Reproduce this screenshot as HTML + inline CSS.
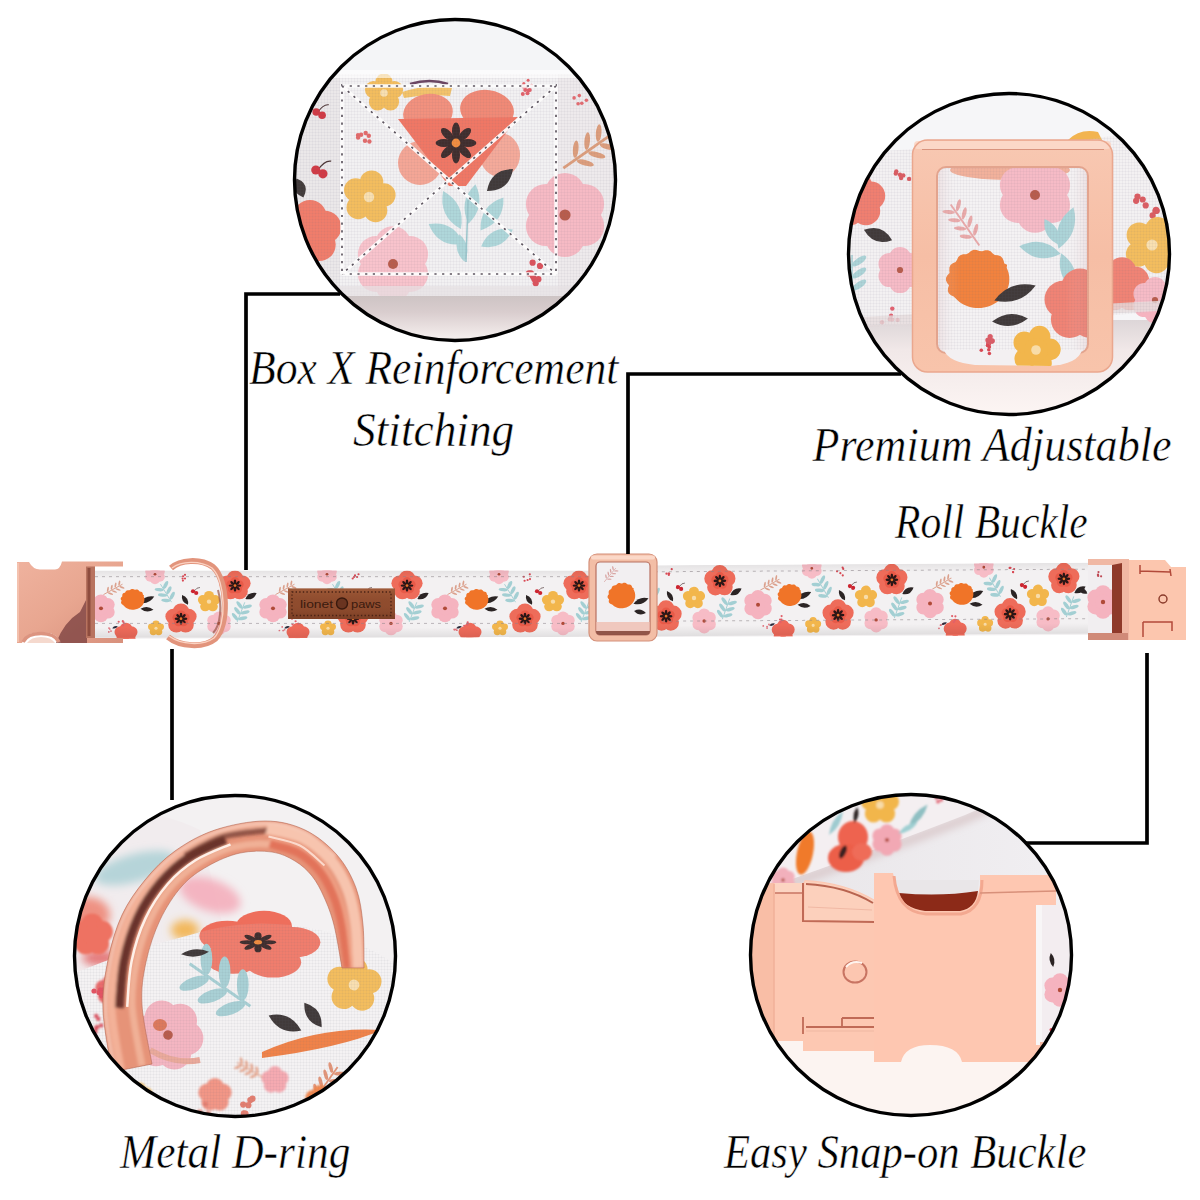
<!DOCTYPE html>
<html><head><meta charset="utf-8"><title>Collar</title>
<style>
html,body{margin:0;padding:0;background:#fff;width:1200px;height:1200px;overflow:hidden}
svg{position:absolute;left:0;top:0;display:block}
.t{font-family:"Liberation Serif",serif;font-style:italic;fill:#000;stroke:#fff;stroke-width:0.5px}
</style></head><body>
<svg width="1200" height="1200" viewBox="0 0 1200 1200">
<defs>
<clipPath id="c1"><circle cx="455" cy="180" r="160.5"/></clipPath>
<clipPath id="c2"><circle cx="1009" cy="254" r="160.5"/></clipPath>
<clipPath id="c3"><circle cx="235" cy="956" r="160.5"/></clipPath>
<clipPath id="c4"><circle cx="911" cy="955" r="160.5"/></clipPath>
<clipPath id="bandLp"><path d="M95,570.5 L624,570.5 L624,636.6 L95,639 Z"/></clipPath><clipPath id="bandRp"><path d="M623,565.6 L1110,562.6 L1110,634.8 L623,637.2 Z"/></clipPath>
<clipPath id="band"><rect x="96" y="566" width="1010" height="68.5"/></clipPath>
<linearGradient id="gold" x1="0" y1="0" x2="1" y2="1"><stop offset="0" stop-color="#f6c2ad"/><stop offset="0.55" stop-color="#eaa891"/><stop offset="1" stop-color="#b87462"/></linearGradient>
<linearGradient id="bandshade" x1="0" y1="0" x2="0" y2="1"><stop offset="0" stop-color="#000" stop-opacity="0.06"/><stop offset="0.12" stop-color="#000" stop-opacity="0"/><stop offset="0.85" stop-color="#000" stop-opacity="0"/><stop offset="1" stop-color="#000" stop-opacity="0.08"/></linearGradient>
<linearGradient id="lbk" x1="0" y1="0" x2="1" y2="1"><stop offset="0" stop-color="#efb29e"/><stop offset="0.5" stop-color="#e8a690"/><stop offset="1" stop-color="#d8907c"/></linearGradient>
<clipPath id="rb"><rect x="596" y="562" width="54" height="73" rx="4"/></clipPath>
<linearGradient id="sh1" x1="0" y1="0" x2="0" y2="1"><stop offset="0" stop-color="#ccc3c3"/><stop offset="0.3" stop-color="#d9cdce"/><stop offset="0.55" stop-color="#e9e0e0"/><stop offset="0.75" stop-color="#f5f0ef"/><stop offset="1" stop-color="#f6f2f1"/></linearGradient>
<linearGradient id="sh2" x1="0" y1="0" x2="0" y2="1"><stop offset="0" stop-color="#ddd6d8"/><stop offset="0.3" stop-color="#f1e8e8"/><stop offset="1" stop-color="#fdf6f4"/></linearGradient>
<linearGradient id="rollsh" x1="0" y1="0" x2="1" y2="0"><stop offset="0" stop-color="#c08080" stop-opacity="0.18"/><stop offset="0.15" stop-color="#fff" stop-opacity="0"/><stop offset="0.85" stop-color="#fff" stop-opacity="0"/><stop offset="1" stop-color="#c08080" stop-opacity="0.18"/></linearGradient>
<clipPath id="c2in"><rect x="937" y="167" width="151" height="186" rx="9"/></clipPath>
<filter id="blur3" x="-50%" y="-50%" width="200%" height="200%"><feGaussianBlur stdDeviation="4"/></filter>
<linearGradient id="lblsh" x1="0" y1="0" x2="0" y2="1"><stop offset="0" stop-color="#b06a44" stop-opacity="0.5"/><stop offset="0.5" stop-color="#8f4c2e" stop-opacity="0"/><stop offset="1" stop-color="#5a2a18" stop-opacity="0.4"/></linearGradient>
<filter id="blur1" x="-20%" y="-20%" width="140%" height="140%"><feGaussianBlur stdDeviation="1.3"/></filter>
<linearGradient id="gr4" x1="0" y1="0" x2="1" y2="0"><stop offset="0" stop-color="#e8e5e8"/><stop offset="1" stop-color="#f1eff2"/></linearGradient>
<clipPath id="fab1"><rect x="290" y="74" width="330" height="222"/></clipPath>
<filter id="blurR" x="-10%" y="-10%" width="120%" height="120%"><feGaussianBlur stdDeviation="1.4"/></filter>
<linearGradient id="frameg" x1="0" y1="0" x2="0" y2="1"><stop offset="0" stop-color="#f8c8b2"/><stop offset="0.5" stop-color="#f6bea5"/><stop offset="1" stop-color="#f8c4ab"/></linearGradient>
<pattern id="weave" width="3" height="3" patternUnits="userSpaceOnUse"><rect width="3" height="3" fill="#fff" fill-opacity="0.10"/><rect x="0" y="0" width="3" height="0.9" fill="#5a5870" fill-opacity="0.055"/><rect x="0" y="0" width="0.9" height="3" fill="#5a5870" fill-opacity="0.055"/></pattern>
</defs>
<rect width="1200" height="1200" fill="#fff"/>
<g clip-path="url(#bandLp)"><g transform="translate(0 570.5) scale(1 0.945) translate(0 -566)"><rect x="60" y="566" width="1100" height="74" fill="#f3f1f2"/><g transform="translate(-59.0 586.0) rotate(60)" fill="#dba08c"><path d="M0,11.0 L0,-11.0" stroke="#dba08c" stroke-width="0.9"/><ellipse cx="2.6" cy="-8.8" rx="2.8" ry="0.9" transform="rotate(-40 2.6 -8.8)" fill="#dba08c"/><ellipse cx="-2.6" cy="-8.8" rx="2.8" ry="0.9" transform="rotate(40 -2.6 -8.8)" fill="#dba08c"/><ellipse cx="2.6" cy="-4.4" rx="2.8" ry="0.9" transform="rotate(-40 2.6 -4.4)" fill="#dba08c"/><ellipse cx="-2.6" cy="-4.4" rx="2.8" ry="0.9" transform="rotate(40 -2.6 -4.4)" fill="#dba08c"/><ellipse cx="2.6" cy="0.0" rx="2.8" ry="0.9" transform="rotate(-40 2.6 0.0)" fill="#dba08c"/><ellipse cx="-2.6" cy="0.0" rx="2.8" ry="0.9" transform="rotate(40 -2.6 0.0)" fill="#dba08c"/><ellipse cx="2.6" cy="4.4" rx="2.8" ry="0.9" transform="rotate(-40 2.6 4.4)" fill="#dba08c"/><ellipse cx="-2.6" cy="4.4" rx="2.8" ry="0.9" transform="rotate(40 -2.6 4.4)" fill="#dba08c"/></g><g transform="translate(-103.0 610.0) rotate(20)"><path d="M0,11.0 L0,-11.0" stroke="#a3cfd3" stroke-width="0.9"/><ellipse cx="4.0" cy="-7.7" rx="4.6" ry="1.8" transform="rotate(-35 4.0 -7.7)" fill="#a3cfd3"/><ellipse cx="-4.0" cy="-6.6" rx="4.6" ry="1.8" transform="rotate(35 -4.0 -6.6)" fill="#a3cfd3"/><ellipse cx="4.0" cy="-1.1" rx="4.6" ry="1.8" transform="rotate(-35 4.0 -1.1)" fill="#a3cfd3"/><ellipse cx="-4.0" cy="0.0" rx="4.6" ry="1.8" transform="rotate(35 -4.0 0.0)" fill="#a3cfd3"/><ellipse cx="4.0" cy="5.5" rx="4.6" ry="1.8" transform="rotate(-35 4.0 5.5)" fill="#a3cfd3"/><ellipse cx="-4.0" cy="6.6" rx="4.6" ry="1.8" transform="rotate(35 -4.0 6.6)" fill="#a3cfd3"/></g><g transform="translate(-6.0 590.0) rotate(-30)"><path d="M0,11.0 L0,-11.0" stroke="#a3cfd3" stroke-width="0.9"/><ellipse cx="4.0" cy="-7.7" rx="4.6" ry="1.8" transform="rotate(-35 4.0 -7.7)" fill="#a3cfd3"/><ellipse cx="-4.0" cy="-6.6" rx="4.6" ry="1.8" transform="rotate(35 -4.0 -6.6)" fill="#a3cfd3"/><ellipse cx="4.0" cy="-1.1" rx="4.6" ry="1.8" transform="rotate(-35 4.0 -1.1)" fill="#a3cfd3"/><ellipse cx="-4.0" cy="0.0" rx="4.6" ry="1.8" transform="rotate(35 -4.0 0.0)" fill="#a3cfd3"/><ellipse cx="4.0" cy="5.5" rx="4.6" ry="1.8" transform="rotate(-35 4.0 5.5)" fill="#a3cfd3"/><ellipse cx="-4.0" cy="6.6" rx="4.6" ry="1.8" transform="rotate(35 -4.0 6.6)" fill="#a3cfd3"/></g><circle cx="-71.0" cy="598.3" r="7.0" fill="#f5b3bf"/><circle cx="-64.3" cy="602.1" r="7.0" fill="#f5b3bf"/><circle cx="-64.3" cy="609.9" r="7.0" fill="#f5b3bf"/><circle cx="-71.0" cy="613.7" r="7.0" fill="#f5b3bf"/><circle cx="-77.7" cy="609.9" r="7.0" fill="#f5b3bf"/><circle cx="-77.7" cy="602.1" r="7.0" fill="#f5b3bf"/><circle cx="-71.0" cy="606.0" r="7.0" fill="#f5b3bf"/><circle cx="-71" cy="606" r="2.0" fill="#b04a38"/><circle cx="47.0" cy="615.4" r="6.0" fill="#f7bcc6"/><circle cx="52.7" cy="618.7" r="6.0" fill="#f7bcc6"/><circle cx="52.7" cy="625.3" r="6.0" fill="#f7bcc6"/><circle cx="47.0" cy="628.6" r="6.0" fill="#f7bcc6"/><circle cx="41.3" cy="625.3" r="6.0" fill="#f7bcc6"/><circle cx="41.3" cy="618.7" r="6.0" fill="#f7bcc6"/><circle cx="47.0" cy="622.0" r="6.0" fill="#f7bcc6"/><circle cx="47" cy="622" r="1.7" fill="#b04a38"/><circle cx="-17.0" cy="564.5" r="5.0" fill="#f7bcc6"/><circle cx="-12.2" cy="567.2" r="5.0" fill="#f7bcc6"/><circle cx="-12.2" cy="572.8" r="5.0" fill="#f7bcc6"/><circle cx="-17.0" cy="575.5" r="5.0" fill="#f7bcc6"/><circle cx="-21.8" cy="572.8" r="5.0" fill="#f7bcc6"/><circle cx="-21.8" cy="567.2" r="5.0" fill="#f7bcc6"/><circle cx="-17.0" cy="570.0" r="5.0" fill="#f7bcc6"/><circle cx="-17" cy="570" r="1.4" fill="#b04a38"/><circle cx="37.0" cy="592.6" r="5.0" fill="#f2b64c"/><circle cx="43.1" cy="597.0" r="5.0" fill="#f2b64c"/><circle cx="40.8" cy="604.2" r="5.0" fill="#f2b64c"/><circle cx="33.2" cy="604.2" r="5.0" fill="#f2b64c"/><circle cx="30.9" cy="597.0" r="5.0" fill="#f2b64c"/><circle cx="37.0" cy="599.0" r="5.5" fill="#f2b64c"/><circle cx="37" cy="599" r="2.2" fill="#f8dca8"/><circle cx="-46.0" cy="627.3" r="6.1" fill="#ee6a5a"/><circle cx="-40.6" cy="631.2" r="6.1" fill="#ee6a5a"/><circle cx="-42.6" cy="637.6" r="6.1" fill="#ee6a5a"/><circle cx="-49.4" cy="637.6" r="6.1" fill="#ee6a5a"/><circle cx="-51.4" cy="631.2" r="6.1" fill="#ee6a5a"/><circle cx="-46.0" cy="633.0" r="5.5" fill="#ee6a5a"/><circle cx="-16.0" cy="622.4" r="3.6" fill="#f2b64c"/><circle cx="-11.6" cy="625.6" r="3.6" fill="#f2b64c"/><circle cx="-13.3" cy="630.8" r="3.6" fill="#f2b64c"/><circle cx="-18.7" cy="630.8" r="3.6" fill="#f2b64c"/><circle cx="-20.4" cy="625.6" r="3.6" fill="#f2b64c"/><circle cx="-16.0" cy="627.0" r="4.0" fill="#f2b64c"/><circle cx="-16" cy="627" r="1.6" fill="#f8dca8"/><circle cx="-62.3" cy="628.5" r="0.9" fill="#e0707a"/><circle cx="-62.2" cy="627.8" r="0.9" fill="#e0707a"/><circle cx="-63.4" cy="627.7" r="0.9" fill="#e0707a"/><circle cx="-60.1" cy="628.7" r="0.9" fill="#e0707a"/><path d="M-3.0,0 Q0,-2.4 3.0,0 Q0,2.4 -3.0,0Z" transform="translate(-57.0 626.0) rotate(-20)" fill="#2a2a3a"/><circle cx="14.1" cy="574.5" r="1.1" fill="#d84a55"/><circle cx="12.4" cy="574.2" r="1.1" fill="#d84a55"/><circle cx="8.3" cy="575.9" r="1.1" fill="#d84a55"/><circle cx="12.8" cy="574.8" r="1.1" fill="#d84a55"/><circle cx="8.7" cy="570.6" r="1.1" fill="#d84a55"/><circle cx="-50.8" cy="620.1" r="1.1" fill="#e0606a"/><circle cx="-48.8" cy="621.0" r="1.1" fill="#e0606a"/><circle cx="-48.1" cy="619.9" r="1.1" fill="#e0606a"/><circle cx="-48.6" cy="621.5" r="1.1" fill="#e0606a"/><path d="M22.0,588.0 q3.0,-4.5 6.0,-4.0" stroke="#3a2020" stroke-width="0.6" fill="none"/><circle cx="21.0" cy="588.0" r="2.1" fill="#cc2530"/><circle cx="24.2" cy="589.8" r="2.1" fill="#cc2530"/><path d="M-6.5,0 Q0,-5.6 6.5,0 Q0,5.6 -6.5,0Z" transform="translate(-93.0 593.0) rotate(-30)" fill="#2b2424"/><circle cx="-109.0" cy="574.2" r="8.2" fill="#ee6c5a"/><circle cx="-101.6" cy="579.6" r="8.2" fill="#ee6c5a"/><circle cx="-104.4" cy="588.3" r="8.2" fill="#ee6c5a"/><circle cx="-113.6" cy="588.3" r="8.2" fill="#ee6c5a"/><circle cx="-116.4" cy="579.6" r="8.2" fill="#ee6c5a"/><circle cx="-109.0" cy="582.0" r="7.5" fill="#ee6c5a"/><circle cx="-109.0" cy="577.7" r="4.5" fill="#e85a48"/><circle cx="-104.9" cy="580.7" r="4.5" fill="#e85a48"/><circle cx="-106.5" cy="585.5" r="4.5" fill="#e85a48"/><circle cx="-111.5" cy="585.5" r="4.5" fill="#e85a48"/><circle cx="-113.1" cy="580.7" r="4.5" fill="#e85a48"/><circle cx="-109.0" cy="582.0" r="4.1" fill="#e85a48"/><ellipse cx="-105.2" cy="582.0" rx="2.6" ry="1.3" transform="rotate(0 -105.2 582.0)" fill="#2a1616"/><ellipse cx="-106.3" cy="584.7" rx="2.6" ry="1.3" transform="rotate(45 -106.3 584.7)" fill="#2a1616"/><ellipse cx="-109.0" cy="585.8" rx="2.6" ry="1.3" transform="rotate(90 -109.0 585.8)" fill="#2a1616"/><ellipse cx="-111.7" cy="584.7" rx="2.6" ry="1.3" transform="rotate(135 -111.7 584.7)" fill="#2a1616"/><ellipse cx="-112.8" cy="582.0" rx="2.6" ry="1.3" transform="rotate(180 -112.8 582.0)" fill="#2a1616"/><ellipse cx="-111.7" cy="579.3" rx="2.6" ry="1.3" transform="rotate(225 -111.7 579.3)" fill="#2a1616"/><ellipse cx="-109.0" cy="578.2" rx="2.6" ry="1.3" transform="rotate(270 -109.0 578.2)" fill="#2a1616"/><ellipse cx="-106.3" cy="579.3" rx="2.6" ry="1.3" transform="rotate(315 -106.3 579.3)" fill="#2a1616"/><circle cx="-109.0" cy="582.0" r="2.2" fill="#2a1616"/><circle cx="-109.0" cy="582.0" r="1.4" fill="#e8742c"/><path d="M-8.0,0 Q0,-5.6 8.0,0 Q0,5.6 -8.0,0Z" transform="translate(-25.0 597.0) rotate(-25)" fill="#2b2424"/><path d="M-6.5,0 Q0,-4.8 6.5,0 Q0,4.8 -6.5,0Z" transform="translate(-25.0 607.0) rotate(5)" fill="#2b2424"/><path d="M11.4,0.0 L11.4,0.9 L11.2,1.8 L11.0,2.7 L10.7,3.6 L10.3,4.4 L9.9,5.2 L9.3,6.0 L8.7,6.7 L8.1,7.4 L7.3,8.0 L6.5,8.6 L5.7,9.1 L4.8,9.5 L3.9,9.9 L3.0,10.1 L2.0,10.3 L1.0,10.4 L0.0,10.5 L-1.0,10.4 L-2.0,10.3 L-3.0,10.1 L-3.9,9.9 L-4.8,9.5 L-5.7,9.1 L-6.5,8.6 L-7.3,8.0 L-8.1,7.4 L-8.7,6.7 L-9.3,6.0 L-9.9,5.2 L-10.4,4.5 L-11.4,3.8 L-12.0,3.0 L-12.2,2.0 L-12.0,1.0 L-11.4,0.0 L-12.0,-1.0 L-12.2,-2.0 L-12.0,-3.0 L-11.4,-3.8 L-10.4,-4.5 L-10.3,-5.5 L-10.1,-6.5 L-9.5,-7.4 L-8.6,-7.9 L-7.4,-8.2 L-6.8,-8.9 L-6.2,-9.8 L-5.3,-10.4 L-4.2,-10.6 L-3.0,-10.4 L-2.0,-10.7 L-1.1,-11.3 L-0.0,-11.5 L1.1,-11.3 L2.0,-10.7 L3.0,-10.4 L4.2,-10.6 L5.3,-10.4 L6.2,-9.8 L6.8,-8.9 L7.4,-8.2 L8.6,-7.9 L9.5,-7.4 L10.1,-6.5 L10.3,-5.5 L10.4,-4.5 L11.4,-3.8 L11.0,-2.7 L11.2,-1.8 L11.4,-0.9Z" transform="translate(-39.0 597.0) rotate(-5)" fill="#f07428"/><path d="M-6.0,0 Q0,-4.8 6.0,0 Q0,4.8 -6.0,0Z" transform="translate(13.0 597.0) rotate(60)" fill="#2b2424"/><circle cx="9.0" cy="609.2" r="8.2" fill="#ee6c5a"/><circle cx="16.4" cy="614.6" r="8.2" fill="#ee6c5a"/><circle cx="13.6" cy="623.3" r="8.2" fill="#ee6c5a"/><circle cx="4.4" cy="623.3" r="8.2" fill="#ee6c5a"/><circle cx="1.6" cy="614.6" r="8.2" fill="#ee6c5a"/><circle cx="9.0" cy="617.0" r="7.5" fill="#ee6c5a"/><circle cx="9.0" cy="612.7" r="4.5" fill="#e85a48"/><circle cx="13.1" cy="615.7" r="4.5" fill="#e85a48"/><circle cx="11.5" cy="620.5" r="4.5" fill="#e85a48"/><circle cx="6.5" cy="620.5" r="4.5" fill="#e85a48"/><circle cx="4.9" cy="615.7" r="4.5" fill="#e85a48"/><circle cx="9.0" cy="617.0" r="4.1" fill="#e85a48"/><ellipse cx="12.8" cy="617.0" rx="2.6" ry="1.3" transform="rotate(0 12.8 617.0)" fill="#2a1616"/><ellipse cx="11.7" cy="619.7" rx="2.6" ry="1.3" transform="rotate(45 11.7 619.7)" fill="#2a1616"/><ellipse cx="9.0" cy="620.8" rx="2.6" ry="1.3" transform="rotate(90 9.0 620.8)" fill="#2a1616"/><ellipse cx="6.3" cy="619.7" rx="2.6" ry="1.3" transform="rotate(135 6.3 619.7)" fill="#2a1616"/><ellipse cx="5.2" cy="617.0" rx="2.6" ry="1.3" transform="rotate(180 5.2 617.0)" fill="#2a1616"/><ellipse cx="6.3" cy="614.3" rx="2.6" ry="1.3" transform="rotate(225 6.3 614.3)" fill="#2a1616"/><ellipse cx="9.0" cy="613.2" rx="2.6" ry="1.3" transform="rotate(270 9.0 613.2)" fill="#2a1616"/><ellipse cx="11.7" cy="614.3" rx="2.6" ry="1.3" transform="rotate(315 11.7 614.3)" fill="#2a1616"/><circle cx="9.0" cy="617.0" r="2.2" fill="#2a1616"/><circle cx="9.0" cy="617.0" r="1.4" fill="#e8742c"/><g transform="translate(113.0 586.0) rotate(60)" fill="#dba08c"><path d="M0,11.0 L0,-11.0" stroke="#dba08c" stroke-width="0.9"/><ellipse cx="2.6" cy="-8.8" rx="2.8" ry="0.9" transform="rotate(-40 2.6 -8.8)" fill="#dba08c"/><ellipse cx="-2.6" cy="-8.8" rx="2.8" ry="0.9" transform="rotate(40 -2.6 -8.8)" fill="#dba08c"/><ellipse cx="2.6" cy="-4.4" rx="2.8" ry="0.9" transform="rotate(-40 2.6 -4.4)" fill="#dba08c"/><ellipse cx="-2.6" cy="-4.4" rx="2.8" ry="0.9" transform="rotate(40 -2.6 -4.4)" fill="#dba08c"/><ellipse cx="2.6" cy="0.0" rx="2.8" ry="0.9" transform="rotate(-40 2.6 0.0)" fill="#dba08c"/><ellipse cx="-2.6" cy="0.0" rx="2.8" ry="0.9" transform="rotate(40 -2.6 0.0)" fill="#dba08c"/><ellipse cx="2.6" cy="4.4" rx="2.8" ry="0.9" transform="rotate(-40 2.6 4.4)" fill="#dba08c"/><ellipse cx="-2.6" cy="4.4" rx="2.8" ry="0.9" transform="rotate(40 -2.6 4.4)" fill="#dba08c"/></g><g transform="translate(69.0 610.0) rotate(20)"><path d="M0,11.0 L0,-11.0" stroke="#a3cfd3" stroke-width="0.9"/><ellipse cx="4.0" cy="-7.7" rx="4.6" ry="1.8" transform="rotate(-35 4.0 -7.7)" fill="#a3cfd3"/><ellipse cx="-4.0" cy="-6.6" rx="4.6" ry="1.8" transform="rotate(35 -4.0 -6.6)" fill="#a3cfd3"/><ellipse cx="4.0" cy="-1.1" rx="4.6" ry="1.8" transform="rotate(-35 4.0 -1.1)" fill="#a3cfd3"/><ellipse cx="-4.0" cy="0.0" rx="4.6" ry="1.8" transform="rotate(35 -4.0 0.0)" fill="#a3cfd3"/><ellipse cx="4.0" cy="5.5" rx="4.6" ry="1.8" transform="rotate(-35 4.0 5.5)" fill="#a3cfd3"/><ellipse cx="-4.0" cy="6.6" rx="4.6" ry="1.8" transform="rotate(35 -4.0 6.6)" fill="#a3cfd3"/></g><g transform="translate(166.0 590.0) rotate(-30)"><path d="M0,11.0 L0,-11.0" stroke="#a3cfd3" stroke-width="0.9"/><ellipse cx="4.0" cy="-7.7" rx="4.6" ry="1.8" transform="rotate(-35 4.0 -7.7)" fill="#a3cfd3"/><ellipse cx="-4.0" cy="-6.6" rx="4.6" ry="1.8" transform="rotate(35 -4.0 -6.6)" fill="#a3cfd3"/><ellipse cx="4.0" cy="-1.1" rx="4.6" ry="1.8" transform="rotate(-35 4.0 -1.1)" fill="#a3cfd3"/><ellipse cx="-4.0" cy="0.0" rx="4.6" ry="1.8" transform="rotate(35 -4.0 0.0)" fill="#a3cfd3"/><ellipse cx="4.0" cy="5.5" rx="4.6" ry="1.8" transform="rotate(-35 4.0 5.5)" fill="#a3cfd3"/><ellipse cx="-4.0" cy="6.6" rx="4.6" ry="1.8" transform="rotate(35 -4.0 6.6)" fill="#a3cfd3"/></g><circle cx="101.0" cy="598.3" r="7.0" fill="#f5b3bf"/><circle cx="107.7" cy="602.1" r="7.0" fill="#f5b3bf"/><circle cx="107.7" cy="609.9" r="7.0" fill="#f5b3bf"/><circle cx="101.0" cy="613.7" r="7.0" fill="#f5b3bf"/><circle cx="94.3" cy="609.9" r="7.0" fill="#f5b3bf"/><circle cx="94.3" cy="602.1" r="7.0" fill="#f5b3bf"/><circle cx="101.0" cy="606.0" r="7.0" fill="#f5b3bf"/><circle cx="101" cy="606" r="2.0" fill="#b04a38"/><circle cx="219.0" cy="615.4" r="6.0" fill="#f7bcc6"/><circle cx="224.7" cy="618.7" r="6.0" fill="#f7bcc6"/><circle cx="224.7" cy="625.3" r="6.0" fill="#f7bcc6"/><circle cx="219.0" cy="628.6" r="6.0" fill="#f7bcc6"/><circle cx="213.3" cy="625.3" r="6.0" fill="#f7bcc6"/><circle cx="213.3" cy="618.7" r="6.0" fill="#f7bcc6"/><circle cx="219.0" cy="622.0" r="6.0" fill="#f7bcc6"/><circle cx="219" cy="622" r="1.7" fill="#b04a38"/><circle cx="155.0" cy="564.5" r="5.0" fill="#f7bcc6"/><circle cx="159.8" cy="567.2" r="5.0" fill="#f7bcc6"/><circle cx="159.8" cy="572.8" r="5.0" fill="#f7bcc6"/><circle cx="155.0" cy="575.5" r="5.0" fill="#f7bcc6"/><circle cx="150.2" cy="572.8" r="5.0" fill="#f7bcc6"/><circle cx="150.2" cy="567.2" r="5.0" fill="#f7bcc6"/><circle cx="155.0" cy="570.0" r="5.0" fill="#f7bcc6"/><circle cx="155" cy="570" r="1.4" fill="#b04a38"/><circle cx="209.0" cy="592.6" r="5.0" fill="#f2b64c"/><circle cx="215.1" cy="597.0" r="5.0" fill="#f2b64c"/><circle cx="212.8" cy="604.2" r="5.0" fill="#f2b64c"/><circle cx="205.2" cy="604.2" r="5.0" fill="#f2b64c"/><circle cx="202.9" cy="597.0" r="5.0" fill="#f2b64c"/><circle cx="209.0" cy="599.0" r="5.5" fill="#f2b64c"/><circle cx="209" cy="599" r="2.2" fill="#f8dca8"/><circle cx="126.0" cy="627.3" r="6.1" fill="#ee6a5a"/><circle cx="131.4" cy="631.2" r="6.1" fill="#ee6a5a"/><circle cx="129.4" cy="637.6" r="6.1" fill="#ee6a5a"/><circle cx="122.6" cy="637.6" r="6.1" fill="#ee6a5a"/><circle cx="120.6" cy="631.2" r="6.1" fill="#ee6a5a"/><circle cx="126.0" cy="633.0" r="5.5" fill="#ee6a5a"/><circle cx="156.0" cy="622.4" r="3.6" fill="#f2b64c"/><circle cx="160.4" cy="625.6" r="3.6" fill="#f2b64c"/><circle cx="158.7" cy="630.8" r="3.6" fill="#f2b64c"/><circle cx="153.3" cy="630.8" r="3.6" fill="#f2b64c"/><circle cx="151.6" cy="625.6" r="3.6" fill="#f2b64c"/><circle cx="156.0" cy="627.0" r="4.0" fill="#f2b64c"/><circle cx="156" cy="627" r="1.6" fill="#f8dca8"/><circle cx="108.8" cy="631.0" r="0.9" fill="#e0707a"/><circle cx="111.0" cy="630.1" r="0.9" fill="#e0707a"/><circle cx="109.0" cy="626.9" r="0.9" fill="#e0707a"/><circle cx="109.8" cy="627.9" r="0.9" fill="#e0707a"/><path d="M-3.0,0 Q0,-2.4 3.0,0 Q0,2.4 -3.0,0Z" transform="translate(115.0 626.0) rotate(-20)" fill="#2a2a3a"/><circle cx="185.0" cy="574.4" r="1.1" fill="#d84a55"/><circle cx="183.1" cy="572.1" r="1.1" fill="#d84a55"/><circle cx="182.9" cy="576.7" r="1.1" fill="#d84a55"/><circle cx="182.6" cy="574.4" r="1.1" fill="#d84a55"/><circle cx="185.0" cy="570.6" r="1.1" fill="#d84a55"/><circle cx="123.1" cy="623.9" r="1.1" fill="#e0606a"/><circle cx="118.7" cy="620.3" r="1.1" fill="#e0606a"/><circle cx="122.8" cy="619.6" r="1.1" fill="#e0606a"/><circle cx="123.6" cy="620.9" r="1.1" fill="#e0606a"/><path d="M194.0,588.0 q3.0,-4.5 6.0,-4.0" stroke="#3a2020" stroke-width="0.6" fill="none"/><circle cx="193.0" cy="588.0" r="2.1" fill="#cc2530"/><circle cx="196.2" cy="589.8" r="2.1" fill="#cc2530"/><path d="M-6.5,0 Q0,-5.6 6.5,0 Q0,5.6 -6.5,0Z" transform="translate(79.0 593.0) rotate(-30)" fill="#2b2424"/><circle cx="63.0" cy="574.2" r="8.2" fill="#ee6c5a"/><circle cx="70.4" cy="579.6" r="8.2" fill="#ee6c5a"/><circle cx="67.6" cy="588.3" r="8.2" fill="#ee6c5a"/><circle cx="58.4" cy="588.3" r="8.2" fill="#ee6c5a"/><circle cx="55.6" cy="579.6" r="8.2" fill="#ee6c5a"/><circle cx="63.0" cy="582.0" r="7.5" fill="#ee6c5a"/><circle cx="63.0" cy="577.7" r="4.5" fill="#e85a48"/><circle cx="67.1" cy="580.7" r="4.5" fill="#e85a48"/><circle cx="65.5" cy="585.5" r="4.5" fill="#e85a48"/><circle cx="60.5" cy="585.5" r="4.5" fill="#e85a48"/><circle cx="58.9" cy="580.7" r="4.5" fill="#e85a48"/><circle cx="63.0" cy="582.0" r="4.1" fill="#e85a48"/><ellipse cx="66.8" cy="582.0" rx="2.6" ry="1.3" transform="rotate(0 66.8 582.0)" fill="#2a1616"/><ellipse cx="65.7" cy="584.7" rx="2.6" ry="1.3" transform="rotate(45 65.7 584.7)" fill="#2a1616"/><ellipse cx="63.0" cy="585.8" rx="2.6" ry="1.3" transform="rotate(90 63.0 585.8)" fill="#2a1616"/><ellipse cx="60.3" cy="584.7" rx="2.6" ry="1.3" transform="rotate(135 60.3 584.7)" fill="#2a1616"/><ellipse cx="59.2" cy="582.0" rx="2.6" ry="1.3" transform="rotate(180 59.2 582.0)" fill="#2a1616"/><ellipse cx="60.3" cy="579.3" rx="2.6" ry="1.3" transform="rotate(225 60.3 579.3)" fill="#2a1616"/><ellipse cx="63.0" cy="578.2" rx="2.6" ry="1.3" transform="rotate(270 63.0 578.2)" fill="#2a1616"/><ellipse cx="65.7" cy="579.3" rx="2.6" ry="1.3" transform="rotate(315 65.7 579.3)" fill="#2a1616"/><circle cx="63.0" cy="582.0" r="2.2" fill="#2a1616"/><circle cx="63.0" cy="582.0" r="1.4" fill="#e8742c"/><path d="M-8.0,0 Q0,-5.6 8.0,0 Q0,5.6 -8.0,0Z" transform="translate(147.0 597.0) rotate(-25)" fill="#2b2424"/><path d="M-6.5,0 Q0,-4.8 6.5,0 Q0,4.8 -6.5,0Z" transform="translate(147.0 607.0) rotate(5)" fill="#2b2424"/><path d="M11.4,0.0 L11.4,0.9 L11.2,1.8 L11.0,2.7 L10.7,3.6 L10.3,4.4 L9.9,5.2 L9.3,6.0 L8.7,6.7 L8.1,7.4 L7.3,8.0 L6.5,8.6 L5.7,9.1 L4.8,9.5 L3.9,9.9 L3.0,10.1 L2.0,10.3 L1.0,10.4 L0.0,10.5 L-1.0,10.4 L-2.0,10.3 L-3.0,10.1 L-3.9,9.9 L-4.8,9.5 L-5.7,9.1 L-6.5,8.6 L-7.3,8.0 L-8.1,7.4 L-8.7,6.7 L-9.3,6.0 L-9.9,5.2 L-10.4,4.5 L-11.4,3.8 L-12.0,3.0 L-12.2,2.0 L-12.0,1.0 L-11.4,0.0 L-12.0,-1.0 L-12.2,-2.0 L-12.0,-3.0 L-11.4,-3.8 L-10.4,-4.5 L-10.3,-5.5 L-10.1,-6.5 L-9.5,-7.4 L-8.6,-7.9 L-7.4,-8.2 L-6.8,-8.9 L-6.2,-9.8 L-5.3,-10.4 L-4.2,-10.6 L-3.0,-10.4 L-2.0,-10.7 L-1.1,-11.3 L-0.0,-11.5 L1.1,-11.3 L2.0,-10.7 L3.0,-10.4 L4.2,-10.6 L5.3,-10.4 L6.2,-9.8 L6.8,-8.9 L7.4,-8.2 L8.6,-7.9 L9.5,-7.4 L10.1,-6.5 L10.3,-5.5 L10.4,-4.5 L11.4,-3.8 L11.0,-2.7 L11.2,-1.8 L11.4,-0.9Z" transform="translate(133.0 597.0) rotate(-5)" fill="#f07428"/><path d="M-6.0,0 Q0,-4.8 6.0,0 Q0,4.8 -6.0,0Z" transform="translate(185.0 597.0) rotate(60)" fill="#2b2424"/><circle cx="181.0" cy="609.2" r="8.2" fill="#ee6c5a"/><circle cx="188.4" cy="614.6" r="8.2" fill="#ee6c5a"/><circle cx="185.6" cy="623.3" r="8.2" fill="#ee6c5a"/><circle cx="176.4" cy="623.3" r="8.2" fill="#ee6c5a"/><circle cx="173.6" cy="614.6" r="8.2" fill="#ee6c5a"/><circle cx="181.0" cy="617.0" r="7.5" fill="#ee6c5a"/><circle cx="181.0" cy="612.7" r="4.5" fill="#e85a48"/><circle cx="185.1" cy="615.7" r="4.5" fill="#e85a48"/><circle cx="183.5" cy="620.5" r="4.5" fill="#e85a48"/><circle cx="178.5" cy="620.5" r="4.5" fill="#e85a48"/><circle cx="176.9" cy="615.7" r="4.5" fill="#e85a48"/><circle cx="181.0" cy="617.0" r="4.1" fill="#e85a48"/><ellipse cx="184.8" cy="617.0" rx="2.6" ry="1.3" transform="rotate(0 184.8 617.0)" fill="#2a1616"/><ellipse cx="183.7" cy="619.7" rx="2.6" ry="1.3" transform="rotate(45 183.7 619.7)" fill="#2a1616"/><ellipse cx="181.0" cy="620.8" rx="2.6" ry="1.3" transform="rotate(90 181.0 620.8)" fill="#2a1616"/><ellipse cx="178.3" cy="619.7" rx="2.6" ry="1.3" transform="rotate(135 178.3 619.7)" fill="#2a1616"/><ellipse cx="177.2" cy="617.0" rx="2.6" ry="1.3" transform="rotate(180 177.2 617.0)" fill="#2a1616"/><ellipse cx="178.3" cy="614.3" rx="2.6" ry="1.3" transform="rotate(225 178.3 614.3)" fill="#2a1616"/><ellipse cx="181.0" cy="613.2" rx="2.6" ry="1.3" transform="rotate(270 181.0 613.2)" fill="#2a1616"/><ellipse cx="183.7" cy="614.3" rx="2.6" ry="1.3" transform="rotate(315 183.7 614.3)" fill="#2a1616"/><circle cx="181.0" cy="617.0" r="2.2" fill="#2a1616"/><circle cx="181.0" cy="617.0" r="1.4" fill="#e8742c"/><g transform="translate(285.0 586.0) rotate(60)" fill="#dba08c"><path d="M0,11.0 L0,-11.0" stroke="#dba08c" stroke-width="0.9"/><ellipse cx="2.6" cy="-8.8" rx="2.8" ry="0.9" transform="rotate(-40 2.6 -8.8)" fill="#dba08c"/><ellipse cx="-2.6" cy="-8.8" rx="2.8" ry="0.9" transform="rotate(40 -2.6 -8.8)" fill="#dba08c"/><ellipse cx="2.6" cy="-4.4" rx="2.8" ry="0.9" transform="rotate(-40 2.6 -4.4)" fill="#dba08c"/><ellipse cx="-2.6" cy="-4.4" rx="2.8" ry="0.9" transform="rotate(40 -2.6 -4.4)" fill="#dba08c"/><ellipse cx="2.6" cy="0.0" rx="2.8" ry="0.9" transform="rotate(-40 2.6 0.0)" fill="#dba08c"/><ellipse cx="-2.6" cy="0.0" rx="2.8" ry="0.9" transform="rotate(40 -2.6 0.0)" fill="#dba08c"/><ellipse cx="2.6" cy="4.4" rx="2.8" ry="0.9" transform="rotate(-40 2.6 4.4)" fill="#dba08c"/><ellipse cx="-2.6" cy="4.4" rx="2.8" ry="0.9" transform="rotate(40 -2.6 4.4)" fill="#dba08c"/></g><g transform="translate(241.0 610.0) rotate(20)"><path d="M0,11.0 L0,-11.0" stroke="#a3cfd3" stroke-width="0.9"/><ellipse cx="4.0" cy="-7.7" rx="4.6" ry="1.8" transform="rotate(-35 4.0 -7.7)" fill="#a3cfd3"/><ellipse cx="-4.0" cy="-6.6" rx="4.6" ry="1.8" transform="rotate(35 -4.0 -6.6)" fill="#a3cfd3"/><ellipse cx="4.0" cy="-1.1" rx="4.6" ry="1.8" transform="rotate(-35 4.0 -1.1)" fill="#a3cfd3"/><ellipse cx="-4.0" cy="0.0" rx="4.6" ry="1.8" transform="rotate(35 -4.0 0.0)" fill="#a3cfd3"/><ellipse cx="4.0" cy="5.5" rx="4.6" ry="1.8" transform="rotate(-35 4.0 5.5)" fill="#a3cfd3"/><ellipse cx="-4.0" cy="6.6" rx="4.6" ry="1.8" transform="rotate(35 -4.0 6.6)" fill="#a3cfd3"/></g><g transform="translate(338.0 590.0) rotate(-30)"><path d="M0,11.0 L0,-11.0" stroke="#a3cfd3" stroke-width="0.9"/><ellipse cx="4.0" cy="-7.7" rx="4.6" ry="1.8" transform="rotate(-35 4.0 -7.7)" fill="#a3cfd3"/><ellipse cx="-4.0" cy="-6.6" rx="4.6" ry="1.8" transform="rotate(35 -4.0 -6.6)" fill="#a3cfd3"/><ellipse cx="4.0" cy="-1.1" rx="4.6" ry="1.8" transform="rotate(-35 4.0 -1.1)" fill="#a3cfd3"/><ellipse cx="-4.0" cy="0.0" rx="4.6" ry="1.8" transform="rotate(35 -4.0 0.0)" fill="#a3cfd3"/><ellipse cx="4.0" cy="5.5" rx="4.6" ry="1.8" transform="rotate(-35 4.0 5.5)" fill="#a3cfd3"/><ellipse cx="-4.0" cy="6.6" rx="4.6" ry="1.8" transform="rotate(35 -4.0 6.6)" fill="#a3cfd3"/></g><circle cx="273.0" cy="598.3" r="7.0" fill="#f5b3bf"/><circle cx="279.7" cy="602.1" r="7.0" fill="#f5b3bf"/><circle cx="279.7" cy="609.9" r="7.0" fill="#f5b3bf"/><circle cx="273.0" cy="613.7" r="7.0" fill="#f5b3bf"/><circle cx="266.3" cy="609.9" r="7.0" fill="#f5b3bf"/><circle cx="266.3" cy="602.1" r="7.0" fill="#f5b3bf"/><circle cx="273.0" cy="606.0" r="7.0" fill="#f5b3bf"/><circle cx="273" cy="606" r="2.0" fill="#b04a38"/><circle cx="391.0" cy="615.4" r="6.0" fill="#f7bcc6"/><circle cx="396.7" cy="618.7" r="6.0" fill="#f7bcc6"/><circle cx="396.7" cy="625.3" r="6.0" fill="#f7bcc6"/><circle cx="391.0" cy="628.6" r="6.0" fill="#f7bcc6"/><circle cx="385.3" cy="625.3" r="6.0" fill="#f7bcc6"/><circle cx="385.3" cy="618.7" r="6.0" fill="#f7bcc6"/><circle cx="391.0" cy="622.0" r="6.0" fill="#f7bcc6"/><circle cx="391" cy="622" r="1.7" fill="#b04a38"/><circle cx="327.0" cy="564.5" r="5.0" fill="#f7bcc6"/><circle cx="331.8" cy="567.2" r="5.0" fill="#f7bcc6"/><circle cx="331.8" cy="572.8" r="5.0" fill="#f7bcc6"/><circle cx="327.0" cy="575.5" r="5.0" fill="#f7bcc6"/><circle cx="322.2" cy="572.8" r="5.0" fill="#f7bcc6"/><circle cx="322.2" cy="567.2" r="5.0" fill="#f7bcc6"/><circle cx="327.0" cy="570.0" r="5.0" fill="#f7bcc6"/><circle cx="327" cy="570" r="1.4" fill="#b04a38"/><circle cx="381.0" cy="592.6" r="5.0" fill="#f2b64c"/><circle cx="387.1" cy="597.0" r="5.0" fill="#f2b64c"/><circle cx="384.8" cy="604.2" r="5.0" fill="#f2b64c"/><circle cx="377.2" cy="604.2" r="5.0" fill="#f2b64c"/><circle cx="374.9" cy="597.0" r="5.0" fill="#f2b64c"/><circle cx="381.0" cy="599.0" r="5.5" fill="#f2b64c"/><circle cx="381" cy="599" r="2.2" fill="#f8dca8"/><circle cx="298.0" cy="627.3" r="6.1" fill="#ee6a5a"/><circle cx="303.4" cy="631.2" r="6.1" fill="#ee6a5a"/><circle cx="301.4" cy="637.6" r="6.1" fill="#ee6a5a"/><circle cx="294.6" cy="637.6" r="6.1" fill="#ee6a5a"/><circle cx="292.6" cy="631.2" r="6.1" fill="#ee6a5a"/><circle cx="298.0" cy="633.0" r="5.5" fill="#ee6a5a"/><circle cx="328.0" cy="622.4" r="3.6" fill="#f2b64c"/><circle cx="332.4" cy="625.6" r="3.6" fill="#f2b64c"/><circle cx="330.7" cy="630.8" r="3.6" fill="#f2b64c"/><circle cx="325.3" cy="630.8" r="3.6" fill="#f2b64c"/><circle cx="323.6" cy="625.6" r="3.6" fill="#f2b64c"/><circle cx="328.0" cy="627.0" r="4.0" fill="#f2b64c"/><circle cx="328" cy="627" r="1.6" fill="#f8dca8"/><circle cx="279.4" cy="629.5" r="0.9" fill="#e0707a"/><circle cx="283.1" cy="629.6" r="0.9" fill="#e0707a"/><circle cx="284.6" cy="628.7" r="0.9" fill="#e0707a"/><circle cx="282.2" cy="625.7" r="0.9" fill="#e0707a"/><path d="M-3.0,0 Q0,-2.4 3.0,0 Q0,2.4 -3.0,0Z" transform="translate(287.0 626.0) rotate(-20)" fill="#2a2a3a"/><circle cx="357.1" cy="572.9" r="1.1" fill="#d84a55"/><circle cx="355.0" cy="571.2" r="1.1" fill="#d84a55"/><circle cx="354.0" cy="572.9" r="1.1" fill="#d84a55"/><circle cx="358.5" cy="570.0" r="1.1" fill="#d84a55"/><circle cx="352.7" cy="574.5" r="1.1" fill="#d84a55"/><circle cx="298.3" cy="622.3" r="1.1" fill="#e0606a"/><circle cx="292.0" cy="617.0" r="1.1" fill="#e0606a"/><circle cx="295.6" cy="619.7" r="1.1" fill="#e0606a"/><circle cx="292.5" cy="623.2" r="1.1" fill="#e0606a"/><path d="M366.0,588.0 q3.0,-4.5 6.0,-4.0" stroke="#3a2020" stroke-width="0.6" fill="none"/><circle cx="365.0" cy="588.0" r="2.1" fill="#cc2530"/><circle cx="368.2" cy="589.8" r="2.1" fill="#cc2530"/><path d="M-6.5,0 Q0,-5.6 6.5,0 Q0,5.6 -6.5,0Z" transform="translate(251.0 593.0) rotate(-30)" fill="#2b2424"/><circle cx="235.0" cy="574.2" r="8.2" fill="#ee6c5a"/><circle cx="242.4" cy="579.6" r="8.2" fill="#ee6c5a"/><circle cx="239.6" cy="588.3" r="8.2" fill="#ee6c5a"/><circle cx="230.4" cy="588.3" r="8.2" fill="#ee6c5a"/><circle cx="227.6" cy="579.6" r="8.2" fill="#ee6c5a"/><circle cx="235.0" cy="582.0" r="7.5" fill="#ee6c5a"/><circle cx="235.0" cy="577.7" r="4.5" fill="#e85a48"/><circle cx="239.1" cy="580.7" r="4.5" fill="#e85a48"/><circle cx="237.5" cy="585.5" r="4.5" fill="#e85a48"/><circle cx="232.5" cy="585.5" r="4.5" fill="#e85a48"/><circle cx="230.9" cy="580.7" r="4.5" fill="#e85a48"/><circle cx="235.0" cy="582.0" r="4.1" fill="#e85a48"/><ellipse cx="238.8" cy="582.0" rx="2.6" ry="1.3" transform="rotate(0 238.8 582.0)" fill="#2a1616"/><ellipse cx="237.7" cy="584.7" rx="2.6" ry="1.3" transform="rotate(45 237.7 584.7)" fill="#2a1616"/><ellipse cx="235.0" cy="585.8" rx="2.6" ry="1.3" transform="rotate(90 235.0 585.8)" fill="#2a1616"/><ellipse cx="232.3" cy="584.7" rx="2.6" ry="1.3" transform="rotate(135 232.3 584.7)" fill="#2a1616"/><ellipse cx="231.2" cy="582.0" rx="2.6" ry="1.3" transform="rotate(180 231.2 582.0)" fill="#2a1616"/><ellipse cx="232.3" cy="579.3" rx="2.6" ry="1.3" transform="rotate(225 232.3 579.3)" fill="#2a1616"/><ellipse cx="235.0" cy="578.2" rx="2.6" ry="1.3" transform="rotate(270 235.0 578.2)" fill="#2a1616"/><ellipse cx="237.7" cy="579.3" rx="2.6" ry="1.3" transform="rotate(315 237.7 579.3)" fill="#2a1616"/><circle cx="235.0" cy="582.0" r="2.2" fill="#2a1616"/><circle cx="235.0" cy="582.0" r="1.4" fill="#e8742c"/><path d="M-8.0,0 Q0,-5.6 8.0,0 Q0,5.6 -8.0,0Z" transform="translate(319.0 597.0) rotate(-25)" fill="#2b2424"/><path d="M-6.5,0 Q0,-4.8 6.5,0 Q0,4.8 -6.5,0Z" transform="translate(319.0 607.0) rotate(5)" fill="#2b2424"/><path d="M11.4,0.0 L11.4,0.9 L11.2,1.8 L11.0,2.7 L10.7,3.6 L10.3,4.4 L9.9,5.2 L9.3,6.0 L8.7,6.7 L8.1,7.4 L7.3,8.0 L6.5,8.6 L5.7,9.1 L4.8,9.5 L3.9,9.9 L3.0,10.1 L2.0,10.3 L1.0,10.4 L0.0,10.5 L-1.0,10.4 L-2.0,10.3 L-3.0,10.1 L-3.9,9.9 L-4.8,9.5 L-5.7,9.1 L-6.5,8.6 L-7.3,8.0 L-8.1,7.4 L-8.7,6.7 L-9.3,6.0 L-9.9,5.2 L-10.4,4.5 L-11.4,3.8 L-12.0,3.0 L-12.2,2.0 L-12.0,1.0 L-11.4,0.0 L-12.0,-1.0 L-12.2,-2.0 L-12.0,-3.0 L-11.4,-3.8 L-10.4,-4.5 L-10.3,-5.5 L-10.1,-6.5 L-9.5,-7.4 L-8.6,-7.9 L-7.4,-8.2 L-6.8,-8.9 L-6.2,-9.8 L-5.3,-10.4 L-4.2,-10.6 L-3.0,-10.4 L-2.0,-10.7 L-1.1,-11.3 L-0.0,-11.5 L1.1,-11.3 L2.0,-10.7 L3.0,-10.4 L4.2,-10.6 L5.3,-10.4 L6.2,-9.8 L6.8,-8.9 L7.4,-8.2 L8.6,-7.9 L9.5,-7.4 L10.1,-6.5 L10.3,-5.5 L10.4,-4.5 L11.4,-3.8 L11.0,-2.7 L11.2,-1.8 L11.4,-0.9Z" transform="translate(305.0 597.0) rotate(-5)" fill="#f07428"/><path d="M-6.0,0 Q0,-4.8 6.0,0 Q0,4.8 -6.0,0Z" transform="translate(357.0 597.0) rotate(60)" fill="#2b2424"/><circle cx="353.0" cy="609.2" r="8.2" fill="#ee6c5a"/><circle cx="360.4" cy="614.6" r="8.2" fill="#ee6c5a"/><circle cx="357.6" cy="623.3" r="8.2" fill="#ee6c5a"/><circle cx="348.4" cy="623.3" r="8.2" fill="#ee6c5a"/><circle cx="345.6" cy="614.6" r="8.2" fill="#ee6c5a"/><circle cx="353.0" cy="617.0" r="7.5" fill="#ee6c5a"/><circle cx="353.0" cy="612.7" r="4.5" fill="#e85a48"/><circle cx="357.1" cy="615.7" r="4.5" fill="#e85a48"/><circle cx="355.5" cy="620.5" r="4.5" fill="#e85a48"/><circle cx="350.5" cy="620.5" r="4.5" fill="#e85a48"/><circle cx="348.9" cy="615.7" r="4.5" fill="#e85a48"/><circle cx="353.0" cy="617.0" r="4.1" fill="#e85a48"/><ellipse cx="356.8" cy="617.0" rx="2.6" ry="1.3" transform="rotate(0 356.8 617.0)" fill="#2a1616"/><ellipse cx="355.7" cy="619.7" rx="2.6" ry="1.3" transform="rotate(45 355.7 619.7)" fill="#2a1616"/><ellipse cx="353.0" cy="620.8" rx="2.6" ry="1.3" transform="rotate(90 353.0 620.8)" fill="#2a1616"/><ellipse cx="350.3" cy="619.7" rx="2.6" ry="1.3" transform="rotate(135 350.3 619.7)" fill="#2a1616"/><ellipse cx="349.2" cy="617.0" rx="2.6" ry="1.3" transform="rotate(180 349.2 617.0)" fill="#2a1616"/><ellipse cx="350.3" cy="614.3" rx="2.6" ry="1.3" transform="rotate(225 350.3 614.3)" fill="#2a1616"/><ellipse cx="353.0" cy="613.2" rx="2.6" ry="1.3" transform="rotate(270 353.0 613.2)" fill="#2a1616"/><ellipse cx="355.7" cy="614.3" rx="2.6" ry="1.3" transform="rotate(315 355.7 614.3)" fill="#2a1616"/><circle cx="353.0" cy="617.0" r="2.2" fill="#2a1616"/><circle cx="353.0" cy="617.0" r="1.4" fill="#e8742c"/><g transform="translate(457.0 586.0) rotate(60)" fill="#dba08c"><path d="M0,11.0 L0,-11.0" stroke="#dba08c" stroke-width="0.9"/><ellipse cx="2.6" cy="-8.8" rx="2.8" ry="0.9" transform="rotate(-40 2.6 -8.8)" fill="#dba08c"/><ellipse cx="-2.6" cy="-8.8" rx="2.8" ry="0.9" transform="rotate(40 -2.6 -8.8)" fill="#dba08c"/><ellipse cx="2.6" cy="-4.4" rx="2.8" ry="0.9" transform="rotate(-40 2.6 -4.4)" fill="#dba08c"/><ellipse cx="-2.6" cy="-4.4" rx="2.8" ry="0.9" transform="rotate(40 -2.6 -4.4)" fill="#dba08c"/><ellipse cx="2.6" cy="0.0" rx="2.8" ry="0.9" transform="rotate(-40 2.6 0.0)" fill="#dba08c"/><ellipse cx="-2.6" cy="0.0" rx="2.8" ry="0.9" transform="rotate(40 -2.6 0.0)" fill="#dba08c"/><ellipse cx="2.6" cy="4.4" rx="2.8" ry="0.9" transform="rotate(-40 2.6 4.4)" fill="#dba08c"/><ellipse cx="-2.6" cy="4.4" rx="2.8" ry="0.9" transform="rotate(40 -2.6 4.4)" fill="#dba08c"/></g><g transform="translate(413.0 610.0) rotate(20)"><path d="M0,11.0 L0,-11.0" stroke="#a3cfd3" stroke-width="0.9"/><ellipse cx="4.0" cy="-7.7" rx="4.6" ry="1.8" transform="rotate(-35 4.0 -7.7)" fill="#a3cfd3"/><ellipse cx="-4.0" cy="-6.6" rx="4.6" ry="1.8" transform="rotate(35 -4.0 -6.6)" fill="#a3cfd3"/><ellipse cx="4.0" cy="-1.1" rx="4.6" ry="1.8" transform="rotate(-35 4.0 -1.1)" fill="#a3cfd3"/><ellipse cx="-4.0" cy="0.0" rx="4.6" ry="1.8" transform="rotate(35 -4.0 0.0)" fill="#a3cfd3"/><ellipse cx="4.0" cy="5.5" rx="4.6" ry="1.8" transform="rotate(-35 4.0 5.5)" fill="#a3cfd3"/><ellipse cx="-4.0" cy="6.6" rx="4.6" ry="1.8" transform="rotate(35 -4.0 6.6)" fill="#a3cfd3"/></g><g transform="translate(510.0 590.0) rotate(-30)"><path d="M0,11.0 L0,-11.0" stroke="#a3cfd3" stroke-width="0.9"/><ellipse cx="4.0" cy="-7.7" rx="4.6" ry="1.8" transform="rotate(-35 4.0 -7.7)" fill="#a3cfd3"/><ellipse cx="-4.0" cy="-6.6" rx="4.6" ry="1.8" transform="rotate(35 -4.0 -6.6)" fill="#a3cfd3"/><ellipse cx="4.0" cy="-1.1" rx="4.6" ry="1.8" transform="rotate(-35 4.0 -1.1)" fill="#a3cfd3"/><ellipse cx="-4.0" cy="0.0" rx="4.6" ry="1.8" transform="rotate(35 -4.0 0.0)" fill="#a3cfd3"/><ellipse cx="4.0" cy="5.5" rx="4.6" ry="1.8" transform="rotate(-35 4.0 5.5)" fill="#a3cfd3"/><ellipse cx="-4.0" cy="6.6" rx="4.6" ry="1.8" transform="rotate(35 -4.0 6.6)" fill="#a3cfd3"/></g><circle cx="445.0" cy="598.3" r="7.0" fill="#f5b3bf"/><circle cx="451.7" cy="602.1" r="7.0" fill="#f5b3bf"/><circle cx="451.7" cy="609.9" r="7.0" fill="#f5b3bf"/><circle cx="445.0" cy="613.7" r="7.0" fill="#f5b3bf"/><circle cx="438.3" cy="609.9" r="7.0" fill="#f5b3bf"/><circle cx="438.3" cy="602.1" r="7.0" fill="#f5b3bf"/><circle cx="445.0" cy="606.0" r="7.0" fill="#f5b3bf"/><circle cx="445" cy="606" r="2.0" fill="#b04a38"/><circle cx="563.0" cy="615.4" r="6.0" fill="#f7bcc6"/><circle cx="568.7" cy="618.7" r="6.0" fill="#f7bcc6"/><circle cx="568.7" cy="625.3" r="6.0" fill="#f7bcc6"/><circle cx="563.0" cy="628.6" r="6.0" fill="#f7bcc6"/><circle cx="557.3" cy="625.3" r="6.0" fill="#f7bcc6"/><circle cx="557.3" cy="618.7" r="6.0" fill="#f7bcc6"/><circle cx="563.0" cy="622.0" r="6.0" fill="#f7bcc6"/><circle cx="563" cy="622" r="1.7" fill="#b04a38"/><circle cx="499.0" cy="564.5" r="5.0" fill="#f7bcc6"/><circle cx="503.8" cy="567.2" r="5.0" fill="#f7bcc6"/><circle cx="503.8" cy="572.8" r="5.0" fill="#f7bcc6"/><circle cx="499.0" cy="575.5" r="5.0" fill="#f7bcc6"/><circle cx="494.2" cy="572.8" r="5.0" fill="#f7bcc6"/><circle cx="494.2" cy="567.2" r="5.0" fill="#f7bcc6"/><circle cx="499.0" cy="570.0" r="5.0" fill="#f7bcc6"/><circle cx="499" cy="570" r="1.4" fill="#b04a38"/><circle cx="553.0" cy="592.6" r="5.0" fill="#f2b64c"/><circle cx="559.1" cy="597.0" r="5.0" fill="#f2b64c"/><circle cx="556.8" cy="604.2" r="5.0" fill="#f2b64c"/><circle cx="549.2" cy="604.2" r="5.0" fill="#f2b64c"/><circle cx="546.9" cy="597.0" r="5.0" fill="#f2b64c"/><circle cx="553.0" cy="599.0" r="5.5" fill="#f2b64c"/><circle cx="553" cy="599" r="2.2" fill="#f8dca8"/><circle cx="470.0" cy="627.3" r="6.1" fill="#ee6a5a"/><circle cx="475.4" cy="631.2" r="6.1" fill="#ee6a5a"/><circle cx="473.4" cy="637.6" r="6.1" fill="#ee6a5a"/><circle cx="466.6" cy="637.6" r="6.1" fill="#ee6a5a"/><circle cx="464.6" cy="631.2" r="6.1" fill="#ee6a5a"/><circle cx="470.0" cy="633.0" r="5.5" fill="#ee6a5a"/><circle cx="500.0" cy="622.4" r="3.6" fill="#f2b64c"/><circle cx="504.4" cy="625.6" r="3.6" fill="#f2b64c"/><circle cx="502.7" cy="630.8" r="3.6" fill="#f2b64c"/><circle cx="497.3" cy="630.8" r="3.6" fill="#f2b64c"/><circle cx="495.6" cy="625.6" r="3.6" fill="#f2b64c"/><circle cx="500.0" cy="627.0" r="4.0" fill="#f2b64c"/><circle cx="500" cy="627" r="1.6" fill="#f8dca8"/><circle cx="455.8" cy="628.3" r="0.9" fill="#e0707a"/><circle cx="454.2" cy="628.4" r="0.9" fill="#e0707a"/><circle cx="456.9" cy="629.1" r="0.9" fill="#e0707a"/><circle cx="454.7" cy="628.7" r="0.9" fill="#e0707a"/><path d="M-3.0,0 Q0,-2.4 3.0,0 Q0,2.4 -3.0,0Z" transform="translate(459.0 626.0) rotate(-20)" fill="#2a2a3a"/><circle cx="524.6" cy="576.8" r="1.1" fill="#d84a55"/><circle cx="530.0" cy="575.1" r="1.1" fill="#d84a55"/><circle cx="523.8" cy="572.7" r="1.1" fill="#d84a55"/><circle cx="529.8" cy="570.1" r="1.1" fill="#d84a55"/><circle cx="527.6" cy="576.0" r="1.1" fill="#d84a55"/><circle cx="464.2" cy="624.4" r="1.1" fill="#e0606a"/><circle cx="467.7" cy="620.8" r="1.1" fill="#e0606a"/><circle cx="467.5" cy="622.0" r="1.1" fill="#e0606a"/><circle cx="467.3" cy="623.4" r="1.1" fill="#e0606a"/><path d="M538.0,588.0 q3.0,-4.5 6.0,-4.0" stroke="#3a2020" stroke-width="0.6" fill="none"/><circle cx="537.0" cy="588.0" r="2.1" fill="#cc2530"/><circle cx="540.2" cy="589.8" r="2.1" fill="#cc2530"/><path d="M-6.5,0 Q0,-5.6 6.5,0 Q0,5.6 -6.5,0Z" transform="translate(423.0 593.0) rotate(-30)" fill="#2b2424"/><circle cx="407.0" cy="574.2" r="8.2" fill="#ee6c5a"/><circle cx="414.4" cy="579.6" r="8.2" fill="#ee6c5a"/><circle cx="411.6" cy="588.3" r="8.2" fill="#ee6c5a"/><circle cx="402.4" cy="588.3" r="8.2" fill="#ee6c5a"/><circle cx="399.6" cy="579.6" r="8.2" fill="#ee6c5a"/><circle cx="407.0" cy="582.0" r="7.5" fill="#ee6c5a"/><circle cx="407.0" cy="577.7" r="4.5" fill="#e85a48"/><circle cx="411.1" cy="580.7" r="4.5" fill="#e85a48"/><circle cx="409.5" cy="585.5" r="4.5" fill="#e85a48"/><circle cx="404.5" cy="585.5" r="4.5" fill="#e85a48"/><circle cx="402.9" cy="580.7" r="4.5" fill="#e85a48"/><circle cx="407.0" cy="582.0" r="4.1" fill="#e85a48"/><ellipse cx="410.8" cy="582.0" rx="2.6" ry="1.3" transform="rotate(0 410.8 582.0)" fill="#2a1616"/><ellipse cx="409.7" cy="584.7" rx="2.6" ry="1.3" transform="rotate(45 409.7 584.7)" fill="#2a1616"/><ellipse cx="407.0" cy="585.8" rx="2.6" ry="1.3" transform="rotate(90 407.0 585.8)" fill="#2a1616"/><ellipse cx="404.3" cy="584.7" rx="2.6" ry="1.3" transform="rotate(135 404.3 584.7)" fill="#2a1616"/><ellipse cx="403.2" cy="582.0" rx="2.6" ry="1.3" transform="rotate(180 403.2 582.0)" fill="#2a1616"/><ellipse cx="404.3" cy="579.3" rx="2.6" ry="1.3" transform="rotate(225 404.3 579.3)" fill="#2a1616"/><ellipse cx="407.0" cy="578.2" rx="2.6" ry="1.3" transform="rotate(270 407.0 578.2)" fill="#2a1616"/><ellipse cx="409.7" cy="579.3" rx="2.6" ry="1.3" transform="rotate(315 409.7 579.3)" fill="#2a1616"/><circle cx="407.0" cy="582.0" r="2.2" fill="#2a1616"/><circle cx="407.0" cy="582.0" r="1.4" fill="#e8742c"/><path d="M-8.0,0 Q0,-5.6 8.0,0 Q0,5.6 -8.0,0Z" transform="translate(491.0 597.0) rotate(-25)" fill="#2b2424"/><path d="M-6.5,0 Q0,-4.8 6.5,0 Q0,4.8 -6.5,0Z" transform="translate(491.0 607.0) rotate(5)" fill="#2b2424"/><path d="M11.4,0.0 L11.4,0.9 L11.2,1.8 L11.0,2.7 L10.7,3.6 L10.3,4.4 L9.9,5.2 L9.3,6.0 L8.7,6.7 L8.1,7.4 L7.3,8.0 L6.5,8.6 L5.7,9.1 L4.8,9.5 L3.9,9.9 L3.0,10.1 L2.0,10.3 L1.0,10.4 L0.0,10.5 L-1.0,10.4 L-2.0,10.3 L-3.0,10.1 L-3.9,9.9 L-4.8,9.5 L-5.7,9.1 L-6.5,8.6 L-7.3,8.0 L-8.1,7.4 L-8.7,6.7 L-9.3,6.0 L-9.9,5.2 L-10.4,4.5 L-11.4,3.8 L-12.0,3.0 L-12.2,2.0 L-12.0,1.0 L-11.4,0.0 L-12.0,-1.0 L-12.2,-2.0 L-12.0,-3.0 L-11.4,-3.8 L-10.4,-4.5 L-10.3,-5.5 L-10.1,-6.5 L-9.5,-7.4 L-8.6,-7.9 L-7.4,-8.2 L-6.8,-8.9 L-6.2,-9.8 L-5.3,-10.4 L-4.2,-10.6 L-3.0,-10.4 L-2.0,-10.7 L-1.1,-11.3 L-0.0,-11.5 L1.1,-11.3 L2.0,-10.7 L3.0,-10.4 L4.2,-10.6 L5.3,-10.4 L6.2,-9.8 L6.8,-8.9 L7.4,-8.2 L8.6,-7.9 L9.5,-7.4 L10.1,-6.5 L10.3,-5.5 L10.4,-4.5 L11.4,-3.8 L11.0,-2.7 L11.2,-1.8 L11.4,-0.9Z" transform="translate(477.0 597.0) rotate(-5)" fill="#f07428"/><path d="M-6.0,0 Q0,-4.8 6.0,0 Q0,4.8 -6.0,0Z" transform="translate(529.0 597.0) rotate(60)" fill="#2b2424"/><circle cx="525.0" cy="609.2" r="8.2" fill="#ee6c5a"/><circle cx="532.4" cy="614.6" r="8.2" fill="#ee6c5a"/><circle cx="529.6" cy="623.3" r="8.2" fill="#ee6c5a"/><circle cx="520.4" cy="623.3" r="8.2" fill="#ee6c5a"/><circle cx="517.6" cy="614.6" r="8.2" fill="#ee6c5a"/><circle cx="525.0" cy="617.0" r="7.5" fill="#ee6c5a"/><circle cx="525.0" cy="612.7" r="4.5" fill="#e85a48"/><circle cx="529.1" cy="615.7" r="4.5" fill="#e85a48"/><circle cx="527.5" cy="620.5" r="4.5" fill="#e85a48"/><circle cx="522.5" cy="620.5" r="4.5" fill="#e85a48"/><circle cx="520.9" cy="615.7" r="4.5" fill="#e85a48"/><circle cx="525.0" cy="617.0" r="4.1" fill="#e85a48"/><ellipse cx="528.8" cy="617.0" rx="2.6" ry="1.3" transform="rotate(0 528.8 617.0)" fill="#2a1616"/><ellipse cx="527.7" cy="619.7" rx="2.6" ry="1.3" transform="rotate(45 527.7 619.7)" fill="#2a1616"/><ellipse cx="525.0" cy="620.8" rx="2.6" ry="1.3" transform="rotate(90 525.0 620.8)" fill="#2a1616"/><ellipse cx="522.3" cy="619.7" rx="2.6" ry="1.3" transform="rotate(135 522.3 619.7)" fill="#2a1616"/><ellipse cx="521.2" cy="617.0" rx="2.6" ry="1.3" transform="rotate(180 521.2 617.0)" fill="#2a1616"/><ellipse cx="522.3" cy="614.3" rx="2.6" ry="1.3" transform="rotate(225 522.3 614.3)" fill="#2a1616"/><ellipse cx="525.0" cy="613.2" rx="2.6" ry="1.3" transform="rotate(270 525.0 613.2)" fill="#2a1616"/><ellipse cx="527.7" cy="614.3" rx="2.6" ry="1.3" transform="rotate(315 527.7 614.3)" fill="#2a1616"/><circle cx="525.0" cy="617.0" r="2.2" fill="#2a1616"/><circle cx="525.0" cy="617.0" r="1.4" fill="#e8742c"/><g transform="translate(629.0 586.0) rotate(60)" fill="#dba08c"><path d="M0,11.0 L0,-11.0" stroke="#dba08c" stroke-width="0.9"/><ellipse cx="2.6" cy="-8.8" rx="2.8" ry="0.9" transform="rotate(-40 2.6 -8.8)" fill="#dba08c"/><ellipse cx="-2.6" cy="-8.8" rx="2.8" ry="0.9" transform="rotate(40 -2.6 -8.8)" fill="#dba08c"/><ellipse cx="2.6" cy="-4.4" rx="2.8" ry="0.9" transform="rotate(-40 2.6 -4.4)" fill="#dba08c"/><ellipse cx="-2.6" cy="-4.4" rx="2.8" ry="0.9" transform="rotate(40 -2.6 -4.4)" fill="#dba08c"/><ellipse cx="2.6" cy="0.0" rx="2.8" ry="0.9" transform="rotate(-40 2.6 0.0)" fill="#dba08c"/><ellipse cx="-2.6" cy="0.0" rx="2.8" ry="0.9" transform="rotate(40 -2.6 0.0)" fill="#dba08c"/><ellipse cx="2.6" cy="4.4" rx="2.8" ry="0.9" transform="rotate(-40 2.6 4.4)" fill="#dba08c"/><ellipse cx="-2.6" cy="4.4" rx="2.8" ry="0.9" transform="rotate(40 -2.6 4.4)" fill="#dba08c"/></g><g transform="translate(585.0 610.0) rotate(20)"><path d="M0,11.0 L0,-11.0" stroke="#a3cfd3" stroke-width="0.9"/><ellipse cx="4.0" cy="-7.7" rx="4.6" ry="1.8" transform="rotate(-35 4.0 -7.7)" fill="#a3cfd3"/><ellipse cx="-4.0" cy="-6.6" rx="4.6" ry="1.8" transform="rotate(35 -4.0 -6.6)" fill="#a3cfd3"/><ellipse cx="4.0" cy="-1.1" rx="4.6" ry="1.8" transform="rotate(-35 4.0 -1.1)" fill="#a3cfd3"/><ellipse cx="-4.0" cy="0.0" rx="4.6" ry="1.8" transform="rotate(35 -4.0 0.0)" fill="#a3cfd3"/><ellipse cx="4.0" cy="5.5" rx="4.6" ry="1.8" transform="rotate(-35 4.0 5.5)" fill="#a3cfd3"/><ellipse cx="-4.0" cy="6.6" rx="4.6" ry="1.8" transform="rotate(35 -4.0 6.6)" fill="#a3cfd3"/></g><g transform="translate(682.0 590.0) rotate(-30)"><path d="M0,11.0 L0,-11.0" stroke="#a3cfd3" stroke-width="0.9"/><ellipse cx="4.0" cy="-7.7" rx="4.6" ry="1.8" transform="rotate(-35 4.0 -7.7)" fill="#a3cfd3"/><ellipse cx="-4.0" cy="-6.6" rx="4.6" ry="1.8" transform="rotate(35 -4.0 -6.6)" fill="#a3cfd3"/><ellipse cx="4.0" cy="-1.1" rx="4.6" ry="1.8" transform="rotate(-35 4.0 -1.1)" fill="#a3cfd3"/><ellipse cx="-4.0" cy="0.0" rx="4.6" ry="1.8" transform="rotate(35 -4.0 0.0)" fill="#a3cfd3"/><ellipse cx="4.0" cy="5.5" rx="4.6" ry="1.8" transform="rotate(-35 4.0 5.5)" fill="#a3cfd3"/><ellipse cx="-4.0" cy="6.6" rx="4.6" ry="1.8" transform="rotate(35 -4.0 6.6)" fill="#a3cfd3"/></g><circle cx="617.0" cy="598.3" r="7.0" fill="#f5b3bf"/><circle cx="623.7" cy="602.1" r="7.0" fill="#f5b3bf"/><circle cx="623.7" cy="609.9" r="7.0" fill="#f5b3bf"/><circle cx="617.0" cy="613.7" r="7.0" fill="#f5b3bf"/><circle cx="610.3" cy="609.9" r="7.0" fill="#f5b3bf"/><circle cx="610.3" cy="602.1" r="7.0" fill="#f5b3bf"/><circle cx="617.0" cy="606.0" r="7.0" fill="#f5b3bf"/><circle cx="617" cy="606" r="2.0" fill="#b04a38"/><circle cx="735.0" cy="615.4" r="6.0" fill="#f7bcc6"/><circle cx="740.7" cy="618.7" r="6.0" fill="#f7bcc6"/><circle cx="740.7" cy="625.3" r="6.0" fill="#f7bcc6"/><circle cx="735.0" cy="628.6" r="6.0" fill="#f7bcc6"/><circle cx="729.3" cy="625.3" r="6.0" fill="#f7bcc6"/><circle cx="729.3" cy="618.7" r="6.0" fill="#f7bcc6"/><circle cx="735.0" cy="622.0" r="6.0" fill="#f7bcc6"/><circle cx="735" cy="622" r="1.7" fill="#b04a38"/><circle cx="671.0" cy="564.5" r="5.0" fill="#f7bcc6"/><circle cx="675.8" cy="567.2" r="5.0" fill="#f7bcc6"/><circle cx="675.8" cy="572.8" r="5.0" fill="#f7bcc6"/><circle cx="671.0" cy="575.5" r="5.0" fill="#f7bcc6"/><circle cx="666.2" cy="572.8" r="5.0" fill="#f7bcc6"/><circle cx="666.2" cy="567.2" r="5.0" fill="#f7bcc6"/><circle cx="671.0" cy="570.0" r="5.0" fill="#f7bcc6"/><circle cx="671" cy="570" r="1.4" fill="#b04a38"/><circle cx="725.0" cy="592.6" r="5.0" fill="#f2b64c"/><circle cx="731.1" cy="597.0" r="5.0" fill="#f2b64c"/><circle cx="728.8" cy="604.2" r="5.0" fill="#f2b64c"/><circle cx="721.2" cy="604.2" r="5.0" fill="#f2b64c"/><circle cx="718.9" cy="597.0" r="5.0" fill="#f2b64c"/><circle cx="725.0" cy="599.0" r="5.5" fill="#f2b64c"/><circle cx="725" cy="599" r="2.2" fill="#f8dca8"/><circle cx="642.0" cy="627.3" r="6.1" fill="#ee6a5a"/><circle cx="647.4" cy="631.2" r="6.1" fill="#ee6a5a"/><circle cx="645.4" cy="637.6" r="6.1" fill="#ee6a5a"/><circle cx="638.6" cy="637.6" r="6.1" fill="#ee6a5a"/><circle cx="636.6" cy="631.2" r="6.1" fill="#ee6a5a"/><circle cx="642.0" cy="633.0" r="5.5" fill="#ee6a5a"/><circle cx="672.0" cy="622.4" r="3.6" fill="#f2b64c"/><circle cx="676.4" cy="625.6" r="3.6" fill="#f2b64c"/><circle cx="674.7" cy="630.8" r="3.6" fill="#f2b64c"/><circle cx="669.3" cy="630.8" r="3.6" fill="#f2b64c"/><circle cx="667.6" cy="625.6" r="3.6" fill="#f2b64c"/><circle cx="672.0" cy="627.0" r="4.0" fill="#f2b64c"/><circle cx="672" cy="627" r="1.6" fill="#f8dca8"/><circle cx="625.1" cy="627.4" r="0.9" fill="#e0707a"/><circle cx="627.7" cy="628.0" r="0.9" fill="#e0707a"/><circle cx="624.5" cy="629.7" r="0.9" fill="#e0707a"/><circle cx="628.6" cy="627.2" r="0.9" fill="#e0707a"/><path d="M-3.0,0 Q0,-2.4 3.0,0 Q0,2.4 -3.0,0Z" transform="translate(631.0 626.0) rotate(-20)" fill="#2a2a3a"/><circle cx="696.9" cy="573.7" r="1.1" fill="#d84a55"/><circle cx="699.9" cy="573.8" r="1.1" fill="#d84a55"/><circle cx="703.1" cy="571.7" r="1.1" fill="#d84a55"/><circle cx="702.8" cy="571.2" r="1.1" fill="#d84a55"/><circle cx="698.4" cy="575.3" r="1.1" fill="#d84a55"/><circle cx="641.5" cy="622.9" r="1.1" fill="#e0606a"/><circle cx="639.3" cy="621.1" r="1.1" fill="#e0606a"/><circle cx="639.2" cy="621.8" r="1.1" fill="#e0606a"/><circle cx="638.9" cy="621.2" r="1.1" fill="#e0606a"/><path d="M710.0,588.0 q3.0,-4.5 6.0,-4.0" stroke="#3a2020" stroke-width="0.6" fill="none"/><circle cx="709.0" cy="588.0" r="2.1" fill="#cc2530"/><circle cx="712.2" cy="589.8" r="2.1" fill="#cc2530"/><path d="M-6.5,0 Q0,-5.6 6.5,0 Q0,5.6 -6.5,0Z" transform="translate(595.0 593.0) rotate(-30)" fill="#2b2424"/><circle cx="579.0" cy="574.2" r="8.2" fill="#ee6c5a"/><circle cx="586.4" cy="579.6" r="8.2" fill="#ee6c5a"/><circle cx="583.6" cy="588.3" r="8.2" fill="#ee6c5a"/><circle cx="574.4" cy="588.3" r="8.2" fill="#ee6c5a"/><circle cx="571.6" cy="579.6" r="8.2" fill="#ee6c5a"/><circle cx="579.0" cy="582.0" r="7.5" fill="#ee6c5a"/><circle cx="579.0" cy="577.7" r="4.5" fill="#e85a48"/><circle cx="583.1" cy="580.7" r="4.5" fill="#e85a48"/><circle cx="581.5" cy="585.5" r="4.5" fill="#e85a48"/><circle cx="576.5" cy="585.5" r="4.5" fill="#e85a48"/><circle cx="574.9" cy="580.7" r="4.5" fill="#e85a48"/><circle cx="579.0" cy="582.0" r="4.1" fill="#e85a48"/><ellipse cx="582.8" cy="582.0" rx="2.6" ry="1.3" transform="rotate(0 582.8 582.0)" fill="#2a1616"/><ellipse cx="581.7" cy="584.7" rx="2.6" ry="1.3" transform="rotate(45 581.7 584.7)" fill="#2a1616"/><ellipse cx="579.0" cy="585.8" rx="2.6" ry="1.3" transform="rotate(90 579.0 585.8)" fill="#2a1616"/><ellipse cx="576.3" cy="584.7" rx="2.6" ry="1.3" transform="rotate(135 576.3 584.7)" fill="#2a1616"/><ellipse cx="575.2" cy="582.0" rx="2.6" ry="1.3" transform="rotate(180 575.2 582.0)" fill="#2a1616"/><ellipse cx="576.3" cy="579.3" rx="2.6" ry="1.3" transform="rotate(225 576.3 579.3)" fill="#2a1616"/><ellipse cx="579.0" cy="578.2" rx="2.6" ry="1.3" transform="rotate(270 579.0 578.2)" fill="#2a1616"/><ellipse cx="581.7" cy="579.3" rx="2.6" ry="1.3" transform="rotate(315 581.7 579.3)" fill="#2a1616"/><circle cx="579.0" cy="582.0" r="2.2" fill="#2a1616"/><circle cx="579.0" cy="582.0" r="1.4" fill="#e8742c"/><path d="M-8.0,0 Q0,-5.6 8.0,0 Q0,5.6 -8.0,0Z" transform="translate(663.0 597.0) rotate(-25)" fill="#2b2424"/><path d="M-6.5,0 Q0,-4.8 6.5,0 Q0,4.8 -6.5,0Z" transform="translate(663.0 607.0) rotate(5)" fill="#2b2424"/><path d="M11.4,0.0 L11.4,0.9 L11.2,1.8 L11.0,2.7 L10.7,3.6 L10.3,4.4 L9.9,5.2 L9.3,6.0 L8.7,6.7 L8.1,7.4 L7.3,8.0 L6.5,8.6 L5.7,9.1 L4.8,9.5 L3.9,9.9 L3.0,10.1 L2.0,10.3 L1.0,10.4 L0.0,10.5 L-1.0,10.4 L-2.0,10.3 L-3.0,10.1 L-3.9,9.9 L-4.8,9.5 L-5.7,9.1 L-6.5,8.6 L-7.3,8.0 L-8.1,7.4 L-8.7,6.7 L-9.3,6.0 L-9.9,5.2 L-10.4,4.5 L-11.4,3.8 L-12.0,3.0 L-12.2,2.0 L-12.0,1.0 L-11.4,0.0 L-12.0,-1.0 L-12.2,-2.0 L-12.0,-3.0 L-11.4,-3.8 L-10.4,-4.5 L-10.3,-5.5 L-10.1,-6.5 L-9.5,-7.4 L-8.6,-7.9 L-7.4,-8.2 L-6.8,-8.9 L-6.2,-9.8 L-5.3,-10.4 L-4.2,-10.6 L-3.0,-10.4 L-2.0,-10.7 L-1.1,-11.3 L-0.0,-11.5 L1.1,-11.3 L2.0,-10.7 L3.0,-10.4 L4.2,-10.6 L5.3,-10.4 L6.2,-9.8 L6.8,-8.9 L7.4,-8.2 L8.6,-7.9 L9.5,-7.4 L10.1,-6.5 L10.3,-5.5 L10.4,-4.5 L11.4,-3.8 L11.0,-2.7 L11.2,-1.8 L11.4,-0.9Z" transform="translate(649.0 597.0) rotate(-5)" fill="#f07428"/><path d="M-6.0,0 Q0,-4.8 6.0,0 Q0,4.8 -6.0,0Z" transform="translate(701.0 597.0) rotate(60)" fill="#2b2424"/><circle cx="697.0" cy="609.2" r="8.2" fill="#ee6c5a"/><circle cx="704.4" cy="614.6" r="8.2" fill="#ee6c5a"/><circle cx="701.6" cy="623.3" r="8.2" fill="#ee6c5a"/><circle cx="692.4" cy="623.3" r="8.2" fill="#ee6c5a"/><circle cx="689.6" cy="614.6" r="8.2" fill="#ee6c5a"/><circle cx="697.0" cy="617.0" r="7.5" fill="#ee6c5a"/><circle cx="697.0" cy="612.7" r="4.5" fill="#e85a48"/><circle cx="701.1" cy="615.7" r="4.5" fill="#e85a48"/><circle cx="699.5" cy="620.5" r="4.5" fill="#e85a48"/><circle cx="694.5" cy="620.5" r="4.5" fill="#e85a48"/><circle cx="692.9" cy="615.7" r="4.5" fill="#e85a48"/><circle cx="697.0" cy="617.0" r="4.1" fill="#e85a48"/><ellipse cx="700.8" cy="617.0" rx="2.6" ry="1.3" transform="rotate(0 700.8 617.0)" fill="#2a1616"/><ellipse cx="699.7" cy="619.7" rx="2.6" ry="1.3" transform="rotate(45 699.7 619.7)" fill="#2a1616"/><ellipse cx="697.0" cy="620.8" rx="2.6" ry="1.3" transform="rotate(90 697.0 620.8)" fill="#2a1616"/><ellipse cx="694.3" cy="619.7" rx="2.6" ry="1.3" transform="rotate(135 694.3 619.7)" fill="#2a1616"/><ellipse cx="693.2" cy="617.0" rx="2.6" ry="1.3" transform="rotate(180 693.2 617.0)" fill="#2a1616"/><ellipse cx="694.3" cy="614.3" rx="2.6" ry="1.3" transform="rotate(225 694.3 614.3)" fill="#2a1616"/><ellipse cx="697.0" cy="613.2" rx="2.6" ry="1.3" transform="rotate(270 697.0 613.2)" fill="#2a1616"/><ellipse cx="699.7" cy="614.3" rx="2.6" ry="1.3" transform="rotate(315 699.7 614.3)" fill="#2a1616"/><circle cx="697.0" cy="617.0" r="2.2" fill="#2a1616"/><circle cx="697.0" cy="617.0" r="1.4" fill="#e8742c"/><path d="M60,572.5 L1160,572.5 M60,622 L1160,622" stroke="#8a8288" stroke-width="1" stroke-dasharray="3 4" opacity="0.55"/><rect x="60" y="566" width="1100" height="71" fill="url(#bandshade)"/></g></g>
<g clip-path="url(#bandRp)"><g transform="translate(0 -1) rotate(-0.35 700 600)"><rect x="60" y="566" width="1100" height="74" fill="#f3f1f2"/><g transform="translate(598.0 586.0) rotate(60)" fill="#dba08c"><path d="M0,11.0 L0,-11.0" stroke="#dba08c" stroke-width="0.9"/><ellipse cx="2.6" cy="-8.8" rx="2.8" ry="0.9" transform="rotate(-40 2.6 -8.8)" fill="#dba08c"/><ellipse cx="-2.6" cy="-8.8" rx="2.8" ry="0.9" transform="rotate(40 -2.6 -8.8)" fill="#dba08c"/><ellipse cx="2.6" cy="-4.4" rx="2.8" ry="0.9" transform="rotate(-40 2.6 -4.4)" fill="#dba08c"/><ellipse cx="-2.6" cy="-4.4" rx="2.8" ry="0.9" transform="rotate(40 -2.6 -4.4)" fill="#dba08c"/><ellipse cx="2.6" cy="0.0" rx="2.8" ry="0.9" transform="rotate(-40 2.6 0.0)" fill="#dba08c"/><ellipse cx="-2.6" cy="0.0" rx="2.8" ry="0.9" transform="rotate(40 -2.6 0.0)" fill="#dba08c"/><ellipse cx="2.6" cy="4.4" rx="2.8" ry="0.9" transform="rotate(-40 2.6 4.4)" fill="#dba08c"/><ellipse cx="-2.6" cy="4.4" rx="2.8" ry="0.9" transform="rotate(40 -2.6 4.4)" fill="#dba08c"/></g><g transform="translate(554.0 610.0) rotate(20)"><path d="M0,11.0 L0,-11.0" stroke="#a3cfd3" stroke-width="0.9"/><ellipse cx="4.0" cy="-7.7" rx="4.6" ry="1.8" transform="rotate(-35 4.0 -7.7)" fill="#a3cfd3"/><ellipse cx="-4.0" cy="-6.6" rx="4.6" ry="1.8" transform="rotate(35 -4.0 -6.6)" fill="#a3cfd3"/><ellipse cx="4.0" cy="-1.1" rx="4.6" ry="1.8" transform="rotate(-35 4.0 -1.1)" fill="#a3cfd3"/><ellipse cx="-4.0" cy="0.0" rx="4.6" ry="1.8" transform="rotate(35 -4.0 0.0)" fill="#a3cfd3"/><ellipse cx="4.0" cy="5.5" rx="4.6" ry="1.8" transform="rotate(-35 4.0 5.5)" fill="#a3cfd3"/><ellipse cx="-4.0" cy="6.6" rx="4.6" ry="1.8" transform="rotate(35 -4.0 6.6)" fill="#a3cfd3"/></g><g transform="translate(651.0 590.0) rotate(-30)"><path d="M0,11.0 L0,-11.0" stroke="#a3cfd3" stroke-width="0.9"/><ellipse cx="4.0" cy="-7.7" rx="4.6" ry="1.8" transform="rotate(-35 4.0 -7.7)" fill="#a3cfd3"/><ellipse cx="-4.0" cy="-6.6" rx="4.6" ry="1.8" transform="rotate(35 -4.0 -6.6)" fill="#a3cfd3"/><ellipse cx="4.0" cy="-1.1" rx="4.6" ry="1.8" transform="rotate(-35 4.0 -1.1)" fill="#a3cfd3"/><ellipse cx="-4.0" cy="0.0" rx="4.6" ry="1.8" transform="rotate(35 -4.0 0.0)" fill="#a3cfd3"/><ellipse cx="4.0" cy="5.5" rx="4.6" ry="1.8" transform="rotate(-35 4.0 5.5)" fill="#a3cfd3"/><ellipse cx="-4.0" cy="6.6" rx="4.6" ry="1.8" transform="rotate(35 -4.0 6.6)" fill="#a3cfd3"/></g><circle cx="586.0" cy="598.3" r="7.0" fill="#f5b3bf"/><circle cx="592.7" cy="602.1" r="7.0" fill="#f5b3bf"/><circle cx="592.7" cy="609.9" r="7.0" fill="#f5b3bf"/><circle cx="586.0" cy="613.7" r="7.0" fill="#f5b3bf"/><circle cx="579.3" cy="609.9" r="7.0" fill="#f5b3bf"/><circle cx="579.3" cy="602.1" r="7.0" fill="#f5b3bf"/><circle cx="586.0" cy="606.0" r="7.0" fill="#f5b3bf"/><circle cx="586" cy="606" r="2.0" fill="#b04a38"/><circle cx="704.0" cy="615.4" r="6.0" fill="#f7bcc6"/><circle cx="709.7" cy="618.7" r="6.0" fill="#f7bcc6"/><circle cx="709.7" cy="625.3" r="6.0" fill="#f7bcc6"/><circle cx="704.0" cy="628.6" r="6.0" fill="#f7bcc6"/><circle cx="698.3" cy="625.3" r="6.0" fill="#f7bcc6"/><circle cx="698.3" cy="618.7" r="6.0" fill="#f7bcc6"/><circle cx="704.0" cy="622.0" r="6.0" fill="#f7bcc6"/><circle cx="704" cy="622" r="1.7" fill="#b04a38"/><circle cx="640.0" cy="564.5" r="5.0" fill="#f7bcc6"/><circle cx="644.8" cy="567.2" r="5.0" fill="#f7bcc6"/><circle cx="644.8" cy="572.8" r="5.0" fill="#f7bcc6"/><circle cx="640.0" cy="575.5" r="5.0" fill="#f7bcc6"/><circle cx="635.2" cy="572.8" r="5.0" fill="#f7bcc6"/><circle cx="635.2" cy="567.2" r="5.0" fill="#f7bcc6"/><circle cx="640.0" cy="570.0" r="5.0" fill="#f7bcc6"/><circle cx="640" cy="570" r="1.4" fill="#b04a38"/><circle cx="694.0" cy="592.6" r="5.0" fill="#f2b64c"/><circle cx="700.1" cy="597.0" r="5.0" fill="#f2b64c"/><circle cx="697.8" cy="604.2" r="5.0" fill="#f2b64c"/><circle cx="690.2" cy="604.2" r="5.0" fill="#f2b64c"/><circle cx="687.9" cy="597.0" r="5.0" fill="#f2b64c"/><circle cx="694.0" cy="599.0" r="5.5" fill="#f2b64c"/><circle cx="694" cy="599" r="2.2" fill="#f8dca8"/><circle cx="611.0" cy="627.3" r="6.1" fill="#ee6a5a"/><circle cx="616.4" cy="631.2" r="6.1" fill="#ee6a5a"/><circle cx="614.4" cy="637.6" r="6.1" fill="#ee6a5a"/><circle cx="607.6" cy="637.6" r="6.1" fill="#ee6a5a"/><circle cx="605.6" cy="631.2" r="6.1" fill="#ee6a5a"/><circle cx="611.0" cy="633.0" r="5.5" fill="#ee6a5a"/><circle cx="641.0" cy="622.4" r="3.6" fill="#f2b64c"/><circle cx="645.4" cy="625.6" r="3.6" fill="#f2b64c"/><circle cx="643.7" cy="630.8" r="3.6" fill="#f2b64c"/><circle cx="638.3" cy="630.8" r="3.6" fill="#f2b64c"/><circle cx="636.6" cy="625.6" r="3.6" fill="#f2b64c"/><circle cx="641.0" cy="627.0" r="4.0" fill="#f2b64c"/><circle cx="641" cy="627" r="1.6" fill="#f8dca8"/><circle cx="595.6" cy="628.0" r="0.9" fill="#e0707a"/><circle cx="596.2" cy="628.9" r="0.9" fill="#e0707a"/><circle cx="598.5" cy="628.6" r="0.9" fill="#e0707a"/><circle cx="594.6" cy="627.6" r="0.9" fill="#e0707a"/><path d="M-3.0,0 Q0,-2.4 3.0,0 Q0,2.4 -3.0,0Z" transform="translate(600.0 626.0) rotate(-20)" fill="#2a2a3a"/><circle cx="669.0" cy="575.7" r="1.1" fill="#d84a55"/><circle cx="668.6" cy="574.5" r="1.1" fill="#d84a55"/><circle cx="671.9" cy="570.0" r="1.1" fill="#d84a55"/><circle cx="666.6" cy="574.5" r="1.1" fill="#d84a55"/><circle cx="669.4" cy="574.3" r="1.1" fill="#d84a55"/><circle cx="607.3" cy="622.1" r="1.1" fill="#e0606a"/><circle cx="608.4" cy="620.3" r="1.1" fill="#e0606a"/><circle cx="612.7" cy="621.7" r="1.1" fill="#e0606a"/><circle cx="607.3" cy="620.9" r="1.1" fill="#e0606a"/><path d="M679.0,588.0 q3.0,-4.5 6.0,-4.0" stroke="#3a2020" stroke-width="0.6" fill="none"/><circle cx="678.0" cy="588.0" r="2.1" fill="#cc2530"/><circle cx="681.2" cy="589.8" r="2.1" fill="#cc2530"/><path d="M-6.5,0 Q0,-5.6 6.5,0 Q0,5.6 -6.5,0Z" transform="translate(564.0 593.0) rotate(-30)" fill="#2b2424"/><circle cx="548.0" cy="574.2" r="8.2" fill="#ee6c5a"/><circle cx="555.4" cy="579.6" r="8.2" fill="#ee6c5a"/><circle cx="552.6" cy="588.3" r="8.2" fill="#ee6c5a"/><circle cx="543.4" cy="588.3" r="8.2" fill="#ee6c5a"/><circle cx="540.6" cy="579.6" r="8.2" fill="#ee6c5a"/><circle cx="548.0" cy="582.0" r="7.5" fill="#ee6c5a"/><circle cx="548.0" cy="577.7" r="4.5" fill="#e85a48"/><circle cx="552.1" cy="580.7" r="4.5" fill="#e85a48"/><circle cx="550.5" cy="585.5" r="4.5" fill="#e85a48"/><circle cx="545.5" cy="585.5" r="4.5" fill="#e85a48"/><circle cx="543.9" cy="580.7" r="4.5" fill="#e85a48"/><circle cx="548.0" cy="582.0" r="4.1" fill="#e85a48"/><ellipse cx="551.8" cy="582.0" rx="2.6" ry="1.3" transform="rotate(0 551.8 582.0)" fill="#2a1616"/><ellipse cx="550.7" cy="584.7" rx="2.6" ry="1.3" transform="rotate(45 550.7 584.7)" fill="#2a1616"/><ellipse cx="548.0" cy="585.8" rx="2.6" ry="1.3" transform="rotate(90 548.0 585.8)" fill="#2a1616"/><ellipse cx="545.3" cy="584.7" rx="2.6" ry="1.3" transform="rotate(135 545.3 584.7)" fill="#2a1616"/><ellipse cx="544.2" cy="582.0" rx="2.6" ry="1.3" transform="rotate(180 544.2 582.0)" fill="#2a1616"/><ellipse cx="545.3" cy="579.3" rx="2.6" ry="1.3" transform="rotate(225 545.3 579.3)" fill="#2a1616"/><ellipse cx="548.0" cy="578.2" rx="2.6" ry="1.3" transform="rotate(270 548.0 578.2)" fill="#2a1616"/><ellipse cx="550.7" cy="579.3" rx="2.6" ry="1.3" transform="rotate(315 550.7 579.3)" fill="#2a1616"/><circle cx="548.0" cy="582.0" r="2.2" fill="#2a1616"/><circle cx="548.0" cy="582.0" r="1.4" fill="#e8742c"/><path d="M-8.0,0 Q0,-5.6 8.0,0 Q0,5.6 -8.0,0Z" transform="translate(632.0 597.0) rotate(-25)" fill="#2b2424"/><path d="M-6.5,0 Q0,-4.8 6.5,0 Q0,4.8 -6.5,0Z" transform="translate(632.0 607.0) rotate(5)" fill="#2b2424"/><path d="M11.4,0.0 L11.4,0.9 L11.2,1.8 L11.0,2.7 L10.7,3.6 L10.3,4.4 L9.9,5.2 L9.3,6.0 L8.7,6.7 L8.1,7.4 L7.3,8.0 L6.5,8.6 L5.7,9.1 L4.8,9.5 L3.9,9.9 L3.0,10.1 L2.0,10.3 L1.0,10.4 L0.0,10.5 L-1.0,10.4 L-2.0,10.3 L-3.0,10.1 L-3.9,9.9 L-4.8,9.5 L-5.7,9.1 L-6.5,8.6 L-7.3,8.0 L-8.1,7.4 L-8.7,6.7 L-9.3,6.0 L-9.9,5.2 L-10.4,4.5 L-11.4,3.8 L-12.0,3.0 L-12.2,2.0 L-12.0,1.0 L-11.4,0.0 L-12.0,-1.0 L-12.2,-2.0 L-12.0,-3.0 L-11.4,-3.8 L-10.4,-4.5 L-10.3,-5.5 L-10.1,-6.5 L-9.5,-7.4 L-8.6,-7.9 L-7.4,-8.2 L-6.8,-8.9 L-6.2,-9.8 L-5.3,-10.4 L-4.2,-10.6 L-3.0,-10.4 L-2.0,-10.7 L-1.1,-11.3 L-0.0,-11.5 L1.1,-11.3 L2.0,-10.7 L3.0,-10.4 L4.2,-10.6 L5.3,-10.4 L6.2,-9.8 L6.8,-8.9 L7.4,-8.2 L8.6,-7.9 L9.5,-7.4 L10.1,-6.5 L10.3,-5.5 L10.4,-4.5 L11.4,-3.8 L11.0,-2.7 L11.2,-1.8 L11.4,-0.9Z" transform="translate(618.0 597.0) rotate(-5)" fill="#f07428"/><path d="M-6.0,0 Q0,-4.8 6.0,0 Q0,4.8 -6.0,0Z" transform="translate(670.0 597.0) rotate(60)" fill="#2b2424"/><circle cx="666.0" cy="609.2" r="8.2" fill="#ee6c5a"/><circle cx="673.4" cy="614.6" r="8.2" fill="#ee6c5a"/><circle cx="670.6" cy="623.3" r="8.2" fill="#ee6c5a"/><circle cx="661.4" cy="623.3" r="8.2" fill="#ee6c5a"/><circle cx="658.6" cy="614.6" r="8.2" fill="#ee6c5a"/><circle cx="666.0" cy="617.0" r="7.5" fill="#ee6c5a"/><circle cx="666.0" cy="612.7" r="4.5" fill="#e85a48"/><circle cx="670.1" cy="615.7" r="4.5" fill="#e85a48"/><circle cx="668.5" cy="620.5" r="4.5" fill="#e85a48"/><circle cx="663.5" cy="620.5" r="4.5" fill="#e85a48"/><circle cx="661.9" cy="615.7" r="4.5" fill="#e85a48"/><circle cx="666.0" cy="617.0" r="4.1" fill="#e85a48"/><ellipse cx="669.8" cy="617.0" rx="2.6" ry="1.3" transform="rotate(0 669.8 617.0)" fill="#2a1616"/><ellipse cx="668.7" cy="619.7" rx="2.6" ry="1.3" transform="rotate(45 668.7 619.7)" fill="#2a1616"/><ellipse cx="666.0" cy="620.8" rx="2.6" ry="1.3" transform="rotate(90 666.0 620.8)" fill="#2a1616"/><ellipse cx="663.3" cy="619.7" rx="2.6" ry="1.3" transform="rotate(135 663.3 619.7)" fill="#2a1616"/><ellipse cx="662.2" cy="617.0" rx="2.6" ry="1.3" transform="rotate(180 662.2 617.0)" fill="#2a1616"/><ellipse cx="663.3" cy="614.3" rx="2.6" ry="1.3" transform="rotate(225 663.3 614.3)" fill="#2a1616"/><ellipse cx="666.0" cy="613.2" rx="2.6" ry="1.3" transform="rotate(270 666.0 613.2)" fill="#2a1616"/><ellipse cx="668.7" cy="614.3" rx="2.6" ry="1.3" transform="rotate(315 668.7 614.3)" fill="#2a1616"/><circle cx="666.0" cy="617.0" r="2.2" fill="#2a1616"/><circle cx="666.0" cy="617.0" r="1.4" fill="#e8742c"/><g transform="translate(770.0 586.0) rotate(60)" fill="#dba08c"><path d="M0,11.0 L0,-11.0" stroke="#dba08c" stroke-width="0.9"/><ellipse cx="2.6" cy="-8.8" rx="2.8" ry="0.9" transform="rotate(-40 2.6 -8.8)" fill="#dba08c"/><ellipse cx="-2.6" cy="-8.8" rx="2.8" ry="0.9" transform="rotate(40 -2.6 -8.8)" fill="#dba08c"/><ellipse cx="2.6" cy="-4.4" rx="2.8" ry="0.9" transform="rotate(-40 2.6 -4.4)" fill="#dba08c"/><ellipse cx="-2.6" cy="-4.4" rx="2.8" ry="0.9" transform="rotate(40 -2.6 -4.4)" fill="#dba08c"/><ellipse cx="2.6" cy="0.0" rx="2.8" ry="0.9" transform="rotate(-40 2.6 0.0)" fill="#dba08c"/><ellipse cx="-2.6" cy="0.0" rx="2.8" ry="0.9" transform="rotate(40 -2.6 0.0)" fill="#dba08c"/><ellipse cx="2.6" cy="4.4" rx="2.8" ry="0.9" transform="rotate(-40 2.6 4.4)" fill="#dba08c"/><ellipse cx="-2.6" cy="4.4" rx="2.8" ry="0.9" transform="rotate(40 -2.6 4.4)" fill="#dba08c"/></g><g transform="translate(726.0 610.0) rotate(20)"><path d="M0,11.0 L0,-11.0" stroke="#a3cfd3" stroke-width="0.9"/><ellipse cx="4.0" cy="-7.7" rx="4.6" ry="1.8" transform="rotate(-35 4.0 -7.7)" fill="#a3cfd3"/><ellipse cx="-4.0" cy="-6.6" rx="4.6" ry="1.8" transform="rotate(35 -4.0 -6.6)" fill="#a3cfd3"/><ellipse cx="4.0" cy="-1.1" rx="4.6" ry="1.8" transform="rotate(-35 4.0 -1.1)" fill="#a3cfd3"/><ellipse cx="-4.0" cy="0.0" rx="4.6" ry="1.8" transform="rotate(35 -4.0 0.0)" fill="#a3cfd3"/><ellipse cx="4.0" cy="5.5" rx="4.6" ry="1.8" transform="rotate(-35 4.0 5.5)" fill="#a3cfd3"/><ellipse cx="-4.0" cy="6.6" rx="4.6" ry="1.8" transform="rotate(35 -4.0 6.6)" fill="#a3cfd3"/></g><g transform="translate(823.0 590.0) rotate(-30)"><path d="M0,11.0 L0,-11.0" stroke="#a3cfd3" stroke-width="0.9"/><ellipse cx="4.0" cy="-7.7" rx="4.6" ry="1.8" transform="rotate(-35 4.0 -7.7)" fill="#a3cfd3"/><ellipse cx="-4.0" cy="-6.6" rx="4.6" ry="1.8" transform="rotate(35 -4.0 -6.6)" fill="#a3cfd3"/><ellipse cx="4.0" cy="-1.1" rx="4.6" ry="1.8" transform="rotate(-35 4.0 -1.1)" fill="#a3cfd3"/><ellipse cx="-4.0" cy="0.0" rx="4.6" ry="1.8" transform="rotate(35 -4.0 0.0)" fill="#a3cfd3"/><ellipse cx="4.0" cy="5.5" rx="4.6" ry="1.8" transform="rotate(-35 4.0 5.5)" fill="#a3cfd3"/><ellipse cx="-4.0" cy="6.6" rx="4.6" ry="1.8" transform="rotate(35 -4.0 6.6)" fill="#a3cfd3"/></g><circle cx="758.0" cy="598.3" r="7.0" fill="#f5b3bf"/><circle cx="764.7" cy="602.1" r="7.0" fill="#f5b3bf"/><circle cx="764.7" cy="609.9" r="7.0" fill="#f5b3bf"/><circle cx="758.0" cy="613.7" r="7.0" fill="#f5b3bf"/><circle cx="751.3" cy="609.9" r="7.0" fill="#f5b3bf"/><circle cx="751.3" cy="602.1" r="7.0" fill="#f5b3bf"/><circle cx="758.0" cy="606.0" r="7.0" fill="#f5b3bf"/><circle cx="758" cy="606" r="2.0" fill="#b04a38"/><circle cx="876.0" cy="615.4" r="6.0" fill="#f7bcc6"/><circle cx="881.7" cy="618.7" r="6.0" fill="#f7bcc6"/><circle cx="881.7" cy="625.3" r="6.0" fill="#f7bcc6"/><circle cx="876.0" cy="628.6" r="6.0" fill="#f7bcc6"/><circle cx="870.3" cy="625.3" r="6.0" fill="#f7bcc6"/><circle cx="870.3" cy="618.7" r="6.0" fill="#f7bcc6"/><circle cx="876.0" cy="622.0" r="6.0" fill="#f7bcc6"/><circle cx="876" cy="622" r="1.7" fill="#b04a38"/><circle cx="812.0" cy="564.5" r="5.0" fill="#f7bcc6"/><circle cx="816.8" cy="567.2" r="5.0" fill="#f7bcc6"/><circle cx="816.8" cy="572.8" r="5.0" fill="#f7bcc6"/><circle cx="812.0" cy="575.5" r="5.0" fill="#f7bcc6"/><circle cx="807.2" cy="572.8" r="5.0" fill="#f7bcc6"/><circle cx="807.2" cy="567.2" r="5.0" fill="#f7bcc6"/><circle cx="812.0" cy="570.0" r="5.0" fill="#f7bcc6"/><circle cx="812" cy="570" r="1.4" fill="#b04a38"/><circle cx="866.0" cy="592.6" r="5.0" fill="#f2b64c"/><circle cx="872.1" cy="597.0" r="5.0" fill="#f2b64c"/><circle cx="869.8" cy="604.2" r="5.0" fill="#f2b64c"/><circle cx="862.2" cy="604.2" r="5.0" fill="#f2b64c"/><circle cx="859.9" cy="597.0" r="5.0" fill="#f2b64c"/><circle cx="866.0" cy="599.0" r="5.5" fill="#f2b64c"/><circle cx="866" cy="599" r="2.2" fill="#f8dca8"/><circle cx="783.0" cy="627.3" r="6.1" fill="#ee6a5a"/><circle cx="788.4" cy="631.2" r="6.1" fill="#ee6a5a"/><circle cx="786.4" cy="637.6" r="6.1" fill="#ee6a5a"/><circle cx="779.6" cy="637.6" r="6.1" fill="#ee6a5a"/><circle cx="777.6" cy="631.2" r="6.1" fill="#ee6a5a"/><circle cx="783.0" cy="633.0" r="5.5" fill="#ee6a5a"/><circle cx="813.0" cy="622.4" r="3.6" fill="#f2b64c"/><circle cx="817.4" cy="625.6" r="3.6" fill="#f2b64c"/><circle cx="815.7" cy="630.8" r="3.6" fill="#f2b64c"/><circle cx="810.3" cy="630.8" r="3.6" fill="#f2b64c"/><circle cx="808.6" cy="625.6" r="3.6" fill="#f2b64c"/><circle cx="813.0" cy="627.0" r="4.0" fill="#f2b64c"/><circle cx="813" cy="627" r="1.6" fill="#f8dca8"/><circle cx="766.9" cy="628.0" r="0.9" fill="#e0707a"/><circle cx="763.1" cy="627.3" r="0.9" fill="#e0707a"/><circle cx="768.8" cy="625.9" r="0.9" fill="#e0707a"/><circle cx="766.9" cy="629.5" r="0.9" fill="#e0707a"/><path d="M-3.0,0 Q0,-2.4 3.0,0 Q0,2.4 -3.0,0Z" transform="translate(772.0 626.0) rotate(-20)" fill="#2a2a3a"/><circle cx="842.9" cy="577.3" r="1.1" fill="#d84a55"/><circle cx="837.2" cy="573.2" r="1.1" fill="#d84a55"/><circle cx="840.5" cy="575.0" r="1.1" fill="#d84a55"/><circle cx="842.8" cy="569.4" r="1.1" fill="#d84a55"/><circle cx="843.4" cy="570.8" r="1.1" fill="#d84a55"/><circle cx="781.5" cy="617.6" r="1.1" fill="#e0606a"/><circle cx="780.4" cy="623.6" r="1.1" fill="#e0606a"/><circle cx="779.9" cy="621.1" r="1.1" fill="#e0606a"/><circle cx="781.4" cy="621.2" r="1.1" fill="#e0606a"/><path d="M851.0,588.0 q3.0,-4.5 6.0,-4.0" stroke="#3a2020" stroke-width="0.6" fill="none"/><circle cx="850.0" cy="588.0" r="2.1" fill="#cc2530"/><circle cx="853.2" cy="589.8" r="2.1" fill="#cc2530"/><path d="M-6.5,0 Q0,-5.6 6.5,0 Q0,5.6 -6.5,0Z" transform="translate(736.0 593.0) rotate(-30)" fill="#2b2424"/><circle cx="720.0" cy="574.2" r="8.2" fill="#ee6c5a"/><circle cx="727.4" cy="579.6" r="8.2" fill="#ee6c5a"/><circle cx="724.6" cy="588.3" r="8.2" fill="#ee6c5a"/><circle cx="715.4" cy="588.3" r="8.2" fill="#ee6c5a"/><circle cx="712.6" cy="579.6" r="8.2" fill="#ee6c5a"/><circle cx="720.0" cy="582.0" r="7.5" fill="#ee6c5a"/><circle cx="720.0" cy="577.7" r="4.5" fill="#e85a48"/><circle cx="724.1" cy="580.7" r="4.5" fill="#e85a48"/><circle cx="722.5" cy="585.5" r="4.5" fill="#e85a48"/><circle cx="717.5" cy="585.5" r="4.5" fill="#e85a48"/><circle cx="715.9" cy="580.7" r="4.5" fill="#e85a48"/><circle cx="720.0" cy="582.0" r="4.1" fill="#e85a48"/><ellipse cx="723.8" cy="582.0" rx="2.6" ry="1.3" transform="rotate(0 723.8 582.0)" fill="#2a1616"/><ellipse cx="722.7" cy="584.7" rx="2.6" ry="1.3" transform="rotate(45 722.7 584.7)" fill="#2a1616"/><ellipse cx="720.0" cy="585.8" rx="2.6" ry="1.3" transform="rotate(90 720.0 585.8)" fill="#2a1616"/><ellipse cx="717.3" cy="584.7" rx="2.6" ry="1.3" transform="rotate(135 717.3 584.7)" fill="#2a1616"/><ellipse cx="716.2" cy="582.0" rx="2.6" ry="1.3" transform="rotate(180 716.2 582.0)" fill="#2a1616"/><ellipse cx="717.3" cy="579.3" rx="2.6" ry="1.3" transform="rotate(225 717.3 579.3)" fill="#2a1616"/><ellipse cx="720.0" cy="578.2" rx="2.6" ry="1.3" transform="rotate(270 720.0 578.2)" fill="#2a1616"/><ellipse cx="722.7" cy="579.3" rx="2.6" ry="1.3" transform="rotate(315 722.7 579.3)" fill="#2a1616"/><circle cx="720.0" cy="582.0" r="2.2" fill="#2a1616"/><circle cx="720.0" cy="582.0" r="1.4" fill="#e8742c"/><path d="M-8.0,0 Q0,-5.6 8.0,0 Q0,5.6 -8.0,0Z" transform="translate(804.0 597.0) rotate(-25)" fill="#2b2424"/><path d="M-6.5,0 Q0,-4.8 6.5,0 Q0,4.8 -6.5,0Z" transform="translate(804.0 607.0) rotate(5)" fill="#2b2424"/><path d="M11.4,0.0 L11.4,0.9 L11.2,1.8 L11.0,2.7 L10.7,3.6 L10.3,4.4 L9.9,5.2 L9.3,6.0 L8.7,6.7 L8.1,7.4 L7.3,8.0 L6.5,8.6 L5.7,9.1 L4.8,9.5 L3.9,9.9 L3.0,10.1 L2.0,10.3 L1.0,10.4 L0.0,10.5 L-1.0,10.4 L-2.0,10.3 L-3.0,10.1 L-3.9,9.9 L-4.8,9.5 L-5.7,9.1 L-6.5,8.6 L-7.3,8.0 L-8.1,7.4 L-8.7,6.7 L-9.3,6.0 L-9.9,5.2 L-10.4,4.5 L-11.4,3.8 L-12.0,3.0 L-12.2,2.0 L-12.0,1.0 L-11.4,0.0 L-12.0,-1.0 L-12.2,-2.0 L-12.0,-3.0 L-11.4,-3.8 L-10.4,-4.5 L-10.3,-5.5 L-10.1,-6.5 L-9.5,-7.4 L-8.6,-7.9 L-7.4,-8.2 L-6.8,-8.9 L-6.2,-9.8 L-5.3,-10.4 L-4.2,-10.6 L-3.0,-10.4 L-2.0,-10.7 L-1.1,-11.3 L-0.0,-11.5 L1.1,-11.3 L2.0,-10.7 L3.0,-10.4 L4.2,-10.6 L5.3,-10.4 L6.2,-9.8 L6.8,-8.9 L7.4,-8.2 L8.6,-7.9 L9.5,-7.4 L10.1,-6.5 L10.3,-5.5 L10.4,-4.5 L11.4,-3.8 L11.0,-2.7 L11.2,-1.8 L11.4,-0.9Z" transform="translate(790.0 597.0) rotate(-5)" fill="#f07428"/><path d="M-6.0,0 Q0,-4.8 6.0,0 Q0,4.8 -6.0,0Z" transform="translate(842.0 597.0) rotate(60)" fill="#2b2424"/><circle cx="838.0" cy="609.2" r="8.2" fill="#ee6c5a"/><circle cx="845.4" cy="614.6" r="8.2" fill="#ee6c5a"/><circle cx="842.6" cy="623.3" r="8.2" fill="#ee6c5a"/><circle cx="833.4" cy="623.3" r="8.2" fill="#ee6c5a"/><circle cx="830.6" cy="614.6" r="8.2" fill="#ee6c5a"/><circle cx="838.0" cy="617.0" r="7.5" fill="#ee6c5a"/><circle cx="838.0" cy="612.7" r="4.5" fill="#e85a48"/><circle cx="842.1" cy="615.7" r="4.5" fill="#e85a48"/><circle cx="840.5" cy="620.5" r="4.5" fill="#e85a48"/><circle cx="835.5" cy="620.5" r="4.5" fill="#e85a48"/><circle cx="833.9" cy="615.7" r="4.5" fill="#e85a48"/><circle cx="838.0" cy="617.0" r="4.1" fill="#e85a48"/><ellipse cx="841.8" cy="617.0" rx="2.6" ry="1.3" transform="rotate(0 841.8 617.0)" fill="#2a1616"/><ellipse cx="840.7" cy="619.7" rx="2.6" ry="1.3" transform="rotate(45 840.7 619.7)" fill="#2a1616"/><ellipse cx="838.0" cy="620.8" rx="2.6" ry="1.3" transform="rotate(90 838.0 620.8)" fill="#2a1616"/><ellipse cx="835.3" cy="619.7" rx="2.6" ry="1.3" transform="rotate(135 835.3 619.7)" fill="#2a1616"/><ellipse cx="834.2" cy="617.0" rx="2.6" ry="1.3" transform="rotate(180 834.2 617.0)" fill="#2a1616"/><ellipse cx="835.3" cy="614.3" rx="2.6" ry="1.3" transform="rotate(225 835.3 614.3)" fill="#2a1616"/><ellipse cx="838.0" cy="613.2" rx="2.6" ry="1.3" transform="rotate(270 838.0 613.2)" fill="#2a1616"/><ellipse cx="840.7" cy="614.3" rx="2.6" ry="1.3" transform="rotate(315 840.7 614.3)" fill="#2a1616"/><circle cx="838.0" cy="617.0" r="2.2" fill="#2a1616"/><circle cx="838.0" cy="617.0" r="1.4" fill="#e8742c"/><g transform="translate(942.0 586.0) rotate(60)" fill="#dba08c"><path d="M0,11.0 L0,-11.0" stroke="#dba08c" stroke-width="0.9"/><ellipse cx="2.6" cy="-8.8" rx="2.8" ry="0.9" transform="rotate(-40 2.6 -8.8)" fill="#dba08c"/><ellipse cx="-2.6" cy="-8.8" rx="2.8" ry="0.9" transform="rotate(40 -2.6 -8.8)" fill="#dba08c"/><ellipse cx="2.6" cy="-4.4" rx="2.8" ry="0.9" transform="rotate(-40 2.6 -4.4)" fill="#dba08c"/><ellipse cx="-2.6" cy="-4.4" rx="2.8" ry="0.9" transform="rotate(40 -2.6 -4.4)" fill="#dba08c"/><ellipse cx="2.6" cy="0.0" rx="2.8" ry="0.9" transform="rotate(-40 2.6 0.0)" fill="#dba08c"/><ellipse cx="-2.6" cy="0.0" rx="2.8" ry="0.9" transform="rotate(40 -2.6 0.0)" fill="#dba08c"/><ellipse cx="2.6" cy="4.4" rx="2.8" ry="0.9" transform="rotate(-40 2.6 4.4)" fill="#dba08c"/><ellipse cx="-2.6" cy="4.4" rx="2.8" ry="0.9" transform="rotate(40 -2.6 4.4)" fill="#dba08c"/></g><g transform="translate(898.0 610.0) rotate(20)"><path d="M0,11.0 L0,-11.0" stroke="#a3cfd3" stroke-width="0.9"/><ellipse cx="4.0" cy="-7.7" rx="4.6" ry="1.8" transform="rotate(-35 4.0 -7.7)" fill="#a3cfd3"/><ellipse cx="-4.0" cy="-6.6" rx="4.6" ry="1.8" transform="rotate(35 -4.0 -6.6)" fill="#a3cfd3"/><ellipse cx="4.0" cy="-1.1" rx="4.6" ry="1.8" transform="rotate(-35 4.0 -1.1)" fill="#a3cfd3"/><ellipse cx="-4.0" cy="0.0" rx="4.6" ry="1.8" transform="rotate(35 -4.0 0.0)" fill="#a3cfd3"/><ellipse cx="4.0" cy="5.5" rx="4.6" ry="1.8" transform="rotate(-35 4.0 5.5)" fill="#a3cfd3"/><ellipse cx="-4.0" cy="6.6" rx="4.6" ry="1.8" transform="rotate(35 -4.0 6.6)" fill="#a3cfd3"/></g><g transform="translate(995.0 590.0) rotate(-30)"><path d="M0,11.0 L0,-11.0" stroke="#a3cfd3" stroke-width="0.9"/><ellipse cx="4.0" cy="-7.7" rx="4.6" ry="1.8" transform="rotate(-35 4.0 -7.7)" fill="#a3cfd3"/><ellipse cx="-4.0" cy="-6.6" rx="4.6" ry="1.8" transform="rotate(35 -4.0 -6.6)" fill="#a3cfd3"/><ellipse cx="4.0" cy="-1.1" rx="4.6" ry="1.8" transform="rotate(-35 4.0 -1.1)" fill="#a3cfd3"/><ellipse cx="-4.0" cy="0.0" rx="4.6" ry="1.8" transform="rotate(35 -4.0 0.0)" fill="#a3cfd3"/><ellipse cx="4.0" cy="5.5" rx="4.6" ry="1.8" transform="rotate(-35 4.0 5.5)" fill="#a3cfd3"/><ellipse cx="-4.0" cy="6.6" rx="4.6" ry="1.8" transform="rotate(35 -4.0 6.6)" fill="#a3cfd3"/></g><circle cx="930.0" cy="598.3" r="7.0" fill="#f5b3bf"/><circle cx="936.7" cy="602.1" r="7.0" fill="#f5b3bf"/><circle cx="936.7" cy="609.9" r="7.0" fill="#f5b3bf"/><circle cx="930.0" cy="613.7" r="7.0" fill="#f5b3bf"/><circle cx="923.3" cy="609.9" r="7.0" fill="#f5b3bf"/><circle cx="923.3" cy="602.1" r="7.0" fill="#f5b3bf"/><circle cx="930.0" cy="606.0" r="7.0" fill="#f5b3bf"/><circle cx="930" cy="606" r="2.0" fill="#b04a38"/><circle cx="1048.0" cy="615.4" r="6.0" fill="#f7bcc6"/><circle cx="1053.7" cy="618.7" r="6.0" fill="#f7bcc6"/><circle cx="1053.7" cy="625.3" r="6.0" fill="#f7bcc6"/><circle cx="1048.0" cy="628.6" r="6.0" fill="#f7bcc6"/><circle cx="1042.3" cy="625.3" r="6.0" fill="#f7bcc6"/><circle cx="1042.3" cy="618.7" r="6.0" fill="#f7bcc6"/><circle cx="1048.0" cy="622.0" r="6.0" fill="#f7bcc6"/><circle cx="1048" cy="622" r="1.7" fill="#b04a38"/><circle cx="984.0" cy="564.5" r="5.0" fill="#f7bcc6"/><circle cx="988.8" cy="567.2" r="5.0" fill="#f7bcc6"/><circle cx="988.8" cy="572.8" r="5.0" fill="#f7bcc6"/><circle cx="984.0" cy="575.5" r="5.0" fill="#f7bcc6"/><circle cx="979.2" cy="572.8" r="5.0" fill="#f7bcc6"/><circle cx="979.2" cy="567.2" r="5.0" fill="#f7bcc6"/><circle cx="984.0" cy="570.0" r="5.0" fill="#f7bcc6"/><circle cx="984" cy="570" r="1.4" fill="#b04a38"/><circle cx="1038.0" cy="592.6" r="5.0" fill="#f2b64c"/><circle cx="1044.1" cy="597.0" r="5.0" fill="#f2b64c"/><circle cx="1041.8" cy="604.2" r="5.0" fill="#f2b64c"/><circle cx="1034.2" cy="604.2" r="5.0" fill="#f2b64c"/><circle cx="1031.9" cy="597.0" r="5.0" fill="#f2b64c"/><circle cx="1038.0" cy="599.0" r="5.5" fill="#f2b64c"/><circle cx="1038" cy="599" r="2.2" fill="#f8dca8"/><circle cx="955.0" cy="627.3" r="6.1" fill="#ee6a5a"/><circle cx="960.4" cy="631.2" r="6.1" fill="#ee6a5a"/><circle cx="958.4" cy="637.6" r="6.1" fill="#ee6a5a"/><circle cx="951.6" cy="637.6" r="6.1" fill="#ee6a5a"/><circle cx="949.6" cy="631.2" r="6.1" fill="#ee6a5a"/><circle cx="955.0" cy="633.0" r="5.5" fill="#ee6a5a"/><circle cx="985.0" cy="622.4" r="3.6" fill="#f2b64c"/><circle cx="989.4" cy="625.6" r="3.6" fill="#f2b64c"/><circle cx="987.7" cy="630.8" r="3.6" fill="#f2b64c"/><circle cx="982.3" cy="630.8" r="3.6" fill="#f2b64c"/><circle cx="980.6" cy="625.6" r="3.6" fill="#f2b64c"/><circle cx="985.0" cy="627.0" r="4.0" fill="#f2b64c"/><circle cx="985" cy="627" r="1.6" fill="#f8dca8"/><circle cx="938.8" cy="630.8" r="0.9" fill="#e0707a"/><circle cx="940.7" cy="627.5" r="0.9" fill="#e0707a"/><circle cx="942.6" cy="626.5" r="0.9" fill="#e0707a"/><circle cx="940.4" cy="627.6" r="0.9" fill="#e0707a"/><path d="M-3.0,0 Q0,-2.4 3.0,0 Q0,2.4 -3.0,0Z" transform="translate(944.0 626.0) rotate(-20)" fill="#2a2a3a"/><circle cx="1013.2" cy="575.1" r="1.1" fill="#d84a55"/><circle cx="1013.3" cy="575.0" r="1.1" fill="#d84a55"/><circle cx="1009.8" cy="570.8" r="1.1" fill="#d84a55"/><circle cx="1014.3" cy="572.0" r="1.1" fill="#d84a55"/><circle cx="1010.7" cy="570.7" r="1.1" fill="#d84a55"/><circle cx="954.8" cy="622.7" r="1.1" fill="#e0606a"/><circle cx="955.3" cy="618.9" r="1.1" fill="#e0606a"/><circle cx="952.0" cy="618.6" r="1.1" fill="#e0606a"/><circle cx="953.7" cy="624.6" r="1.1" fill="#e0606a"/><path d="M1023.0,588.0 q3.0,-4.5 6.0,-4.0" stroke="#3a2020" stroke-width="0.6" fill="none"/><circle cx="1022.0" cy="588.0" r="2.1" fill="#cc2530"/><circle cx="1025.2" cy="589.8" r="2.1" fill="#cc2530"/><path d="M-6.5,0 Q0,-5.6 6.5,0 Q0,5.6 -6.5,0Z" transform="translate(908.0 593.0) rotate(-30)" fill="#2b2424"/><circle cx="892.0" cy="574.2" r="8.2" fill="#ee6c5a"/><circle cx="899.4" cy="579.6" r="8.2" fill="#ee6c5a"/><circle cx="896.6" cy="588.3" r="8.2" fill="#ee6c5a"/><circle cx="887.4" cy="588.3" r="8.2" fill="#ee6c5a"/><circle cx="884.6" cy="579.6" r="8.2" fill="#ee6c5a"/><circle cx="892.0" cy="582.0" r="7.5" fill="#ee6c5a"/><circle cx="892.0" cy="577.7" r="4.5" fill="#e85a48"/><circle cx="896.1" cy="580.7" r="4.5" fill="#e85a48"/><circle cx="894.5" cy="585.5" r="4.5" fill="#e85a48"/><circle cx="889.5" cy="585.5" r="4.5" fill="#e85a48"/><circle cx="887.9" cy="580.7" r="4.5" fill="#e85a48"/><circle cx="892.0" cy="582.0" r="4.1" fill="#e85a48"/><ellipse cx="895.8" cy="582.0" rx="2.6" ry="1.3" transform="rotate(0 895.8 582.0)" fill="#2a1616"/><ellipse cx="894.7" cy="584.7" rx="2.6" ry="1.3" transform="rotate(45 894.7 584.7)" fill="#2a1616"/><ellipse cx="892.0" cy="585.8" rx="2.6" ry="1.3" transform="rotate(90 892.0 585.8)" fill="#2a1616"/><ellipse cx="889.3" cy="584.7" rx="2.6" ry="1.3" transform="rotate(135 889.3 584.7)" fill="#2a1616"/><ellipse cx="888.2" cy="582.0" rx="2.6" ry="1.3" transform="rotate(180 888.2 582.0)" fill="#2a1616"/><ellipse cx="889.3" cy="579.3" rx="2.6" ry="1.3" transform="rotate(225 889.3 579.3)" fill="#2a1616"/><ellipse cx="892.0" cy="578.2" rx="2.6" ry="1.3" transform="rotate(270 892.0 578.2)" fill="#2a1616"/><ellipse cx="894.7" cy="579.3" rx="2.6" ry="1.3" transform="rotate(315 894.7 579.3)" fill="#2a1616"/><circle cx="892.0" cy="582.0" r="2.2" fill="#2a1616"/><circle cx="892.0" cy="582.0" r="1.4" fill="#e8742c"/><path d="M-8.0,0 Q0,-5.6 8.0,0 Q0,5.6 -8.0,0Z" transform="translate(976.0 597.0) rotate(-25)" fill="#2b2424"/><path d="M-6.5,0 Q0,-4.8 6.5,0 Q0,4.8 -6.5,0Z" transform="translate(976.0 607.0) rotate(5)" fill="#2b2424"/><path d="M11.4,0.0 L11.4,0.9 L11.2,1.8 L11.0,2.7 L10.7,3.6 L10.3,4.4 L9.9,5.2 L9.3,6.0 L8.7,6.7 L8.1,7.4 L7.3,8.0 L6.5,8.6 L5.7,9.1 L4.8,9.5 L3.9,9.9 L3.0,10.1 L2.0,10.3 L1.0,10.4 L0.0,10.5 L-1.0,10.4 L-2.0,10.3 L-3.0,10.1 L-3.9,9.9 L-4.8,9.5 L-5.7,9.1 L-6.5,8.6 L-7.3,8.0 L-8.1,7.4 L-8.7,6.7 L-9.3,6.0 L-9.9,5.2 L-10.4,4.5 L-11.4,3.8 L-12.0,3.0 L-12.2,2.0 L-12.0,1.0 L-11.4,0.0 L-12.0,-1.0 L-12.2,-2.0 L-12.0,-3.0 L-11.4,-3.8 L-10.4,-4.5 L-10.3,-5.5 L-10.1,-6.5 L-9.5,-7.4 L-8.6,-7.9 L-7.4,-8.2 L-6.8,-8.9 L-6.2,-9.8 L-5.3,-10.4 L-4.2,-10.6 L-3.0,-10.4 L-2.0,-10.7 L-1.1,-11.3 L-0.0,-11.5 L1.1,-11.3 L2.0,-10.7 L3.0,-10.4 L4.2,-10.6 L5.3,-10.4 L6.2,-9.8 L6.8,-8.9 L7.4,-8.2 L8.6,-7.9 L9.5,-7.4 L10.1,-6.5 L10.3,-5.5 L10.4,-4.5 L11.4,-3.8 L11.0,-2.7 L11.2,-1.8 L11.4,-0.9Z" transform="translate(962.0 597.0) rotate(-5)" fill="#f07428"/><path d="M-6.0,0 Q0,-4.8 6.0,0 Q0,4.8 -6.0,0Z" transform="translate(1014.0 597.0) rotate(60)" fill="#2b2424"/><circle cx="1010.0" cy="609.2" r="8.2" fill="#ee6c5a"/><circle cx="1017.4" cy="614.6" r="8.2" fill="#ee6c5a"/><circle cx="1014.6" cy="623.3" r="8.2" fill="#ee6c5a"/><circle cx="1005.4" cy="623.3" r="8.2" fill="#ee6c5a"/><circle cx="1002.6" cy="614.6" r="8.2" fill="#ee6c5a"/><circle cx="1010.0" cy="617.0" r="7.5" fill="#ee6c5a"/><circle cx="1010.0" cy="612.7" r="4.5" fill="#e85a48"/><circle cx="1014.1" cy="615.7" r="4.5" fill="#e85a48"/><circle cx="1012.5" cy="620.5" r="4.5" fill="#e85a48"/><circle cx="1007.5" cy="620.5" r="4.5" fill="#e85a48"/><circle cx="1005.9" cy="615.7" r="4.5" fill="#e85a48"/><circle cx="1010.0" cy="617.0" r="4.1" fill="#e85a48"/><ellipse cx="1013.8" cy="617.0" rx="2.6" ry="1.3" transform="rotate(0 1013.8 617.0)" fill="#2a1616"/><ellipse cx="1012.7" cy="619.7" rx="2.6" ry="1.3" transform="rotate(45 1012.7 619.7)" fill="#2a1616"/><ellipse cx="1010.0" cy="620.8" rx="2.6" ry="1.3" transform="rotate(90 1010.0 620.8)" fill="#2a1616"/><ellipse cx="1007.3" cy="619.7" rx="2.6" ry="1.3" transform="rotate(135 1007.3 619.7)" fill="#2a1616"/><ellipse cx="1006.2" cy="617.0" rx="2.6" ry="1.3" transform="rotate(180 1006.2 617.0)" fill="#2a1616"/><ellipse cx="1007.3" cy="614.3" rx="2.6" ry="1.3" transform="rotate(225 1007.3 614.3)" fill="#2a1616"/><ellipse cx="1010.0" cy="613.2" rx="2.6" ry="1.3" transform="rotate(270 1010.0 613.2)" fill="#2a1616"/><ellipse cx="1012.7" cy="614.3" rx="2.6" ry="1.3" transform="rotate(315 1012.7 614.3)" fill="#2a1616"/><circle cx="1010.0" cy="617.0" r="2.2" fill="#2a1616"/><circle cx="1010.0" cy="617.0" r="1.4" fill="#e8742c"/><g transform="translate(1114.0 586.0) rotate(60)" fill="#dba08c"><path d="M0,11.0 L0,-11.0" stroke="#dba08c" stroke-width="0.9"/><ellipse cx="2.6" cy="-8.8" rx="2.8" ry="0.9" transform="rotate(-40 2.6 -8.8)" fill="#dba08c"/><ellipse cx="-2.6" cy="-8.8" rx="2.8" ry="0.9" transform="rotate(40 -2.6 -8.8)" fill="#dba08c"/><ellipse cx="2.6" cy="-4.4" rx="2.8" ry="0.9" transform="rotate(-40 2.6 -4.4)" fill="#dba08c"/><ellipse cx="-2.6" cy="-4.4" rx="2.8" ry="0.9" transform="rotate(40 -2.6 -4.4)" fill="#dba08c"/><ellipse cx="2.6" cy="0.0" rx="2.8" ry="0.9" transform="rotate(-40 2.6 0.0)" fill="#dba08c"/><ellipse cx="-2.6" cy="0.0" rx="2.8" ry="0.9" transform="rotate(40 -2.6 0.0)" fill="#dba08c"/><ellipse cx="2.6" cy="4.4" rx="2.8" ry="0.9" transform="rotate(-40 2.6 4.4)" fill="#dba08c"/><ellipse cx="-2.6" cy="4.4" rx="2.8" ry="0.9" transform="rotate(40 -2.6 4.4)" fill="#dba08c"/></g><g transform="translate(1070.0 610.0) rotate(20)"><path d="M0,11.0 L0,-11.0" stroke="#a3cfd3" stroke-width="0.9"/><ellipse cx="4.0" cy="-7.7" rx="4.6" ry="1.8" transform="rotate(-35 4.0 -7.7)" fill="#a3cfd3"/><ellipse cx="-4.0" cy="-6.6" rx="4.6" ry="1.8" transform="rotate(35 -4.0 -6.6)" fill="#a3cfd3"/><ellipse cx="4.0" cy="-1.1" rx="4.6" ry="1.8" transform="rotate(-35 4.0 -1.1)" fill="#a3cfd3"/><ellipse cx="-4.0" cy="0.0" rx="4.6" ry="1.8" transform="rotate(35 -4.0 0.0)" fill="#a3cfd3"/><ellipse cx="4.0" cy="5.5" rx="4.6" ry="1.8" transform="rotate(-35 4.0 5.5)" fill="#a3cfd3"/><ellipse cx="-4.0" cy="6.6" rx="4.6" ry="1.8" transform="rotate(35 -4.0 6.6)" fill="#a3cfd3"/></g><g transform="translate(1167.0 590.0) rotate(-30)"><path d="M0,11.0 L0,-11.0" stroke="#a3cfd3" stroke-width="0.9"/><ellipse cx="4.0" cy="-7.7" rx="4.6" ry="1.8" transform="rotate(-35 4.0 -7.7)" fill="#a3cfd3"/><ellipse cx="-4.0" cy="-6.6" rx="4.6" ry="1.8" transform="rotate(35 -4.0 -6.6)" fill="#a3cfd3"/><ellipse cx="4.0" cy="-1.1" rx="4.6" ry="1.8" transform="rotate(-35 4.0 -1.1)" fill="#a3cfd3"/><ellipse cx="-4.0" cy="0.0" rx="4.6" ry="1.8" transform="rotate(35 -4.0 0.0)" fill="#a3cfd3"/><ellipse cx="4.0" cy="5.5" rx="4.6" ry="1.8" transform="rotate(-35 4.0 5.5)" fill="#a3cfd3"/><ellipse cx="-4.0" cy="6.6" rx="4.6" ry="1.8" transform="rotate(35 -4.0 6.6)" fill="#a3cfd3"/></g><circle cx="1102.0" cy="598.3" r="7.0" fill="#f5b3bf"/><circle cx="1108.7" cy="602.1" r="7.0" fill="#f5b3bf"/><circle cx="1108.7" cy="609.9" r="7.0" fill="#f5b3bf"/><circle cx="1102.0" cy="613.7" r="7.0" fill="#f5b3bf"/><circle cx="1095.3" cy="609.9" r="7.0" fill="#f5b3bf"/><circle cx="1095.3" cy="602.1" r="7.0" fill="#f5b3bf"/><circle cx="1102.0" cy="606.0" r="7.0" fill="#f5b3bf"/><circle cx="1102" cy="606" r="2.0" fill="#b04a38"/><circle cx="1220.0" cy="615.4" r="6.0" fill="#f7bcc6"/><circle cx="1225.7" cy="618.7" r="6.0" fill="#f7bcc6"/><circle cx="1225.7" cy="625.3" r="6.0" fill="#f7bcc6"/><circle cx="1220.0" cy="628.6" r="6.0" fill="#f7bcc6"/><circle cx="1214.3" cy="625.3" r="6.0" fill="#f7bcc6"/><circle cx="1214.3" cy="618.7" r="6.0" fill="#f7bcc6"/><circle cx="1220.0" cy="622.0" r="6.0" fill="#f7bcc6"/><circle cx="1220" cy="622" r="1.7" fill="#b04a38"/><circle cx="1156.0" cy="564.5" r="5.0" fill="#f7bcc6"/><circle cx="1160.8" cy="567.2" r="5.0" fill="#f7bcc6"/><circle cx="1160.8" cy="572.8" r="5.0" fill="#f7bcc6"/><circle cx="1156.0" cy="575.5" r="5.0" fill="#f7bcc6"/><circle cx="1151.2" cy="572.8" r="5.0" fill="#f7bcc6"/><circle cx="1151.2" cy="567.2" r="5.0" fill="#f7bcc6"/><circle cx="1156.0" cy="570.0" r="5.0" fill="#f7bcc6"/><circle cx="1156" cy="570" r="1.4" fill="#b04a38"/><circle cx="1210.0" cy="592.6" r="5.0" fill="#f2b64c"/><circle cx="1216.1" cy="597.0" r="5.0" fill="#f2b64c"/><circle cx="1213.8" cy="604.2" r="5.0" fill="#f2b64c"/><circle cx="1206.2" cy="604.2" r="5.0" fill="#f2b64c"/><circle cx="1203.9" cy="597.0" r="5.0" fill="#f2b64c"/><circle cx="1210.0" cy="599.0" r="5.5" fill="#f2b64c"/><circle cx="1210" cy="599" r="2.2" fill="#f8dca8"/><circle cx="1127.0" cy="627.3" r="6.1" fill="#ee6a5a"/><circle cx="1132.4" cy="631.2" r="6.1" fill="#ee6a5a"/><circle cx="1130.4" cy="637.6" r="6.1" fill="#ee6a5a"/><circle cx="1123.6" cy="637.6" r="6.1" fill="#ee6a5a"/><circle cx="1121.6" cy="631.2" r="6.1" fill="#ee6a5a"/><circle cx="1127.0" cy="633.0" r="5.5" fill="#ee6a5a"/><circle cx="1157.0" cy="622.4" r="3.6" fill="#f2b64c"/><circle cx="1161.4" cy="625.6" r="3.6" fill="#f2b64c"/><circle cx="1159.7" cy="630.8" r="3.6" fill="#f2b64c"/><circle cx="1154.3" cy="630.8" r="3.6" fill="#f2b64c"/><circle cx="1152.6" cy="625.6" r="3.6" fill="#f2b64c"/><circle cx="1157.0" cy="627.0" r="4.0" fill="#f2b64c"/><circle cx="1157" cy="627" r="1.6" fill="#f8dca8"/><circle cx="1109.4" cy="630.8" r="0.9" fill="#e0707a"/><circle cx="1112.6" cy="627.7" r="0.9" fill="#e0707a"/><circle cx="1107.9" cy="630.2" r="0.9" fill="#e0707a"/><circle cx="1110.9" cy="627.3" r="0.9" fill="#e0707a"/><path d="M-3.0,0 Q0,-2.4 3.0,0 Q0,2.4 -3.0,0Z" transform="translate(1116.0 626.0) rotate(-20)" fill="#2a2a3a"/><circle cx="1185.5" cy="574.5" r="1.1" fill="#d84a55"/><circle cx="1188.3" cy="571.7" r="1.1" fill="#d84a55"/><circle cx="1187.5" cy="577.3" r="1.1" fill="#d84a55"/><circle cx="1188.3" cy="573.6" r="1.1" fill="#d84a55"/><circle cx="1183.4" cy="576.2" r="1.1" fill="#d84a55"/><circle cx="1124.0" cy="621.1" r="1.1" fill="#e0606a"/><circle cx="1127.2" cy="620.4" r="1.1" fill="#e0606a"/><circle cx="1119.4" cy="620.2" r="1.1" fill="#e0606a"/><circle cx="1120.0" cy="622.8" r="1.1" fill="#e0606a"/><path d="M1195.0,588.0 q3.0,-4.5 6.0,-4.0" stroke="#3a2020" stroke-width="0.6" fill="none"/><circle cx="1194.0" cy="588.0" r="2.1" fill="#cc2530"/><circle cx="1197.2" cy="589.8" r="2.1" fill="#cc2530"/><path d="M-6.5,0 Q0,-5.6 6.5,0 Q0,5.6 -6.5,0Z" transform="translate(1080.0 593.0) rotate(-30)" fill="#2b2424"/><circle cx="1064.0" cy="574.2" r="8.2" fill="#ee6c5a"/><circle cx="1071.4" cy="579.6" r="8.2" fill="#ee6c5a"/><circle cx="1068.6" cy="588.3" r="8.2" fill="#ee6c5a"/><circle cx="1059.4" cy="588.3" r="8.2" fill="#ee6c5a"/><circle cx="1056.6" cy="579.6" r="8.2" fill="#ee6c5a"/><circle cx="1064.0" cy="582.0" r="7.5" fill="#ee6c5a"/><circle cx="1064.0" cy="577.7" r="4.5" fill="#e85a48"/><circle cx="1068.1" cy="580.7" r="4.5" fill="#e85a48"/><circle cx="1066.5" cy="585.5" r="4.5" fill="#e85a48"/><circle cx="1061.5" cy="585.5" r="4.5" fill="#e85a48"/><circle cx="1059.9" cy="580.7" r="4.5" fill="#e85a48"/><circle cx="1064.0" cy="582.0" r="4.1" fill="#e85a48"/><ellipse cx="1067.8" cy="582.0" rx="2.6" ry="1.3" transform="rotate(0 1067.8 582.0)" fill="#2a1616"/><ellipse cx="1066.7" cy="584.7" rx="2.6" ry="1.3" transform="rotate(45 1066.7 584.7)" fill="#2a1616"/><ellipse cx="1064.0" cy="585.8" rx="2.6" ry="1.3" transform="rotate(90 1064.0 585.8)" fill="#2a1616"/><ellipse cx="1061.3" cy="584.7" rx="2.6" ry="1.3" transform="rotate(135 1061.3 584.7)" fill="#2a1616"/><ellipse cx="1060.2" cy="582.0" rx="2.6" ry="1.3" transform="rotate(180 1060.2 582.0)" fill="#2a1616"/><ellipse cx="1061.3" cy="579.3" rx="2.6" ry="1.3" transform="rotate(225 1061.3 579.3)" fill="#2a1616"/><ellipse cx="1064.0" cy="578.2" rx="2.6" ry="1.3" transform="rotate(270 1064.0 578.2)" fill="#2a1616"/><ellipse cx="1066.7" cy="579.3" rx="2.6" ry="1.3" transform="rotate(315 1066.7 579.3)" fill="#2a1616"/><circle cx="1064.0" cy="582.0" r="2.2" fill="#2a1616"/><circle cx="1064.0" cy="582.0" r="1.4" fill="#e8742c"/><path d="M-8.0,0 Q0,-5.6 8.0,0 Q0,5.6 -8.0,0Z" transform="translate(1148.0 597.0) rotate(-25)" fill="#2b2424"/><path d="M-6.5,0 Q0,-4.8 6.5,0 Q0,4.8 -6.5,0Z" transform="translate(1148.0 607.0) rotate(5)" fill="#2b2424"/><path d="M11.4,0.0 L11.4,0.9 L11.2,1.8 L11.0,2.7 L10.7,3.6 L10.3,4.4 L9.9,5.2 L9.3,6.0 L8.7,6.7 L8.1,7.4 L7.3,8.0 L6.5,8.6 L5.7,9.1 L4.8,9.5 L3.9,9.9 L3.0,10.1 L2.0,10.3 L1.0,10.4 L0.0,10.5 L-1.0,10.4 L-2.0,10.3 L-3.0,10.1 L-3.9,9.9 L-4.8,9.5 L-5.7,9.1 L-6.5,8.6 L-7.3,8.0 L-8.1,7.4 L-8.7,6.7 L-9.3,6.0 L-9.9,5.2 L-10.4,4.5 L-11.4,3.8 L-12.0,3.0 L-12.2,2.0 L-12.0,1.0 L-11.4,0.0 L-12.0,-1.0 L-12.2,-2.0 L-12.0,-3.0 L-11.4,-3.8 L-10.4,-4.5 L-10.3,-5.5 L-10.1,-6.5 L-9.5,-7.4 L-8.6,-7.9 L-7.4,-8.2 L-6.8,-8.9 L-6.2,-9.8 L-5.3,-10.4 L-4.2,-10.6 L-3.0,-10.4 L-2.0,-10.7 L-1.1,-11.3 L-0.0,-11.5 L1.1,-11.3 L2.0,-10.7 L3.0,-10.4 L4.2,-10.6 L5.3,-10.4 L6.2,-9.8 L6.8,-8.9 L7.4,-8.2 L8.6,-7.9 L9.5,-7.4 L10.1,-6.5 L10.3,-5.5 L10.4,-4.5 L11.4,-3.8 L11.0,-2.7 L11.2,-1.8 L11.4,-0.9Z" transform="translate(1134.0 597.0) rotate(-5)" fill="#f07428"/><path d="M-6.0,0 Q0,-4.8 6.0,0 Q0,4.8 -6.0,0Z" transform="translate(1186.0 597.0) rotate(60)" fill="#2b2424"/><circle cx="1182.0" cy="609.2" r="8.2" fill="#ee6c5a"/><circle cx="1189.4" cy="614.6" r="8.2" fill="#ee6c5a"/><circle cx="1186.6" cy="623.3" r="8.2" fill="#ee6c5a"/><circle cx="1177.4" cy="623.3" r="8.2" fill="#ee6c5a"/><circle cx="1174.6" cy="614.6" r="8.2" fill="#ee6c5a"/><circle cx="1182.0" cy="617.0" r="7.5" fill="#ee6c5a"/><circle cx="1182.0" cy="612.7" r="4.5" fill="#e85a48"/><circle cx="1186.1" cy="615.7" r="4.5" fill="#e85a48"/><circle cx="1184.5" cy="620.5" r="4.5" fill="#e85a48"/><circle cx="1179.5" cy="620.5" r="4.5" fill="#e85a48"/><circle cx="1177.9" cy="615.7" r="4.5" fill="#e85a48"/><circle cx="1182.0" cy="617.0" r="4.1" fill="#e85a48"/><ellipse cx="1185.8" cy="617.0" rx="2.6" ry="1.3" transform="rotate(0 1185.8 617.0)" fill="#2a1616"/><ellipse cx="1184.7" cy="619.7" rx="2.6" ry="1.3" transform="rotate(45 1184.7 619.7)" fill="#2a1616"/><ellipse cx="1182.0" cy="620.8" rx="2.6" ry="1.3" transform="rotate(90 1182.0 620.8)" fill="#2a1616"/><ellipse cx="1179.3" cy="619.7" rx="2.6" ry="1.3" transform="rotate(135 1179.3 619.7)" fill="#2a1616"/><ellipse cx="1178.2" cy="617.0" rx="2.6" ry="1.3" transform="rotate(180 1178.2 617.0)" fill="#2a1616"/><ellipse cx="1179.3" cy="614.3" rx="2.6" ry="1.3" transform="rotate(225 1179.3 614.3)" fill="#2a1616"/><ellipse cx="1182.0" cy="613.2" rx="2.6" ry="1.3" transform="rotate(270 1182.0 613.2)" fill="#2a1616"/><ellipse cx="1184.7" cy="614.3" rx="2.6" ry="1.3" transform="rotate(315 1184.7 614.3)" fill="#2a1616"/><circle cx="1182.0" cy="617.0" r="2.2" fill="#2a1616"/><circle cx="1182.0" cy="617.0" r="1.4" fill="#e8742c"/><path d="M60,572.5 L1160,572.5 M60,622 L1160,622" stroke="#8a8288" stroke-width="1" stroke-dasharray="3 4" opacity="0.55"/><rect x="60" y="566" width="1100" height="71" fill="url(#bandshade)"/></g></g>
<path d="M17,562 L29,562 Q33,569.5 40,569.5 L55,569.5 Q60,569.5 62,561.5 L123,561.5 L123,566.5 L95,566.5 L95,638 L123,638 L123,643 L61,643 Q57,632 41,632 Q26,632 22,643 L17,643 Z" fill="url(#lbk)"/><path d="M56,643 Q64,622 80,612 L87,598 L87,643 Z" fill="#7e4442" opacity="0.8"/><rect x="86" y="566.5" width="9" height="71.5" fill="#b8735f"/><rect x="87.5" y="568" width="3" height="68" fill="#8e4c3e"/><path d="M23,642 Q27,633.5 41,633.5 Q55,633.5 59,642" stroke="#dc9480" stroke-width="3.5" fill="none"/><path d="M27,643 Q31,637 41,637 Q51,637 55,643 Z" fill="#f3cfc2" opacity="0.8"/><path d="M18,563 L18,642" stroke="#f6c8b6" stroke-width="1.5"/><path d="M171,568 C180,560 200,558 213,567 C228,580 229,626 215,639 C204,648 180,647 168,637" fill="none" stroke="#e2947c" stroke-width="6"/><path d="M172,568 C181,561 200,560 212,568 C226,581 227,625 214,638 C203,646 181,645 169,636" fill="none" stroke="#fbd2c2" stroke-width="1.4"/><path d="M218,590 C222,605 221,625 213,633" fill="none" stroke="#9a5444" stroke-width="2" opacity="0.7"/><rect x="288" y="588.5" width="107" height="30.5" fill="#8f4c2e"/><rect x="288" y="588.5" width="107" height="30.5" fill="url(#lblsh)"/><rect x="292" y="592" width="99" height="23.5" fill="none" stroke="#4a2214" stroke-width="1.3" stroke-dasharray="1.4 2.2"/><text x="300" y="607.5" font-family="Liberation Sans, sans-serif" font-size="11.5" fill="#3a1a0e" textLength="33" lengthAdjust="spacingAndGlyphs">lionet</text><circle cx="342" cy="603.5" r="5.5" fill="#6a3420" stroke="#3a1a0e" stroke-width="1.4"/><text x="351" y="607.5" font-family="Liberation Sans, sans-serif" font-size="11.5" fill="#3a1a0e" textLength="30" lengthAdjust="spacingAndGlyphs">paws</text><rect x="589" y="554" width="68" height="87" rx="8" fill="#f3bea6" stroke="#d4907a" stroke-width="1.2"/><rect x="591" y="555.5" width="64" height="4" rx="2" fill="#fbd8c8"/><rect x="596" y="562" width="54" height="73" rx="4" fill="#f2eff1" stroke="#b87060" stroke-width="1.2"/><g clip-path="url(#rb)"><path d="M13.3,0.0 L13.2,1.1 L13.1,2.1 L12.8,3.2 L12.5,4.2 L12.1,5.2 L11.5,6.1 L10.9,7.0 L10.2,7.9 L9.4,8.7 L8.5,9.4 L7.6,10.0 L6.7,10.6 L5.6,11.1 L4.5,11.5 L3.4,11.8 L2.3,12.1 L1.2,12.2 L0.0,12.2 L-1.2,12.2 L-2.3,12.1 L-3.4,11.8 L-4.5,11.5 L-5.6,11.1 L-6.6,10.6 L-7.6,10.0 L-8.5,9.4 L-9.4,8.7 L-10.2,7.9 L-10.9,7.0 L-11.5,6.1 L-12.2,5.2 L-13.3,4.4 L-14.0,3.5 L-14.3,2.3 L-14.0,1.1 L-13.3,0.0 L-14.0,-1.1 L-14.3,-2.3 L-14.0,-3.5 L-13.3,-4.4 L-12.2,-5.2 L-12.1,-6.4 L-11.8,-7.6 L-11.1,-8.6 L-10.0,-9.2 L-8.7,-9.5 L-7.9,-10.4 L-7.2,-11.5 L-6.2,-12.1 L-4.9,-12.3 L-3.5,-12.1 L-2.4,-12.4 L-1.2,-13.1 L-0.0,-13.4 L1.2,-13.1 L2.4,-12.4 L3.5,-12.1 L4.9,-12.3 L6.2,-12.1 L7.2,-11.5 L7.9,-10.4 L8.7,-9.5 L10.0,-9.2 L11.1,-8.6 L11.8,-7.6 L12.1,-6.4 L12.2,-5.2 L13.3,-4.4 L12.8,-3.2 L13.1,-2.1 L13.2,-1.1Z" transform="translate(622.0 596.0) rotate(-15)" fill="#f07428"/><path d="M-8.0,0 Q0,-5.6 8.0,0 Q0,5.6 -8.0,0Z" transform="translate(641.0 601.0) rotate(-20)" fill="#2b2424"/><path d="M-6.0,0 Q0,-4.8 6.0,0 Q0,4.8 -6.0,0Z" transform="translate(640.0 612.0) rotate(10)" fill="#2b2424"/><g transform="translate(610.0 575.0) rotate(40)" fill="#d7a2a0"><path d="M0,9.0 L0,-9.0" stroke="#d7a2a0" stroke-width="0.7"/><ellipse cx="2.2" cy="-7.2" rx="2.2" ry="0.7" transform="rotate(-40 2.2 -7.2)" fill="#d7a2a0"/><ellipse cx="-2.2" cy="-7.2" rx="2.2" ry="0.7" transform="rotate(40 -2.2 -7.2)" fill="#d7a2a0"/><ellipse cx="2.2" cy="-3.6" rx="2.2" ry="0.7" transform="rotate(-40 2.2 -3.6)" fill="#d7a2a0"/><ellipse cx="-2.2" cy="-3.6" rx="2.2" ry="0.7" transform="rotate(40 -2.2 -3.6)" fill="#d7a2a0"/><ellipse cx="2.2" cy="0.0" rx="2.2" ry="0.7" transform="rotate(-40 2.2 0.0)" fill="#d7a2a0"/><ellipse cx="-2.2" cy="0.0" rx="2.2" ry="0.7" transform="rotate(40 -2.2 0.0)" fill="#d7a2a0"/><ellipse cx="2.2" cy="3.6" rx="2.2" ry="0.7" transform="rotate(-40 2.2 3.6)" fill="#d7a2a0"/><ellipse cx="-2.2" cy="3.6" rx="2.2" ry="0.7" transform="rotate(40 -2.2 3.6)" fill="#d7a2a0"/></g><rect x="596" y="622" width="54" height="13" fill="#f0b8a8" opacity="0.7"/><rect x="596" y="631" width="54" height="4" fill="#7a3a2c" opacity="0.8"/></g><rect x="1088" y="559" width="41" height="81" fill="#f0b8a4"/><rect x="1088" y="565" width="27" height="68" fill="#f1eef0"/><circle cx="1103.0" cy="593.2" r="8.0" fill="#f5b3bf"/><circle cx="1110.6" cy="597.6" r="8.0" fill="#f5b3bf"/><circle cx="1110.6" cy="606.4" r="8.0" fill="#f5b3bf"/><circle cx="1103.0" cy="610.8" r="8.0" fill="#f5b3bf"/><circle cx="1095.4" cy="606.4" r="8.0" fill="#f5b3bf"/><circle cx="1095.4" cy="597.6" r="8.0" fill="#f5b3bf"/><circle cx="1103.0" cy="602.0" r="8.0" fill="#f5b3bf"/><circle cx="1103" cy="602" r="2.2" fill="#b04a38"/><circle cx="1098.5" cy="572.1" r="1.1" fill="#c04a55"/><circle cx="1098.0" cy="574.5" r="1.1" fill="#c04a55"/><circle cx="1098.2" cy="575.9" r="1.1" fill="#c04a55"/><circle cx="1097.9" cy="575.1" r="1.1" fill="#c04a55"/><circle cx="1101.1" cy="576.3" r="1.1" fill="#c04a55"/><path d="M-5.0,0 Q0,-4.8 5.0,0 Q0,4.8 -5.0,0Z" transform="translate(1083.0 591.0) rotate(30)" fill="#2b2424"/><path d="M1112,565 L1122,563 L1122,636 L1112,634 Z" fill="#8e3a2a"/><rect x="1088" y="633" width="40" height="7" fill="#d08a78"/><path d="M1129,560 L1165,560 L1171,567 L1186,567 L1186,640 L1129,640 Z" fill="#fcc6ae"/><path d="M1140,565 L1140,574 M1140,571 L1170,572 M1170,569 L1171,576" stroke="#b24a3a" stroke-width="1.5" fill="none"/><path d="M1143,622 L1172,622 L1172,631 M1143,622 L1143,637" stroke="#b24a3a" stroke-width="1.5" fill="none"/><circle cx="1163" cy="599" r="4" fill="none" stroke="#8a3a2a" stroke-width="1.4"/><g clip-path="url(#c1)"><rect x="290" y="15" width="330" height="330" fill="#f4f5f7"/><rect x="290" y="294" width="330" height="60" fill="url(#sh1)"/><rect x="290" y="74" width="330" height="222" fill="#f1eff1"/><g clip-path="url(#fab1)"><rect x="290" y="74" width="50" height="222" fill="#e9e5e7"/><rect x="558" y="74" width="62" height="222" fill="#ece8ea"/><circle cx="527.5" cy="93.3" r="2.0" fill="#e0505a"/><circle cx="522.9" cy="85.9" r="2.0" fill="#e0505a"/><circle cx="522.8" cy="94.0" r="2.0" fill="#e0505a"/><circle cx="525.2" cy="90.0" r="2.0" fill="#e0505a"/><circle cx="529.8" cy="90.0" r="2.0" fill="#e0505a"/><circle cx="528.5" cy="90.6" r="2.0" fill="#e0505a"/><circle cx="586.4" cy="100.2" r="1.8" fill="#e05a60"/><circle cx="581.8" cy="103.3" r="1.8" fill="#e05a60"/><circle cx="579.3" cy="95.6" r="1.8" fill="#e05a60"/><circle cx="578.1" cy="103.7" r="1.8" fill="#e05a60"/><circle cx="574.1" cy="97.9" r="1.8" fill="#e05a60"/><g transform="translate(592.0 148.0) rotate(55)" fill="#d9936e"><path d="M0,35.0 L0,-35.0" stroke="#d9936e" stroke-width="2.8"/><ellipse cx="8.4" cy="-28.0" rx="8.8" ry="2.8" transform="rotate(-40 8.4 -28.0)" fill="#d9936e"/><ellipse cx="-8.4" cy="-28.0" rx="8.8" ry="2.8" transform="rotate(40 -8.4 -28.0)" fill="#d9936e"/><ellipse cx="8.4" cy="-14.0" rx="8.8" ry="2.8" transform="rotate(-40 8.4 -14.0)" fill="#d9936e"/><ellipse cx="-8.4" cy="-14.0" rx="8.8" ry="2.8" transform="rotate(40 -8.4 -14.0)" fill="#d9936e"/><ellipse cx="8.4" cy="0.0" rx="8.8" ry="2.8" transform="rotate(-40 8.4 0.0)" fill="#d9936e"/><ellipse cx="-8.4" cy="0.0" rx="8.8" ry="2.8" transform="rotate(40 -8.4 0.0)" fill="#d9936e"/><ellipse cx="8.4" cy="14.0" rx="8.8" ry="2.8" transform="rotate(-40 8.4 14.0)" fill="#d9936e"/><ellipse cx="-8.4" cy="14.0" rx="8.8" ry="2.8" transform="rotate(40 -8.4 14.0)" fill="#d9936e"/></g><path d="M318.0,170.0 q6.6,-9.9 13.2,-8.8" stroke="#3a2020" stroke-width="1.3" fill="none"/><circle cx="315.8" cy="170.0" r="4.6" fill="#cc2530"/><circle cx="322.9" cy="173.8" r="4.6" fill="#cc2530"/><path d="M318.0,112.0 q5.4,-8.1 10.8,-7.2" stroke="#3a2020" stroke-width="1.1" fill="none"/><circle cx="316.2" cy="112.0" r="3.8" fill="#cc2530"/><circle cx="322.1" cy="115.2" r="3.8" fill="#cc2530"/><circle cx="369.4" cy="141.5" r="2.2" fill="#e05a5a"/><circle cx="365.0" cy="140.8" r="2.2" fill="#e05a5a"/><circle cx="365.7" cy="133.0" r="2.2" fill="#e05a5a"/><circle cx="358.0" cy="135.1" r="2.2" fill="#e05a5a"/><circle cx="368.8" cy="135.7" r="2.2" fill="#e05a5a"/><circle cx="361.1" cy="134.7" r="2.2" fill="#e05a5a"/><circle cx="358.1" cy="137.5" r="2.2" fill="#e05a5a"/><circle cx="384.0" cy="82.0" r="8.6" fill="#f2b64c"/><circle cx="394.5" cy="89.6" r="8.6" fill="#f2b64c"/><circle cx="390.5" cy="101.9" r="8.6" fill="#f2b64c"/><circle cx="377.5" cy="101.9" r="8.6" fill="#f2b64c"/><circle cx="373.5" cy="89.6" r="8.6" fill="#f2b64c"/><circle cx="384.0" cy="93.0" r="9.5" fill="#f2b64c"/><circle cx="384" cy="93" r="3.8" fill="#f8dca8"/><path d="M402,92 Q425,84 452,88 L450,96 Q425,94 404,98 Z" fill="#f2bc5a"/><path d="M410,84 Q430,78 448,84" stroke="#5a3050" stroke-width="2.5" fill="none"/><circle cx="526.4" cy="87.1" r="1.5" fill="#e05058"/><circle cx="523.5" cy="86.9" r="1.5" fill="#e05058"/><circle cx="528.1" cy="80.2" r="1.5" fill="#e05058"/><circle cx="531.7" cy="85.3" r="1.5" fill="#e05058"/><circle cx="523.8" cy="83.6" r="1.5" fill="#e05058"/><ellipse cx="420" cy="163" rx="22" ry="22" fill="#f39c8a"/><ellipse cx="500" cy="155" rx="20" ry="22" fill="#f3a08e"/><ellipse cx="428" cy="113" rx="25" ry="19" fill="#f0846f" transform="rotate(-10 428 113)"/><ellipse cx="487" cy="110" rx="27" ry="20" fill="#ef7c66" transform="rotate(8 487 110)"/><path d="M398,119 L518,117 L466,186 L449,186 Z" fill="#ee6854"/><path d="M-17.0,0 Q0,-14.4 17.0,0 Q0,14.4 -17.0,0Z" transform="translate(500.0 180.0) rotate(-40)" fill="#2b2424"/><ellipse cx="468.0" cy="143.0" rx="8.4" ry="4.0" transform="rotate(0 468.0 143.0)" fill="#2a1616"/><ellipse cx="464.5" cy="151.5" rx="8.4" ry="4.0" transform="rotate(45 464.5 151.5)" fill="#2a1616"/><ellipse cx="456.0" cy="155.0" rx="8.4" ry="4.0" transform="rotate(90 456.0 155.0)" fill="#2a1616"/><ellipse cx="447.5" cy="151.5" rx="8.4" ry="4.0" transform="rotate(135 447.5 151.5)" fill="#2a1616"/><ellipse cx="444.0" cy="143.0" rx="8.4" ry="4.0" transform="rotate(180 444.0 143.0)" fill="#2a1616"/><ellipse cx="447.5" cy="134.5" rx="8.4" ry="4.0" transform="rotate(225 447.5 134.5)" fill="#2a1616"/><ellipse cx="456.0" cy="131.0" rx="8.4" ry="4.0" transform="rotate(270 456.0 131.0)" fill="#2a1616"/><ellipse cx="464.5" cy="134.5" rx="8.4" ry="4.0" transform="rotate(315 464.5 134.5)" fill="#2a1616"/><circle cx="456.0" cy="143.0" r="7.0" fill="#2a1616"/><circle cx="456.0" cy="143.0" r="4.4" fill="#f0802a"/><circle cx="371.6" cy="182.1" r="11.7" fill="#f2b64c"/><circle cx="383.9" cy="194.9" r="11.7" fill="#f2b64c"/><circle cx="375.6" cy="210.6" r="11.7" fill="#f2b64c"/><circle cx="358.2" cy="207.5" r="11.7" fill="#f2b64c"/><circle cx="355.7" cy="189.9" r="11.7" fill="#f2b64c"/><circle cx="369.0" cy="197.0" r="13.0" fill="#f2b64c"/><circle cx="369" cy="197" r="5.2" fill="#f8dca8"/><circle cx="565.0" cy="193.0" r="20.0" fill="#f5b2bd"/><circle cx="584.1" cy="204.0" r="20.0" fill="#f5b2bd"/><circle cx="584.1" cy="226.0" r="20.0" fill="#f5b2bd"/><circle cx="565.0" cy="237.0" r="20.0" fill="#f5b2bd"/><circle cx="545.9" cy="226.0" r="20.0" fill="#f5b2bd"/><circle cx="545.9" cy="204.0" r="20.0" fill="#f5b2bd"/><circle cx="565.0" cy="215.0" r="20.0" fill="#f5b2bd"/><circle cx="565" cy="215" r="5.6" fill="#b04a38"/><circle cx="393.0" cy="244.2" r="18.0" fill="#f7bcc6"/><circle cx="410.1" cy="254.1" r="18.0" fill="#f7bcc6"/><circle cx="410.1" cy="273.9" r="18.0" fill="#f7bcc6"/><circle cx="393.0" cy="283.8" r="18.0" fill="#f7bcc6"/><circle cx="375.9" cy="273.9" r="18.0" fill="#f7bcc6"/><circle cx="375.9" cy="254.1" r="18.0" fill="#f7bcc6"/><circle cx="393.0" cy="264.0" r="18.0" fill="#f7bcc6"/><circle cx="393" cy="264" r="5.0" fill="#b04a38"/><path d="M-20.0,0 Q0,-16.0 20.0,0 Q0,16.0 -20.0,0Z" transform="translate(446.0 234.0) rotate(-150)" fill="#a6d2d6"/><path d="M-21.0,0 Q0,-15.2 21.0,0 Q0,15.2 -21.0,0Z" transform="translate(452.0 210.0) rotate(-115)" fill="#a6d2d6"/><path d="M-20.0,0 Q0,-14.4 20.0,0 Q0,14.4 -20.0,0Z" transform="translate(472.0 204.0) rotate(-80)" fill="#a6d2d6"/><path d="M-20.0,0 Q0,-15.2 20.0,0 Q0,15.2 -20.0,0Z" transform="translate(492.0 214.0) rotate(-55)" fill="#a6d2d6"/><path d="M-18.0,0 Q0,-14.4 18.0,0 Q0,14.4 -18.0,0Z" transform="translate(497.0 238.0) rotate(-28)" fill="#a6d2d6"/><path d="M-14.0,0 Q0,-10.4 14.0,0 Q0,10.4 -14.0,0Z" transform="translate(462.0 248.0) rotate(-100)" fill="#a6d2d6"/><path d="M466,262 L468,200" stroke="#8fc0c6" stroke-width="1.5"/><circle cx="310.0" cy="216.4" r="16.5" fill="#ee6e5a"/><circle cx="324.8" cy="227.2" r="16.5" fill="#ee6e5a"/><circle cx="319.2" cy="244.6" r="16.5" fill="#ee6e5a"/><circle cx="300.8" cy="244.6" r="16.5" fill="#ee6e5a"/><circle cx="295.2" cy="227.2" r="16.5" fill="#ee6e5a"/><circle cx="310.0" cy="232.0" r="15.0" fill="#ee6e5a"/><path d="M-10.0,0 Q0,-11.2 10.0,0 Q0,11.2 -10.0,0Z" transform="translate(300.0 188.0) rotate(70)" fill="#2b2424"/><circle cx="531.0" cy="273.4" r="3.1" fill="#d8404a"/><circle cx="534.5" cy="279.3" r="3.1" fill="#d8404a"/><circle cx="533.0" cy="276.5" r="3.1" fill="#d8404a"/><circle cx="538.4" cy="279.2" r="3.1" fill="#d8404a"/><circle cx="532.6" cy="262.7" r="3.1" fill="#d8404a"/><circle cx="535.7" cy="283.3" r="3.1" fill="#d8404a"/><circle cx="528.9" cy="273.3" r="3.1" fill="#d8404a"/><circle cx="540.0" cy="265.9" r="3.1" fill="#d8404a"/><circle cx="321.8" cy="289.4" r="2.2" fill="#e07070"/><circle cx="316.1" cy="282.9" r="2.2" fill="#e07070"/><circle cx="328.3" cy="279.4" r="2.2" fill="#e07070"/><circle cx="322.3" cy="283.7" r="2.2" fill="#e07070"/><circle cx="316.6" cy="279.7" r="2.2" fill="#e07070"/><rect x="290" y="74" width="330" height="222" fill="url(#weave)"/><line x1="342" y1="84" x2="342" y2="274" stroke="#fdfcfc" stroke-width="3.4" opacity="0.95"/><line x1="342" y1="84" x2="342" y2="274" stroke="#5e5660" stroke-width="1.7" stroke-dasharray="2.2 5.5"/><line x1="556" y1="84" x2="556" y2="274" stroke="#fdfcfc" stroke-width="3.4" opacity="0.95"/><line x1="556" y1="84" x2="556" y2="274" stroke="#5e5660" stroke-width="1.7" stroke-dasharray="2.2 5.5"/><line x1="342" y1="274" x2="556" y2="274" stroke="#fdfcfc" stroke-width="3.4" opacity="0.95"/><line x1="342" y1="274" x2="556" y2="274" stroke="#5e5660" stroke-width="1.7" stroke-dasharray="2.2 5.5"/><line x1="342" y1="86" x2="556" y2="86" stroke="#fdfcfc" stroke-width="3.4" opacity="0.95"/><line x1="342" y1="86" x2="556" y2="86" stroke="#5e5660" stroke-width="1.7" stroke-dasharray="2.2 5.5"/><line x1="342" y1="86" x2="556" y2="274" stroke="#fdfcfc" stroke-width="3.4" opacity="0.95"/><line x1="342" y1="86" x2="556" y2="274" stroke="#5e5660" stroke-width="1.7" stroke-dasharray="2.2 5.5"/><line x1="556" y1="86" x2="342" y2="274" stroke="#fdfcfc" stroke-width="3.4" opacity="0.95"/><line x1="556" y1="86" x2="342" y2="274" stroke="#5e5660" stroke-width="1.7" stroke-dasharray="2.2 5.5"/></g><rect x="290" y="70" width="330" height="8" fill="#ffffff" opacity="0.6"/><rect x="290" y="286" width="330" height="10" fill="#e6e0e2" opacity="0.7"/></g>
<g clip-path="url(#c2)"><rect x="845" y="90" width="330" height="330" fill="#f6f6f8"/><rect x="845" y="320" width="330" height="100" fill="url(#sh2)"/><path d="M845,153 L1080,140 L1175,128 L1175,310 L1080,318 L845,326 Z" fill="#f2eff1"/><circle cx="858.0" cy="186.5" r="14.3" fill="#ee7060"/><circle cx="870.9" cy="195.8" r="14.3" fill="#ee7060"/><circle cx="865.9" cy="210.9" r="14.3" fill="#ee7060"/><circle cx="850.1" cy="210.9" r="14.3" fill="#ee7060"/><circle cx="845.1" cy="195.8" r="14.3" fill="#ee7060"/><circle cx="858.0" cy="200.0" r="13.0" fill="#ee7060"/><path d="M-15.0,0 Q0,-12.8 15.0,0 Q0,12.8 -15.0,0Z" transform="translate(878.0 235.0) rotate(20)" fill="#2b2424"/><g transform="translate(852.0 275.0) rotate(0)"><path d="M0,20.0 L0,-20.0" stroke="#a3cfd3" stroke-width="1.6"/><ellipse cx="7.2" cy="-14.0" rx="8.4" ry="3.2" transform="rotate(-35 7.2 -14.0)" fill="#a3cfd3"/><ellipse cx="-7.2" cy="-12.0" rx="8.4" ry="3.2" transform="rotate(35 -7.2 -12.0)" fill="#a3cfd3"/><ellipse cx="7.2" cy="-2.0" rx="8.4" ry="3.2" transform="rotate(-35 7.2 -2.0)" fill="#a3cfd3"/><ellipse cx="-7.2" cy="0.0" rx="8.4" ry="3.2" transform="rotate(35 -7.2 0.0)" fill="#a3cfd3"/><ellipse cx="7.2" cy="10.0" rx="8.4" ry="3.2" transform="rotate(-35 7.2 10.0)" fill="#a3cfd3"/><ellipse cx="-7.2" cy="12.0" rx="8.4" ry="3.2" transform="rotate(35 -7.2 12.0)" fill="#a3cfd3"/></g><circle cx="900.0" cy="257.9" r="11.0" fill="#f5b3bf"/><circle cx="910.5" cy="263.9" r="11.0" fill="#f5b3bf"/><circle cx="910.5" cy="276.1" r="11.0" fill="#f5b3bf"/><circle cx="900.0" cy="282.1" r="11.0" fill="#f5b3bf"/><circle cx="889.5" cy="276.1" r="11.0" fill="#f5b3bf"/><circle cx="889.5" cy="263.9" r="11.0" fill="#f5b3bf"/><circle cx="900.0" cy="270.0" r="11.0" fill="#f5b3bf"/><circle cx="900" cy="270" r="3.1" fill="#b04a38"/><circle cx="901.1" cy="178.0" r="2.2" fill="#d84a50"/><circle cx="900.0" cy="174.8" r="2.2" fill="#d84a50"/><circle cx="895.8" cy="173.5" r="2.2" fill="#d84a50"/><circle cx="903.3" cy="175.4" r="2.2" fill="#d84a50"/><circle cx="896.3" cy="171.4" r="2.2" fill="#d84a50"/><circle cx="909.1" cy="178.9" r="2.2" fill="#d84a50"/><circle cx="892.3" cy="308.6" r="2.2" fill="#e05060"/><circle cx="892.1" cy="319.6" r="2.2" fill="#e05060"/><circle cx="897.6" cy="319.9" r="2.2" fill="#e05060"/><circle cx="889.8" cy="319.3" r="2.2" fill="#e05060"/><circle cx="882.0" cy="322.3" r="2.2" fill="#e05060"/><circle cx="891.1" cy="315.7" r="2.2" fill="#e05060"/><circle cx="1152.6" cy="215.4" r="3.1" fill="#d84a50"/><circle cx="1136.1" cy="200.8" r="3.1" fill="#d84a50"/><circle cx="1145.7" cy="205.4" r="3.1" fill="#d84a50"/><circle cx="1142.7" cy="199.5" r="3.1" fill="#d84a50"/><circle cx="1156.8" cy="210.8" r="3.1" fill="#d84a50"/><circle cx="1137.5" cy="196.6" r="3.1" fill="#d84a50"/><circle cx="1155.4" cy="211.0" r="3.1" fill="#d84a50"/><circle cx="1156.0" cy="209.9" r="3.1" fill="#d84a50"/><circle cx="1157.6" cy="229.7" r="12.6" fill="#f2b64c"/><circle cx="1168.2" cy="245.6" r="12.6" fill="#f2b64c"/><circle cx="1156.5" cy="260.6" r="12.6" fill="#f2b64c"/><circle cx="1138.5" cy="254.1" r="12.6" fill="#f2b64c"/><circle cx="1139.2" cy="235.0" r="12.6" fill="#f2b64c"/><circle cx="1152.0" cy="245.0" r="14.0" fill="#f2b64c"/><circle cx="1152" cy="245" r="5.6" fill="#f8dca8"/><circle cx="1122.0" cy="271.5" r="14.3" fill="#ee7565"/><circle cx="1134.9" cy="280.8" r="14.3" fill="#ee7565"/><circle cx="1129.9" cy="295.9" r="14.3" fill="#ee7565"/><circle cx="1114.1" cy="295.9" r="14.3" fill="#ee7565"/><circle cx="1109.1" cy="280.8" r="14.3" fill="#ee7565"/><circle cx="1122.0" cy="285.0" r="13.0" fill="#ee7565"/><circle cx="1155.0" cy="287.9" r="11.0" fill="#f5b3bf"/><circle cx="1165.5" cy="293.9" r="11.0" fill="#f5b3bf"/><circle cx="1165.5" cy="306.1" r="11.0" fill="#f5b3bf"/><circle cx="1155.0" cy="312.1" r="11.0" fill="#f5b3bf"/><circle cx="1144.5" cy="306.1" r="11.0" fill="#f5b3bf"/><circle cx="1144.5" cy="293.9" r="11.0" fill="#f5b3bf"/><circle cx="1155.0" cy="300.0" r="11.0" fill="#f5b3bf"/><circle cx="1155" cy="300" r="3.1" fill="#b04a38"/><path d="M1068,140 Q1080,128 1098,132 L1102,140 Q1085,138 1072,146 Z" fill="#f2b450"/><circle cx="1108.1" cy="150.6" r="1.3" fill="#e07040"/><circle cx="1104.7" cy="148.2" r="1.3" fill="#e07040"/><circle cx="1109.9" cy="150.8" r="1.3" fill="#e07040"/><circle cx="1108.6" cy="149.8" r="1.3" fill="#e07040"/><path d="M845,318 L1175,300 L1175,310 L845,328 Z" fill="#e2d8da" opacity="0.8"/><path d="M845,153 L1080,140 L1175,128 L1175,310 L1080,318 L845,326 Z" fill="url(#weave)"/><rect x="912.5" y="140" width="200" height="232" rx="15" fill="url(#frameg)"/><rect x="914" y="141" width="197" height="8" rx="4" fill="#fbd8c8"/><path d="M922,149.5 L1104,149.5" stroke="#d9947e" stroke-width="1.2"/><rect x="937" y="167" width="151" height="186" rx="9" fill="#efe9ec"/><g clip-path="url(#c2in)"><rect x="937" y="167" width="151" height="186" fill="#f3f0f2"/><ellipse cx="1010" cy="170" rx="60" ry="10" fill="#f0a890"/><circle cx="1035.0" cy="175.2" r="18.0" fill="#f5b3bf"/><circle cx="1052.1" cy="185.1" r="18.0" fill="#f5b3bf"/><circle cx="1052.1" cy="204.9" r="18.0" fill="#f5b3bf"/><circle cx="1035.0" cy="214.8" r="18.0" fill="#f5b3bf"/><circle cx="1017.9" cy="204.9" r="18.0" fill="#f5b3bf"/><circle cx="1017.9" cy="185.1" r="18.0" fill="#f5b3bf"/><circle cx="1035.0" cy="195.0" r="18.0" fill="#f5b3bf"/><circle cx="1035" cy="195" r="5.0" fill="#b04a38"/><g transform="translate(965.0 225.0) rotate(-35)" fill="#e8a0a0"><path d="M0,25.0 L0,-25.0" stroke="#e8a0a0" stroke-width="2.0"/><ellipse cx="6.0" cy="-20.0" rx="6.2" ry="2.0" transform="rotate(-40 6.0 -20.0)" fill="#e8a0a0"/><ellipse cx="-6.0" cy="-20.0" rx="6.2" ry="2.0" transform="rotate(40 -6.0 -20.0)" fill="#e8a0a0"/><ellipse cx="6.0" cy="-10.0" rx="6.2" ry="2.0" transform="rotate(-40 6.0 -10.0)" fill="#e8a0a0"/><ellipse cx="-6.0" cy="-10.0" rx="6.2" ry="2.0" transform="rotate(40 -6.0 -10.0)" fill="#e8a0a0"/><ellipse cx="6.0" cy="0.0" rx="6.2" ry="2.0" transform="rotate(-40 6.0 0.0)" fill="#e8a0a0"/><ellipse cx="-6.0" cy="0.0" rx="6.2" ry="2.0" transform="rotate(40 -6.0 0.0)" fill="#e8a0a0"/><ellipse cx="6.0" cy="10.0" rx="6.2" ry="2.0" transform="rotate(-40 6.0 10.0)" fill="#e8a0a0"/><ellipse cx="-6.0" cy="10.0" rx="6.2" ry="2.0" transform="rotate(40 -6.0 10.0)" fill="#e8a0a0"/></g><path d="M-21.0,0 Q0,-16.0 21.0,0 Q0,16.0 -21.0,0Z" transform="translate(1040.0 250.0) rotate(-170)" fill="#a3cfd4"/><path d="M-22.0,0 Q0,-15.2 22.0,0 Q0,15.2 -22.0,0Z" transform="translate(1066.0 228.0) rotate(-70)" fill="#a3cfd4"/><path d="M-20.0,0 Q0,-13.6 20.0,0 Q0,13.6 -20.0,0Z" transform="translate(1068.0 272.0) rotate(70)" fill="#a3cfd4"/><path d="M-15.0,0 Q0,-11.2 15.0,0 Q0,11.2 -15.0,0Z" transform="translate(1052.0 232.0) rotate(-120)" fill="#a3cfd4"/><circle cx="1080.0" cy="287.3" r="18.7" fill="#ee7565"/><circle cx="1096.8" cy="299.5" r="18.7" fill="#ee7565"/><circle cx="1090.4" cy="319.3" r="18.7" fill="#ee7565"/><circle cx="1069.6" cy="319.3" r="18.7" fill="#ee7565"/><circle cx="1063.2" cy="299.5" r="18.7" fill="#ee7565"/><circle cx="1080.0" cy="305.0" r="17.0" fill="#ee7565"/><path d="M30.4,0.0 L30.3,2.4 L29.9,4.9 L29.4,7.2 L28.6,9.6 L27.6,11.8 L26.3,14.0 L24.9,16.0 L23.3,18.0 L21.5,19.8 L19.5,21.4 L17.4,22.9 L15.2,24.2 L12.8,25.3 L10.4,26.3 L7.9,27.0 L5.3,27.5 L2.6,27.9 L0.0,28.0 L-2.6,27.9 L-5.3,27.5 L-7.9,27.0 L-10.4,26.3 L-12.8,25.3 L-15.2,24.2 L-17.4,22.9 L-19.5,21.4 L-21.5,19.8 L-23.3,18.0 L-24.9,16.0 L-26.3,14.0 L-27.8,11.9 L-30.3,10.1 L-32.1,7.9 L-32.6,5.3 L-31.9,2.6 L-30.4,0.0 L-31.9,-2.6 L-32.6,-5.3 L-32.1,-7.9 L-30.3,-10.1 L-27.8,-11.9 L-27.6,-14.6 L-27.0,-17.4 L-25.5,-19.7 L-22.9,-21.1 L-19.9,-21.8 L-18.1,-23.8 L-16.4,-26.2 L-14.1,-27.7 L-11.2,-28.2 L-8.1,-27.7 L-5.4,-28.4 L-2.9,-30.0 L-0.0,-30.6 L2.9,-30.0 L5.4,-28.4 L8.1,-27.7 L11.2,-28.2 L14.1,-27.7 L16.4,-26.2 L18.1,-23.8 L19.9,-21.8 L22.9,-21.1 L25.5,-19.7 L27.0,-17.4 L27.6,-14.6 L27.8,-11.9 L30.3,-10.1 L29.4,-7.2 L29.9,-4.9 L30.3,-2.4Z" transform="translate(979.0 280.0) rotate(-10)" fill="#f07428"/><path d="M-22.0,0 Q0,-14.4 22.0,0 Q0,14.4 -22.0,0Z" transform="translate(1015.0 293.0) rotate(-20)" fill="#2b2424"/><path d="M-18.0,0 Q0,-12.0 18.0,0 Q0,12.0 -18.0,0Z" transform="translate(1010.0 320.0) rotate(-5)" fill="#2b2424"/><circle cx="991.5" cy="341.2" r="2.6" fill="#d84a55"/><circle cx="992.3" cy="340.8" r="2.6" fill="#d84a55"/><circle cx="988.6" cy="343.4" r="2.6" fill="#d84a55"/><circle cx="990.2" cy="336.5" r="2.6" fill="#d84a55"/><circle cx="987.9" cy="340.0" r="2.6" fill="#d84a55"/><circle cx="989.9" cy="340.2" r="2.6" fill="#d84a55"/><circle cx="990.0" cy="340.2" r="2.6" fill="#d84a55"/><rect x="937" y="167" width="151" height="186" fill="url(#rollsh)"/><rect x="937" y="167" width="151" height="186" fill="url(#weave)"/></g><rect x="937" y="167" width="151" height="186" rx="9" fill="none" stroke="#e3a48e" stroke-width="2"/><path d="M944,350 Q948,362 975,365 L1050,366 Q1078,364 1082,350 Z" fill="#f3f0f2"/><clipPath id="c2fab"><rect x="937" y="167" width="151" height="186" rx="9"/><path d="M944,350 Q948,362 975,365 L1050,366 Q1078,364 1082,350 Z"/></clipPath><g clip-path="url(#c2fab)"><circle cx="1039.6" cy="336.6" r="10.8" fill="#f2b64c"/><circle cx="1049.9" cy="349.3" r="10.8" fill="#f2b64c"/><circle cx="1041.0" cy="363.0" r="10.8" fill="#f2b64c"/><circle cx="1025.2" cy="358.8" r="10.8" fill="#f2b64c"/><circle cx="1024.3" cy="342.4" r="10.8" fill="#f2b64c"/><circle cx="1036.0" cy="350.0" r="12.0" fill="#f2b64c"/><circle cx="1036" cy="350" r="4.8" fill="#f8dca8"/><circle cx="987.5" cy="345.6" r="1.8" fill="#d84a55"/><circle cx="989.4" cy="353.5" r="1.8" fill="#d84a55"/><circle cx="988.8" cy="349.7" r="1.8" fill="#d84a55"/><circle cx="989.4" cy="346.9" r="1.8" fill="#d84a55"/><circle cx="981.3" cy="350.2" r="1.8" fill="#d84a55"/></g><rect x="912.5" y="140" width="200" height="232" rx="15" fill="none" stroke="#eaa78e" stroke-width="1.5"/></g>
<g clip-path="url(#c3)"><rect x="70" y="790" width="330" height="330" fill="#f3f1f2"/><path d="M70,820 Q140,800 200,830 L225,935 L70,975 Z" fill="#f1ecee"/><g filter="url(#blur3)"><ellipse cx="135" cy="868" rx="42" ry="14" fill="#a2ccd2" opacity="0.75" transform="rotate(-15 135 868)"/><ellipse cx="210" cy="895" rx="32" ry="16" fill="#f4aab8" opacity="0.85" transform="rotate(20 210 895)"/><ellipse cx="88" cy="915" rx="22" ry="18" fill="#ee7a68" opacity="0.8"/><ellipse cx="185" cy="930" rx="14" ry="10" fill="#f2b24c" opacity="0.9"/><ellipse cx="100" cy="958" rx="18" ry="8" fill="#e04848" opacity="0.7"/></g><path d="M70,975 Q130,950 190,935 Q250,915 320,930 Q370,945 400,968 L400,1120 L70,1120 Z" fill="#f3f1f2"/><g transform="translate(258 945) scale(1 0.55) translate(-258 -945)"><circle cx="264.0" cy="910.8" r="28.0" fill="#ee6e5c"/><circle cx="292.4" cy="940.2" r="28.0" fill="#ee6e5c"/><circle cx="273.2" cy="976.2" r="28.0" fill="#ee6e5c"/><circle cx="233.0" cy="969.1" r="28.0" fill="#ee6e5c"/><circle cx="227.3" cy="928.7" r="28.0" fill="#ee6e5c"/><circle cx="258.0" cy="945.0" r="28.0" fill="#ee6e5c"/><ellipse cx="268.8" cy="940.0" rx="7.6" ry="3.6" transform="rotate(0 268.8 940.0)" fill="#2a1616"/><ellipse cx="265.6" cy="947.6" rx="7.6" ry="3.6" transform="rotate(45 265.6 947.6)" fill="#2a1616"/><ellipse cx="258.0" cy="950.8" rx="7.6" ry="3.6" transform="rotate(90 258.0 950.8)" fill="#2a1616"/><ellipse cx="250.4" cy="947.6" rx="7.6" ry="3.6" transform="rotate(135 250.4 947.6)" fill="#2a1616"/><ellipse cx="247.2" cy="940.0" rx="7.6" ry="3.6" transform="rotate(180 247.2 940.0)" fill="#2a1616"/><ellipse cx="250.4" cy="932.4" rx="7.6" ry="3.6" transform="rotate(225 250.4 932.4)" fill="#2a1616"/><ellipse cx="258.0" cy="929.2" rx="7.6" ry="3.6" transform="rotate(270 258.0 929.2)" fill="#2a1616"/><ellipse cx="265.6" cy="932.4" rx="7.6" ry="3.6" transform="rotate(315 265.6 932.4)" fill="#2a1616"/><circle cx="258.0" cy="940.0" r="6.3" fill="#2a1616"/><circle cx="258.0" cy="940.0" r="4.0" fill="#f0802a"/></g><g transform="translate(220.0 985.0) rotate(-55)"><path d="M0,37.0 L0,-37.0" stroke="#9fcbd0" stroke-width="3.0"/><ellipse cx="13.3" cy="-25.9" rx="15.5" ry="5.9" transform="rotate(-35 13.3 -25.9)" fill="#9fcbd0"/><ellipse cx="-13.3" cy="-22.2" rx="15.5" ry="5.9" transform="rotate(35 -13.3 -22.2)" fill="#9fcbd0"/><ellipse cx="13.3" cy="-3.7" rx="15.5" ry="5.9" transform="rotate(-35 13.3 -3.7)" fill="#9fcbd0"/><ellipse cx="-13.3" cy="0.0" rx="15.5" ry="5.9" transform="rotate(35 -13.3 0.0)" fill="#9fcbd0"/><ellipse cx="13.3" cy="18.5" rx="15.5" ry="5.9" transform="rotate(-35 13.3 18.5)" fill="#9fcbd0"/><ellipse cx="-13.3" cy="22.2" rx="15.5" ry="5.9" transform="rotate(35 -13.3 22.2)" fill="#9fcbd0"/></g><path d="M-14.0,0 Q0,-7.2 14.0,0 Q0,7.2 -14.0,0Z" transform="translate(195.0 953.0) rotate(-5)" fill="#2b2424"/><path d="M-18.0,0 Q0,-13.6 18.0,0 Q0,13.6 -18.0,0Z" transform="translate(285.0 1023.0) rotate(25)" fill="#2b2424"/><path d="M-15.0,0 Q0,-12.0 15.0,0 Q0,12.0 -15.0,0Z" transform="translate(313.0 1015.0) rotate(55)" fill="#2b2424"/><path d="M262,1052 Q320,1026 382,1030 Q340,1048 262,1058 Z" fill="#ee7434"/><g transform="translate(325.0 1085.0) rotate(35)" fill="#e08a6a"><path d="M0,22.0 L0,-22.0" stroke="#e08a6a" stroke-width="1.8"/><ellipse cx="5.3" cy="-17.6" rx="5.5" ry="1.8" transform="rotate(-40 5.3 -17.6)" fill="#e08a6a"/><ellipse cx="-5.3" cy="-17.6" rx="5.5" ry="1.8" transform="rotate(40 -5.3 -17.6)" fill="#e08a6a"/><ellipse cx="5.3" cy="-8.8" rx="5.5" ry="1.8" transform="rotate(-40 5.3 -8.8)" fill="#e08a6a"/><ellipse cx="-5.3" cy="-8.8" rx="5.5" ry="1.8" transform="rotate(40 -5.3 -8.8)" fill="#e08a6a"/><ellipse cx="5.3" cy="0.0" rx="5.5" ry="1.8" transform="rotate(-40 5.3 0.0)" fill="#e08a6a"/><ellipse cx="-5.3" cy="0.0" rx="5.5" ry="1.8" transform="rotate(40 -5.3 0.0)" fill="#e08a6a"/><ellipse cx="5.3" cy="8.8" rx="5.5" ry="1.8" transform="rotate(-40 5.3 8.8)" fill="#e08a6a"/><ellipse cx="-5.3" cy="8.8" rx="5.5" ry="1.8" transform="rotate(40 -5.3 8.8)" fill="#e08a6a"/></g><g transform="rotate(-25 354 985)"><circle cx="361.8" cy="971.4" r="12.2" fill="#f2b64c"/><circle cx="369.3" cy="988.3" r="12.2" fill="#f2b64c"/><circle cx="355.6" cy="1000.6" r="12.2" fill="#f2b64c"/><circle cx="339.7" cy="991.4" r="12.2" fill="#f2b64c"/><circle cx="343.5" cy="973.4" r="12.2" fill="#f2b64c"/><circle cx="354.0" cy="985.0" r="13.5" fill="#f2b64c"/><circle cx="354" cy="985" r="5.4" fill="#f8dca8"/></g><g transform="rotate(-20 168 1035)"><circle cx="168.0" cy="1016.3" r="17.0" fill="#f3aebb"/><circle cx="184.2" cy="1025.7" r="17.0" fill="#f3aebb"/><circle cx="184.2" cy="1044.3" r="17.0" fill="#f3aebb"/><circle cx="168.0" cy="1053.7" r="17.0" fill="#f3aebb"/><circle cx="151.8" cy="1044.3" r="17.0" fill="#f3aebb"/><circle cx="151.8" cy="1025.7" r="17.0" fill="#f3aebb"/><circle cx="168.0" cy="1035.0" r="17.0" fill="#f3aebb"/><circle cx="168" cy="1035" r="4.8" fill="#b04a38"/></g><ellipse cx="160" cy="1025" rx="7" ry="6" fill="#d86a4a"/><g filter="url(#blur1)"><circle cx="105.0" cy="1065.6" r="9.9" fill="#ef8a70"/><circle cx="113.9" cy="1072.1" r="9.9" fill="#ef8a70"/><circle cx="110.5" cy="1082.6" r="9.9" fill="#ef8a70"/><circle cx="99.5" cy="1082.6" r="9.9" fill="#ef8a70"/><circle cx="96.1" cy="1072.1" r="9.9" fill="#ef8a70"/><circle cx="105.0" cy="1075.0" r="9.0" fill="#ef8a70"/><circle cx="215.0" cy="1086.7" r="8.8" fill="#f08a78"/><circle cx="222.9" cy="1092.4" r="8.8" fill="#f08a78"/><circle cx="219.9" cy="1101.7" r="8.8" fill="#f08a78"/><circle cx="210.1" cy="1101.7" r="8.8" fill="#f08a78"/><circle cx="207.1" cy="1092.4" r="8.8" fill="#f08a78"/><circle cx="215.0" cy="1095.0" r="8.0" fill="#f08a78"/><circle cx="275.0" cy="1073.2" r="7.2" fill="#f4a0a8"/><circle cx="281.4" cy="1077.9" r="7.2" fill="#f4a0a8"/><circle cx="279.0" cy="1085.5" r="7.2" fill="#f4a0a8"/><circle cx="271.0" cy="1085.5" r="7.2" fill="#f4a0a8"/><circle cx="268.6" cy="1077.9" r="7.2" fill="#f4a0a8"/><circle cx="275.0" cy="1080.0" r="6.5" fill="#f4a0a8"/><circle cx="140.0" cy="1088.0" r="5.4" fill="#f2b64c"/><circle cx="146.6" cy="1092.8" r="5.4" fill="#f2b64c"/><circle cx="144.1" cy="1100.6" r="5.4" fill="#f2b64c"/><circle cx="135.9" cy="1100.6" r="5.4" fill="#f2b64c"/><circle cx="133.4" cy="1092.8" r="5.4" fill="#f2b64c"/><circle cx="140.0" cy="1095.0" r="6.0" fill="#f2b64c"/><circle cx="140" cy="1095" r="2.4" fill="#f8dca8"/><circle cx="320.0" cy="1092.7" r="7.7" fill="#f07a3a"/><circle cx="326.9" cy="1097.8" r="7.7" fill="#f07a3a"/><circle cx="324.3" cy="1105.9" r="7.7" fill="#f07a3a"/><circle cx="315.7" cy="1105.9" r="7.7" fill="#f07a3a"/><circle cx="313.1" cy="1097.8" r="7.7" fill="#f07a3a"/><circle cx="320.0" cy="1100.0" r="7.0" fill="#f07a3a"/><g transform="translate(250.0 1070.0) rotate(-60)" fill="#e39070"><path d="M0,15.0 L0,-15.0" stroke="#e39070" stroke-width="1.2"/><ellipse cx="3.6" cy="-12.0" rx="3.8" ry="1.2" transform="rotate(-40 3.6 -12.0)" fill="#e39070"/><ellipse cx="-3.6" cy="-12.0" rx="3.8" ry="1.2" transform="rotate(40 -3.6 -12.0)" fill="#e39070"/><ellipse cx="3.6" cy="-6.0" rx="3.8" ry="1.2" transform="rotate(-40 3.6 -6.0)" fill="#e39070"/><ellipse cx="-3.6" cy="-6.0" rx="3.8" ry="1.2" transform="rotate(40 -3.6 -6.0)" fill="#e39070"/><ellipse cx="3.6" cy="0.0" rx="3.8" ry="1.2" transform="rotate(-40 3.6 0.0)" fill="#e39070"/><ellipse cx="-3.6" cy="0.0" rx="3.8" ry="1.2" transform="rotate(40 -3.6 0.0)" fill="#e39070"/><ellipse cx="3.6" cy="6.0" rx="3.8" ry="1.2" transform="rotate(-40 3.6 6.0)" fill="#e39070"/><ellipse cx="-3.6" cy="6.0" rx="3.8" ry="1.2" transform="rotate(40 -3.6 6.0)" fill="#e39070"/></g><g transform="translate(130.0 1050.0) rotate(40)" fill="#e07a6a"><path d="M0,13.0 L0,-13.0" stroke="#e07a6a" stroke-width="1.0"/><ellipse cx="3.1" cy="-10.4" rx="3.2" ry="1.0" transform="rotate(-40 3.1 -10.4)" fill="#e07a6a"/><ellipse cx="-3.1" cy="-10.4" rx="3.2" ry="1.0" transform="rotate(40 -3.1 -10.4)" fill="#e07a6a"/><ellipse cx="3.1" cy="-5.2" rx="3.2" ry="1.0" transform="rotate(-40 3.1 -5.2)" fill="#e07a6a"/><ellipse cx="-3.1" cy="-5.2" rx="3.2" ry="1.0" transform="rotate(40 -3.1 -5.2)" fill="#e07a6a"/><ellipse cx="3.1" cy="0.0" rx="3.2" ry="1.0" transform="rotate(-40 3.1 0.0)" fill="#e07a6a"/><ellipse cx="-3.1" cy="0.0" rx="3.2" ry="1.0" transform="rotate(40 -3.1 0.0)" fill="#e07a6a"/><ellipse cx="3.1" cy="5.2" rx="3.2" ry="1.0" transform="rotate(-40 3.1 5.2)" fill="#e07a6a"/><ellipse cx="-3.1" cy="5.2" rx="3.2" ry="1.0" transform="rotate(40 -3.1 5.2)" fill="#e07a6a"/></g><circle cx="92.0" cy="924.6" r="11.0" fill="#ee7262"/><circle cx="101.9" cy="931.8" r="11.0" fill="#ee7262"/><circle cx="98.1" cy="943.4" r="11.0" fill="#ee7262"/><circle cx="85.9" cy="943.4" r="11.0" fill="#ee7262"/><circle cx="82.1" cy="931.8" r="11.0" fill="#ee7262"/><circle cx="92.0" cy="935.0" r="10.0" fill="#ee7262"/><circle cx="110.0" cy="982.7" r="7.7" fill="#e85a5a"/><circle cx="116.9" cy="987.8" r="7.7" fill="#e85a5a"/><circle cx="114.3" cy="995.9" r="7.7" fill="#e85a5a"/><circle cx="105.7" cy="995.9" r="7.7" fill="#e85a5a"/><circle cx="103.1" cy="987.8" r="7.7" fill="#e85a5a"/><circle cx="110.0" cy="990.0" r="7.0" fill="#e85a5a"/><circle cx="96.0" cy="1028.2" r="2.2" fill="#d84050"/><circle cx="96.2" cy="1015.9" r="2.2" fill="#d84050"/><circle cx="95.4" cy="1032.0" r="2.2" fill="#d84050"/><circle cx="98.3" cy="1018.9" r="2.2" fill="#d84050"/><circle cx="97.1" cy="1027.0" r="2.2" fill="#d84050"/><circle cx="101.2" cy="1025.4" r="2.2" fill="#d84050"/><circle cx="208.0" cy="1113.8" r="2.6" fill="#e07060"/><circle cx="199.9" cy="1112.0" r="2.6" fill="#e07060"/><circle cx="208.7" cy="1115.1" r="2.6" fill="#e07060"/><circle cx="205.5" cy="1104.1" r="2.6" fill="#e07060"/><circle cx="199.4" cy="1112.8" r="2.6" fill="#e07060"/><circle cx="198.5" cy="1115.3" r="2.6" fill="#e07060"/></g><circle cx="248.4" cy="1105.2" r="3.1" fill="#e07060"/><circle cx="243.9" cy="1113.4" r="3.1" fill="#e07060"/><circle cx="252.5" cy="1098.7" r="3.1" fill="#e07060"/><circle cx="245.5" cy="1113.5" r="3.1" fill="#e07060"/><circle cx="243.2" cy="1104.6" r="3.1" fill="#e07060"/><circle cx="250.3" cy="1100.0" r="3.1" fill="#e07060"/><circle cx="94.0" cy="991.0" r="2.6" fill="#e04050"/><circle cx="101.8" cy="995.8" r="2.6" fill="#e04050"/><circle cx="103.2" cy="990.1" r="2.6" fill="#e04050"/><circle cx="104.1" cy="992.6" r="2.6" fill="#e04050"/><circle cx="100.3" cy="990.1" r="2.6" fill="#e04050"/><circle cx="99.1" cy="992.6" r="2.6" fill="#e04050"/><path d="M150,1050 Q175,1065 200,1060" stroke="#e8a090" stroke-width="6" fill="none"/><path d="M70,975 Q130,950 190,935 Q250,915 320,930 Q370,945 400,968 L400,1120 L70,1120 Z" fill="url(#weave)"/><clipPath id="ringclip"><path d="M112.0,1072.0 C110.5,1061.7 103.7,1028.7 103.0,1010.0 C102.3,991.3 104.8,975.8 108.0,960.0 C111.2,944.2 115.8,928.3 122.0,915.0 C128.2,901.7 136.2,890.7 145.0,880.0 C153.8,869.3 163.3,859.3 175.0,851.0 C186.7,842.7 200.0,835.0 215.0,830.0 C230.0,825.0 250.0,821.0 265.0,821.0 C280.0,821.0 293.0,824.3 305.0,830.0 C317.0,835.7 328.5,845.3 337.0,855.0 C345.5,864.7 351.7,876.3 356.0,888.0 C360.3,899.7 361.7,911.7 363.0,925.0 C364.3,938.3 363.8,960.8 364.0,968.0 L342.0,968.0 C340.7,960.8 337.0,936.8 334.0,925.0 C331.0,913.2 327.7,905.2 324.0,897.0 C320.3,888.8 316.8,882.0 312.0,876.0 C307.2,870.0 301.7,865.0 295.0,861.0 C288.3,857.0 281.2,853.3 272.0,852.0 C262.8,850.7 250.7,850.7 240.0,853.0 C229.3,855.3 217.7,860.5 208.0,866.0 C198.3,871.5 190.0,877.0 182.0,886.0 C174.0,895.0 166.0,907.3 160.0,920.0 C154.0,932.7 149.0,947.8 146.0,962.0 C143.0,976.2 141.0,988.0 142.0,1005.0 C143.0,1022.0 150.3,1054.2 152.0,1064.0Z"/></clipPath><path d="M112.0,1072.0 C110.5,1061.7 103.7,1028.7 103.0,1010.0 C102.3,991.3 104.8,975.8 108.0,960.0 C111.2,944.2 115.8,928.3 122.0,915.0 C128.2,901.7 136.2,890.7 145.0,880.0 C153.8,869.3 163.3,859.3 175.0,851.0 C186.7,842.7 200.0,835.0 215.0,830.0 C230.0,825.0 250.0,821.0 265.0,821.0 C280.0,821.0 293.0,824.3 305.0,830.0 C317.0,835.7 328.5,845.3 337.0,855.0 C345.5,864.7 351.7,876.3 356.0,888.0 C360.3,899.7 361.7,911.7 363.0,925.0 C364.3,938.3 363.8,960.8 364.0,968.0 L342.0,968.0 C340.7,960.8 337.0,936.8 334.0,925.0 C331.0,913.2 327.7,905.2 324.0,897.0 C320.3,888.8 316.8,882.0 312.0,876.0 C307.2,870.0 301.7,865.0 295.0,861.0 C288.3,857.0 281.2,853.3 272.0,852.0 C262.8,850.7 250.7,850.7 240.0,853.0 C229.3,855.3 217.7,860.5 208.0,866.0 C198.3,871.5 190.0,877.0 182.0,886.0 C174.0,895.0 166.0,907.3 160.0,920.0 C154.0,932.7 149.0,947.8 146.0,962.0 C143.0,976.2 141.0,988.0 142.0,1005.0 C143.0,1022.0 150.3,1054.2 152.0,1064.0Z" fill="#e69378"/><g clip-path="url(#ringclip)"><g filter="url(#blurR)"><path d="M120.8,1070.2 C119.3,1060.0 112.3,1027.2 111.6,1008.9 C110.8,990.6 113.2,975.9 116.4,960.4 C119.5,945.0 124.2,929.3 130.4,916.1 C136.5,902.9 144.5,891.6 153.1,881.3 C161.8,871.0 171.0,862.0 182.3,854.3 C193.5,846.6 206.5,839.5 220.5,835.1 C234.5,830.6 252.8,827.5 266.5,827.8 C280.3,828.1 292.0,831.5 302.8,836.8 C313.6,842.1 323.8,850.8 331.5,859.6 C339.2,868.5 344.8,879.1 349.0,890.0 C353.1,900.9 354.9,912.0 356.6,925.0 C358.3,938.0 358.7,960.8 359.2,968.0" fill="none" stroke="#f3b198" stroke-width="8"/><path d="M142.0,1066.0 C140.4,1056.0 133.2,1023.7 132.2,1006.2 C131.3,988.8 133.5,976.1 136.5,961.5 C139.5,946.9 144.5,931.6 150.5,918.8 C156.5,905.9 164.5,893.9 172.8,884.5 C181.0,875.1 189.6,868.5 199.8,862.2 C209.9,856.0 222.0,850.2 233.8,847.2 C245.5,844.2 259.6,843.2 270.2,844.2 C280.9,845.2 289.5,848.8 297.5,853.2 C305.5,857.7 312.5,863.8 318.2,870.8 C324.0,877.7 328.2,885.7 332.0,894.8 C335.8,903.8 338.7,912.8 341.2,925.0 C343.8,937.2 346.5,960.8 347.5,968.0" fill="none" stroke="#f0b096" stroke-width="7"/><path d="M119.4,1007.9 C120.1,1000.1 120.9,976.0 124.0,960.8 C127.1,945.7 131.9,930.2 138.0,917.1 C144.1,904.0 152.1,892.5 160.5,882.5 C169.0,872.6 178.0,864.4 188.9,857.3 C199.7,850.2 219.4,842.6 225.5,839.7" fill="none" stroke="#5c2a22" stroke-width="9" opacity="0.9"/><path d="M184.9,855.5 C191.2,852.4 208.8,841.1 222.5,836.9 C236.2,832.7 259.7,831.4 267.1,830.3" fill="none" stroke="#6a3026" stroke-width="6" opacity="0.7"/><path d="M114.4,1071.5 C112.9,1061.2 106.0,1028.3 105.3,1009.7 C104.7,991.1 107.1,975.9 110.3,960.1 C113.4,944.4 118.1,928.6 124.3,915.3 C130.4,902.0 138.4,890.9 147.2,880.4 C156.0,869.8 165.4,860.1 177.0,851.9 C188.5,843.7 201.8,836.2 216.5,831.4 C231.2,826.5 250.8,822.8 265.4,822.9 C280.1,822.9 292.7,826.3 304.4,831.9 C316.1,837.4 330.3,852.2 335.5,856.3" fill="none" stroke="#f8cfbf" stroke-width="2.5"/><path d="M266.8,828.8 C272.7,830.2 291.8,832.5 302.5,837.8 C313.2,843.0 323.2,851.5 330.8,860.2 C338.3,869.0 343.8,879.5 348.0,890.2 C352.2,901.0 354.0,912.0 355.8,925.0 C357.5,938.0 358.0,960.8 358.5,968.0" fill="none" stroke="#f7c4ae" stroke-width="11"/><path d="M270.0,843.3 C274.7,844.8 289.6,847.9 297.8,852.3 C306.0,856.8 313.1,863.1 319.0,870.1 C324.9,877.1 329.1,885.3 333.0,894.5 C336.8,903.6 339.6,912.7 342.1,925.0 C344.7,937.3 347.2,960.8 348.2,968.0" fill="none" stroke="#e2735a" stroke-width="9"/><path d="M268.9,838.0 C274.0,839.5 290.4,842.3 299.5,847.0 C308.6,851.8 316.8,858.9 323.2,866.5 C329.7,874.2 334.4,883.2 338.4,893.0 C342.4,902.7 344.8,912.5 347.1,925.0 C349.3,937.5 351.1,960.8 351.9,968.0" fill="none" stroke="#f0a286" stroke-width="3"/></g></g><path d="M127.2,1006.9 C127.9,999.3 128.5,976.0 131.6,961.2 C134.6,946.4 139.5,931.0 145.6,918.1 C151.6,905.2 159.6,893.4 167.9,883.7 C176.3,874.1 185.0,866.9 195.5,860.3 C205.9,853.7 224.7,846.9 230.5,844.3" fill="none" stroke="#fff4ee" stroke-width="2.5" opacity="0.95"/><path d="M268.5,836.5 C273.8,838.0 290.7,840.7 300.0,845.5 C309.3,850.3 320.4,862.2 324.5,865.5" fill="none" stroke="#fde0d4" stroke-width="2" opacity="0.9"/><path d="M112.0,1072.0 C110.5,1061.7 103.7,1028.7 103.0,1010.0 C102.3,991.3 104.8,975.8 108.0,960.0 C111.2,944.2 115.8,928.3 122.0,915.0 C128.2,901.7 136.2,890.7 145.0,880.0 C153.8,869.3 163.3,859.3 175.0,851.0 C186.7,842.7 200.0,835.0 215.0,830.0 C230.0,825.0 250.0,821.0 265.0,821.0 C280.0,821.0 293.0,824.3 305.0,830.0 C317.0,835.7 328.5,845.3 337.0,855.0 C345.5,864.7 351.7,876.3 356.0,888.0 C360.3,899.7 361.7,911.7 363.0,925.0 C364.3,938.3 363.8,960.8 364.0,968.0 L342.0,968.0 C340.7,960.8 337.0,936.8 334.0,925.0 C331.0,913.2 327.7,905.2 324.0,897.0 C320.3,888.8 316.8,882.0 312.0,876.0 C307.2,870.0 301.7,865.0 295.0,861.0 C288.3,857.0 281.2,853.3 272.0,852.0 C262.8,850.7 250.7,850.7 240.0,853.0 C229.3,855.3 217.7,860.5 208.0,866.0 C198.3,871.5 190.0,877.0 182.0,886.0 C174.0,895.0 166.0,907.3 160.0,920.0 C154.0,932.7 149.0,947.8 146.0,962.0 C143.0,976.2 141.0,988.0 142.0,1005.0 C143.0,1022.0 150.3,1054.2 152.0,1064.0Z" fill="none" stroke="#b86a56" stroke-width="1" opacity="0.6"/></g>
<g clip-path="url(#c4)"><rect x="745" y="790" width="330" height="330" fill="url(#gr4)"/><rect x="745" y="1040" width="330" height="80" fill="#fcf4f1"/><path d="M745,790 L1010,790 Q990,805 965,815 Q880,848 778,884 L745,892 Z" fill="#f4eff1"/><path d="M778,888 Q880,852 965,819 Q990,809 1010,794" stroke="#d8c6c8" stroke-width="8" fill="none" filter="url(#blur3)"/><path d="M745,790 L1010,790 Q990,805 965,815 Q880,848 778,884 L745,892 Z" fill="#f4eff1"/><g filter="url(#blur1)"><ellipse cx="805" cy="853" rx="8" ry="22" fill="#f07a2a" transform="rotate(12 805 853)"/><ellipse cx="853" cy="837" rx="15" ry="16" fill="#ee6450"/><ellipse cx="846" cy="858" rx="18" ry="14" fill="#ec5e4a"/><ellipse cx="862" cy="852" rx="10" ry="9" fill="#ef6c58"/><ellipse cx="843" cy="852" rx="3" ry="7" fill="#3a2020" transform="rotate(25 843 852)"/><path d="M-8.0,0 Q0,-4.8 8.0,0 Q0,4.8 -8.0,0Z" transform="translate(856.0 815.0) rotate(-80)" fill="#2b2424"/><circle cx="880.0" cy="794.0" r="8.6" fill="#f2b64c"/><circle cx="890.5" cy="801.6" r="8.6" fill="#f2b64c"/><circle cx="886.5" cy="813.9" r="8.6" fill="#f2b64c"/><circle cx="873.5" cy="813.9" r="8.6" fill="#f2b64c"/><circle cx="869.5" cy="801.6" r="8.6" fill="#f2b64c"/><circle cx="880.0" cy="805.0" r="9.5" fill="#f2b64c"/><circle cx="880" cy="805" r="3.8" fill="#f8dca8"/><circle cx="887.0" cy="831.8" r="7.5" fill="#f2a8b4"/><circle cx="894.1" cy="835.9" r="7.5" fill="#f2a8b4"/><circle cx="894.1" cy="844.1" r="7.5" fill="#f2a8b4"/><circle cx="887.0" cy="848.2" r="7.5" fill="#f2a8b4"/><circle cx="879.9" cy="844.1" r="7.5" fill="#f2a8b4"/><circle cx="879.9" cy="835.9" r="7.5" fill="#f2a8b4"/><circle cx="887.0" cy="840.0" r="7.5" fill="#f2a8b4"/><circle cx="887" cy="840" r="2.1" fill="#b04a38"/><path d="M-15.0,0 Q0,-7.2 15.0,0 Q0,7.2 -15.0,0Z" transform="translate(918.0 816.0) rotate(-50)" fill="#8fbfc2"/><path d="M-11.0,0 Q0,-5.6 11.0,0 Q0,5.6 -11.0,0Z" transform="translate(908.0 828.0) rotate(-30)" fill="#9fcfd2"/><path d="M-14.0,0 Q0,-6.4 14.0,0 Q0,6.4 -14.0,0Z" transform="translate(836.0 823.0) rotate(-60)" fill="#9fcbd0"/><circle cx="783.0" cy="873.4" r="6.0" fill="#f2b0bc"/><circle cx="788.7" cy="876.7" r="6.0" fill="#f2b0bc"/><circle cx="788.7" cy="883.3" r="6.0" fill="#f2b0bc"/><circle cx="783.0" cy="886.6" r="6.0" fill="#f2b0bc"/><circle cx="777.3" cy="883.3" r="6.0" fill="#f2b0bc"/><circle cx="777.3" cy="876.7" r="6.0" fill="#f2b0bc"/><circle cx="783.0" cy="880.0" r="6.0" fill="#f2b0bc"/><circle cx="783" cy="880" r="1.7" fill="#b04a38"/><circle cx="936.4" cy="797.8" r="1.8" fill="#e06070"/><circle cx="940.0" cy="794.7" r="1.8" fill="#e06070"/><circle cx="938.5" cy="793.1" r="1.8" fill="#e06070"/><circle cx="938.0" cy="801.7" r="1.8" fill="#e06070"/><circle cx="941.2" cy="799.9" r="1.8" fill="#e06070"/></g><path d="M745,884 L774,883 L774,1041 L745,1041 Z" fill="#f9bea6"/><path d="M774,883 L803,883 L805,880 Q845,882 875,900 L875,1051 L803,1051 L803,1041 L774,1041 Z" fill="#fdc8b2"/><path d="M775,883 L802,883 L802,893 L775,893 Z" fill="#fcd4c2"/><path d="M775,893 L802,893" stroke="#c87462" stroke-width="1.5"/><path d="M805,881 Q845,883 875,901 L875,921 L805,920 Z" fill="#fcd0bc"/><path d="M806,884 Q845,886 873,903" stroke="#b86450" stroke-width="2" fill="none"/><path d="M803,883 L803,922 M803,921 L875,922" stroke="#c06a56" stroke-width="2" fill="none"/><path d="M808,907 L872,910" stroke="#f0b8a4" stroke-width="1.2"/><path d="M803,1017 L803,1034 M806,1027 L875,1027 M842,1018 L875,1018 M842,1018 L842,1027" stroke="#c06a56" stroke-width="1.8" fill="none"/><path d="M806,1031 L875,1031" stroke="#f6c0aa" stroke-width="2"/><path d="M774,884 L774,1040" stroke="#f0b098" stroke-width="1.5"/><ellipse cx="855" cy="972" rx="11.5" ry="10.5" fill="#fcc6b0" stroke="#c87462" stroke-width="2"/><path d="M846,967 Q852,960 862,963" stroke="#fff4ee" stroke-width="2" fill="none"/><path d="M874,873 L893,873 Q897,900 925,908 L960,908 Q978,905 980,885 L980,875 L1056,875 L1056,1062 L962,1062 Q958,1045 930,1045 Q905,1045 901,1062 L874,1062 Z" fill="#fec7b1"/><path d="M896,880 Q898,905 925,910 L960,910 Q978,906 979,880 Z" fill="#e9e6e8"/><path d="M899,893 Q903,908 925,911 L960,911 Q976,908 978,891 Q940,897 899,893 Z" fill="#8c2a18"/><path d="M894,876 Q897,912 926,914 L961,914 Q982,910 982,880" stroke="#f3a890" stroke-width="3" fill="none"/><path d="M980,893 L1056,891" stroke="#d8907a" stroke-width="1.5"/><rect x="1042" y="905" width="30" height="140" fill="#f3edf0"/><circle cx="1060.0" cy="981.2" r="8.0" fill="#f5b3bf"/><circle cx="1067.6" cy="985.6" r="8.0" fill="#f5b3bf"/><circle cx="1067.6" cy="994.4" r="8.0" fill="#f5b3bf"/><circle cx="1060.0" cy="998.8" r="8.0" fill="#f5b3bf"/><circle cx="1052.4" cy="994.4" r="8.0" fill="#f5b3bf"/><circle cx="1052.4" cy="985.6" r="8.0" fill="#f5b3bf"/><circle cx="1060.0" cy="990.0" r="8.0" fill="#f5b3bf"/><circle cx="1060" cy="990" r="2.2" fill="#b04a38"/><circle cx="1057.2" cy="1024.9" r="1.8" fill="#d84050"/><circle cx="1064.4" cy="1031.8" r="1.8" fill="#d84050"/><circle cx="1061.9" cy="1026.8" r="1.8" fill="#d84050"/><circle cx="1057.3" cy="1023.5" r="1.8" fill="#d84050"/><circle cx="1060.7" cy="1033.2" r="1.8" fill="#d84050"/><circle cx="1051.3" cy="1029.8" r="1.8" fill="#d84050"/><path d="M-7.0,0 Q0,-4.8 7.0,0 Q0,4.8 -7.0,0Z" transform="translate(1052.0 960.0) rotate(80)" fill="#2b2424"/><rect x="1036" y="905" width="6" height="140" fill="#f8f6f7"/><rect x="1040" y="1042" width="22" height="20" fill="#f5b8a2"/></g>
<g fill="none" stroke="#000" stroke-width="3.4"><circle cx="455" cy="180" r="160.5"/><circle cx="1009" cy="254" r="160.5"/><circle cx="235" cy="956" r="160.5"/><circle cx="911" cy="955" r="160.5"/></g>
<g fill="none" stroke="#000" stroke-width="3.7" stroke-linejoin="miter"><polyline points="246,570 246,294 340,294"/><polyline points="628,554 628,374 901,374"/><line x1="172" y1="649" x2="172" y2="800"/><polyline points="1147,653 1147,843 1026,843"/></g>
<text class="t" x="249.0" y="384.2" font-size="48" textLength="369.5" lengthAdjust="spacingAndGlyphs">Box X Reinforcement</text>
<text class="t" x="353.0" y="446.2" font-size="48" textLength="161.3" lengthAdjust="spacingAndGlyphs">Stitching</text>
<text class="t" x="812.5" y="461.2" font-size="48" textLength="359.1" lengthAdjust="spacingAndGlyphs">Premium Adjustable</text>
<text class="t" x="895.0" y="538.3" font-size="48" textLength="192.8" lengthAdjust="spacingAndGlyphs">Roll Buckle</text>
<text class="t" x="120.0" y="1168.3" font-size="48" textLength="230.5" lengthAdjust="spacingAndGlyphs">Metal D-ring</text>
<text class="t" x="724.0" y="1168.3" font-size="48" textLength="362.3" lengthAdjust="spacingAndGlyphs">Easy Snap-on Buckle</text>
</svg>
</body></html>
